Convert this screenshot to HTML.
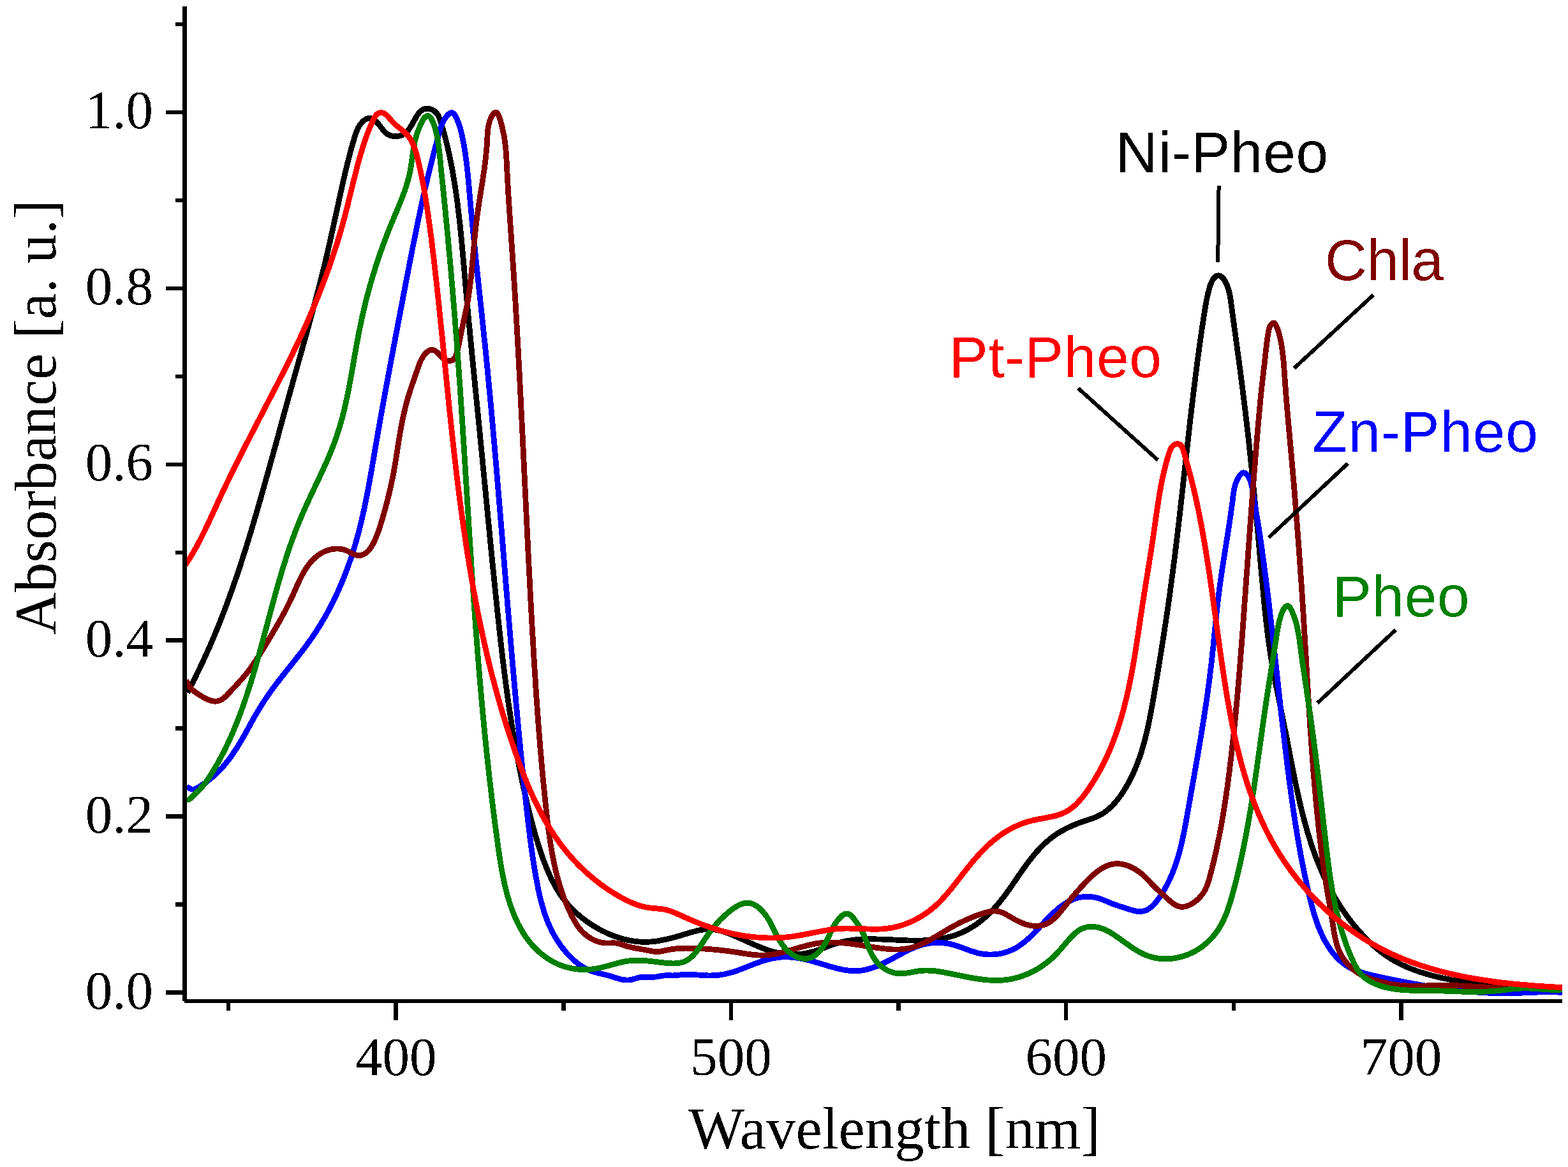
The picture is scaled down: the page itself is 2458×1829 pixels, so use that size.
<!DOCTYPE html>
<html><head><meta charset="utf-8"><title>Absorbance spectra</title>
<style>
html,body{margin:0;padding:0;background:#fff;}
body{width:2458px;height:1829px;overflow:hidden;}
svg{display:block;}
.serif{font-family:"Liberation Serif","Times New Roman",serif;}
.sans{font-family:"Liberation Sans",Arial,sans-serif;}
</style></head>
<body>
<svg xmlns="http://www.w3.org/2000/svg" width="2458" height="1829" viewBox="0 0 2458 1829">
<defs><filter id="bin" x="-5%" y="-20%" width="110%" height="140%"><feComponentTransfer><feFuncA type="discrete" tableValues="0 1"/></feComponentTransfer></filter></defs>
<rect width="2458" height="1829" fill="#fff"/>
<g fill="none" stroke-width="8.8" stroke-linejoin="round" stroke-linecap="butt" shape-rendering="crispEdges">
<path stroke="#000000" d="M293.7 1085.5 295.2 1082.8 296.6 1080.1 298.0 1077.5 299.4 1074.8 300.8 1072.1 302.2 1069.4 303.5 1066.7 304.9 1063.9 306.3 1061.2 307.6 1058.5 308.9 1055.8 310.3 1053.1 311.6 1050.4 312.9 1047.7 314.2 1044.9 315.5 1042.2 316.8 1039.5 318.1 1036.8 319.3 1034.0 320.6 1031.3 321.8 1028.6 323.1 1025.8 324.3 1023.1 325.6 1020.3 326.8 1017.6 328.0 1014.9 329.2 1012.1 330.4 1009.4 331.6 1006.6 332.8 1003.8 333.9 1001.1 335.1 998.3 336.3 995.6 337.4 992.8 338.6 990.0 339.7 987.3 340.8 984.5 342.0 981.7 343.1 979.0 344.2 976.2 345.3 973.4 346.4 970.6 347.5 967.8 348.6 965.1 349.6 962.3 350.7 959.5 351.8 956.7 352.8 953.9 353.9 951.1 354.9 948.3 356.0 945.5 357.0 942.7 358.0 939.9 359.1 937.1 360.1 934.3 361.1 931.5 362.1 928.7 363.1 925.9 364.1 923.1 365.1 920.3 366.1 917.5 367.0 914.7 368.0 911.9 369.0 909.0 370.0 906.2 370.9 903.4 371.9 900.6 372.8 897.7 373.8 894.9 374.7 892.1 375.6 889.3 376.6 886.4 377.5 883.6 378.4 880.8 379.4 877.9 380.3 875.1 381.2 872.3 382.1 869.4 383.0 866.6 383.9 863.7 384.8 860.9 385.7 858.0 386.6 855.2 387.5 852.4 388.3 849.5 389.2 846.7 390.1 843.8 391.0 841.0 391.8 838.1 392.7 835.2 393.6 832.4 394.4 829.5 395.3 826.7 396.1 823.8 397.0 820.9 397.8 818.1 398.7 815.2 399.5 812.4 400.4 809.5 401.2 806.6 402.1 803.8 402.9 800.9 403.7 798.0 404.6 795.1 405.4 792.3 406.2 789.4 407.0 786.5 407.9 783.7 408.7 780.8 409.5 777.9 410.3 775.0 411.1 772.1 412.0 769.3 412.8 766.4 413.6 763.5 414.4 760.6 415.2 757.7 416.0 754.8 416.8 752.0 417.6 749.1 418.4 746.2 419.3 743.3 420.1 740.4 420.9 737.5 421.7 734.6 422.5 731.7 423.3 728.8 424.1 725.9 424.9 723.1 425.7 720.2 426.5 717.3 427.3 714.4 428.1 711.5 428.9 708.6 429.7 705.7 430.5 702.8 431.3 699.9 432.1 697.0 432.9 694.1 433.7 691.2 434.5 688.3 435.3 685.4 436.1 682.5 436.8 679.6 437.6 676.7 438.4 673.8 439.2 670.9 440.0 668.0 440.8 665.1 441.6 662.2 442.4 659.2 443.2 656.3 444.0 653.4 444.8 650.5 445.6 647.6 446.4 644.7 447.2 641.8 448.0 638.9 448.8 636.0 449.6 633.1 450.4 630.2 451.2 627.3 452.0 624.3 452.8 621.4 453.6 618.5 454.5 615.6 455.3 612.7 456.1 609.8 456.9 606.9 457.7 604.0 458.5 601.1 459.3 598.2 460.1 595.2 460.9 592.3 461.8 589.4 462.6 586.5 463.4 583.6 464.2 580.7 465.0 577.8 465.8 574.9 466.7 571.9 467.5 569.0 468.3 566.1 469.1 563.2 469.9 560.3 470.8 557.4 471.6 554.5 472.4 551.6 473.2 548.7 474.0 545.7 474.8 542.8 475.7 539.9 476.5 537.0 477.3 534.1 478.1 531.2 478.9 528.3 479.7 525.4 480.5 522.5 481.3 519.6 482.1 516.6 482.9 513.7 483.7 510.8 484.5 507.9 485.3 505.0 486.1 502.1 486.9 499.2 487.7 496.3 488.5 493.4 489.3 490.5 490.1 487.6 490.9 484.7 491.6 481.8 492.4 478.9 493.2 476.0 494.0 473.1 494.7 470.1 495.5 467.2 496.3 464.3 497.0 461.4 497.8 458.5 498.6 455.6 499.3 452.7 500.1 449.8 500.8 446.9 501.5 444.0 502.3 441.2 503.0 438.3 503.7 435.4 504.5 432.5 505.2 429.6 505.9 426.7 506.6 423.8 507.3 420.9 508.0 418.0 508.7 415.1 509.4 412.2 510.1 409.3 510.8 406.4 511.5 403.6 512.2 400.7 512.8 397.8 513.5 394.9 514.2 392.0 514.8 389.1 515.5 386.2 516.1 383.3 516.8 380.5 517.5 377.6 518.1 374.7 518.7 371.8 519.4 368.9 520.0 366.0 520.7 363.1 521.3 360.3 522.0 357.4 522.6 354.5 523.2 351.6 523.9 348.7 524.5 345.8 525.1 342.9 525.8 340.0 526.4 337.1 527.0 334.2 527.7 331.3 528.3 328.4 528.9 325.6 529.6 322.7 530.2 319.8 530.8 316.9 531.5 313.9 532.1 311.0 532.7 308.1 533.4 305.2 534.0 302.3 534.7 299.4 535.3 296.5 536.0 293.6 536.6 290.7 537.3 287.7 537.9 284.8 538.6 281.9 539.3 279.0 539.9 276.0 540.6 273.1 541.3 270.2 542.0 267.2 542.7 264.3 543.4 261.3 544.1 258.4 544.8 255.4 545.6 252.5 546.3 249.5 547.1 246.6 547.8 243.6 548.6 240.7 549.4 237.7 550.2 234.7 551.0 231.7 551.9 228.8 552.7 225.8 553.6 222.8 554.5 219.8 555.4 216.8 556.3 213.8 557.2 210.8 558.3 207.9 559.4 205.0 560.6 202.2 561.9 199.5 563.5 196.8 565.2 194.4 567.1 192.1 569.2 189.9 571.6 188.1 574.1 186.6 576.6 185.7 579.2 185.3 581.8 185.6 584.3 186.6 586.8 188.0 589.1 190.0 591.4 192.2 593.5 194.7 595.6 197.3 597.6 200.0 599.6 202.6 601.7 205.1 603.9 207.4 606.2 209.4 608.6 211.0 611.2 212.2 613.9 213.1 616.7 213.6 619.5 213.8 622.3 213.7 625.2 213.3 627.9 212.6 630.6 211.6 633.2 210.2 635.6 208.5 637.8 206.5 639.9 204.1 641.9 201.5 643.7 198.7 645.5 195.8 647.2 192.7 648.8 189.7 650.5 186.7 652.1 183.7 653.9 180.9 655.7 178.3 657.6 176.0 659.6 174.0 661.8 172.3 664.1 171.1 666.7 170.3 669.4 170.1 672.3 170.4 675.2 171.1 677.9 172.2 680.5 173.7 682.8 175.5 684.7 177.6 686.3 179.9 687.6 182.4 688.8 185.0 689.8 187.8 690.8 190.7 691.7 193.5 692.5 196.4 693.4 199.3 694.3 202.2 695.1 205.1 695.9 208.0 696.7 210.9 697.5 213.8 698.2 216.8 699.0 219.7 699.7 222.7 700.5 225.6 701.2 228.6 701.8 231.5 702.5 234.5 703.2 237.5 703.8 240.4 704.5 243.4 705.1 246.4 705.7 249.4 706.3 252.3 706.9 255.3 707.5 258.3 708.1 261.3 708.6 264.2 709.2 267.2 709.7 270.2 710.2 273.2 710.7 276.1 711.2 279.1 711.7 282.1 712.2 285.1 712.7 288.1 713.2 291.0 713.6 294.0 714.1 297.0 714.5 300.0 714.9 302.9 715.4 305.9 715.8 308.9 716.2 311.9 716.6 314.9 717.0 317.8 717.4 320.8 717.7 323.8 718.1 326.8 718.5 329.7 718.8 332.7 719.2 335.7 719.5 338.7 719.9 341.7 720.2 344.6 720.5 347.6 720.9 350.6 721.2 353.6 721.5 356.6 721.8 359.5 722.1 362.5 722.4 365.5 722.7 368.5 723.0 371.5 723.3 374.4 723.6 377.4 723.9 380.4 724.1 383.4 724.4 386.4 724.7 389.3 725.0 392.3 725.2 395.3 725.5 398.3 725.8 401.3 726.0 404.2 726.3 407.2 726.6 410.2 726.8 413.2 727.1 416.2 727.3 419.1 727.6 422.1 727.9 425.1 728.1 428.1 728.4 431.1 728.6 434.1 728.9 437.0 729.2 440.0 729.4 443.0 729.7 446.0 729.9 449.0 730.2 452.0 730.5 454.9 730.7 457.9 731.0 460.9 731.3 463.9 731.5 466.9 731.8 469.9 732.1 472.8 732.4 475.8 732.6 478.8 732.9 481.8 733.2 484.8 733.5 487.8 733.7 490.7 734.0 493.7 734.3 496.7 734.6 499.7 734.9 502.7 735.1 505.7 735.4 508.6 735.7 511.6 736.0 514.6 736.3 517.6 736.6 520.6 736.8 523.6 737.1 526.6 737.4 529.5 737.7 532.5 738.0 535.5 738.3 538.5 738.6 541.5 738.9 544.5 739.2 547.4 739.4 550.4 739.7 553.4 740.0 556.4 740.3 559.4 740.6 562.4 740.9 565.4 741.2 568.4 741.5 571.3 741.8 574.3 742.1 577.3 742.4 580.3 742.7 583.3 743.0 586.3 743.3 589.3 743.6 592.2 743.9 595.2 744.2 598.2 744.4 601.2 744.7 604.2 745.0 607.2 745.3 610.2 745.6 613.2 745.9 616.1 746.2 619.1 746.5 622.1 746.8 625.1 747.1 628.1 747.4 631.1 747.7 634.1 748.0 637.1 748.3 640.1 748.6 643.0 748.9 646.0 749.2 649.0 749.5 652.0 749.8 655.0 750.1 658.0 750.4 661.0 750.7 664.0 751.0 667.0 751.3 669.9 751.6 672.9 751.9 675.9 752.2 678.9 752.4 681.9 752.7 684.9 753.0 687.9 753.3 690.9 753.6 693.9 753.9 696.8 754.2 699.8 754.5 702.8 754.8 705.8 755.1 708.8 755.4 711.8 755.7 714.8 756.0 717.8 756.2 720.8 756.5 723.8 756.8 726.8 757.1 729.7 757.4 732.7 757.7 735.7 758.0 738.7 758.3 741.7 758.6 744.7 758.9 747.7 759.1 750.7 759.4 753.7 759.7 756.7 760.0 759.6 760.3 762.6 760.6 765.6 760.9 768.6 761.2 771.6 761.5 774.6 761.7 777.6 762.0 780.6 762.3 783.6 762.6 786.6 762.9 789.6 763.2 792.5 763.5 795.5 763.8 798.5 764.1 801.5 764.3 804.5 764.6 807.5 764.9 810.5 765.2 813.5 765.5 816.5 765.8 819.5 766.1 822.4 766.4 825.4 766.7 828.4 767.0 831.4 767.3 834.4 767.5 837.4 767.8 840.4 768.1 843.4 768.4 846.4 768.7 849.3 769.0 852.3 769.3 855.3 769.6 858.3 769.9 861.3 770.2 864.3 770.5 867.3 770.8 870.3 771.1 873.2 771.4 876.2 771.7 879.2 772.0 882.2 772.3 885.2 772.6 888.2 772.9 891.2 773.2 894.2 773.5 897.1 773.8 900.1 774.1 903.1 774.4 906.1 774.7 909.1 775.0 912.1 775.3 915.1 775.6 918.0 775.9 921.0 776.2 924.0 776.5 927.0 776.8 930.0 777.1 933.0 777.4 935.9 777.8 938.9 778.1 941.9 778.4 944.9 778.7 947.9 779.0 950.8 779.3 953.8 779.6 956.8 779.9 959.8 780.3 962.8 780.6 965.8 780.9 968.7 781.2 971.7 781.5 974.7 781.9 977.7 782.2 980.7 782.5 983.6 782.8 986.6 783.2 989.6 783.5 992.6 783.8 995.5 784.2 998.5 784.5 1001.5 784.8 1004.5 785.2 1007.5 785.5 1010.4 785.8 1013.4 786.2 1016.4 786.5 1019.4 786.9 1022.3 787.2 1025.3 787.6 1028.3 787.9 1031.2 788.3 1034.2 788.6 1037.2 789.0 1040.2 789.4 1043.1 789.7 1046.1 790.1 1049.1 790.5 1052.0 790.8 1055.0 791.2 1058.0 791.6 1061.0 792.0 1063.9 792.3 1066.9 792.7 1069.9 793.1 1072.8 793.5 1075.8 793.9 1078.8 794.3 1081.7 794.7 1084.7 795.1 1087.7 795.5 1090.6 795.9 1093.6 796.4 1096.6 796.8 1099.5 797.2 1102.5 797.6 1105.5 798.1 1108.4 798.5 1111.4 798.9 1114.3 799.4 1117.3 799.8 1120.3 800.3 1123.2 800.7 1126.2 801.2 1129.1 801.7 1132.1 802.1 1135.1 802.6 1138.0 803.1 1141.0 803.5 1143.9 804.0 1146.9 804.5 1149.8 805.0 1152.8 805.5 1155.7 806.0 1158.7 806.5 1161.7 807.0 1164.6 807.6 1167.6 808.1 1170.5 808.6 1173.5 809.1 1176.4 809.7 1179.4 810.2 1182.3 810.8 1185.3 811.3 1188.2 811.9 1191.2 812.4 1194.1 813.0 1197.1 813.6 1200.0 814.2 1202.9 814.8 1205.9 815.3 1208.8 815.9 1211.8 816.5 1214.7 817.2 1217.7 817.8 1220.6 818.4 1223.6 819.0 1226.5 819.6 1229.4 820.3 1232.4 820.9 1235.3 821.6 1238.3 822.2 1241.2 822.9 1244.1 823.6 1247.1 824.2 1250.0 824.9 1253.0 825.6 1255.9 826.3 1258.8 827.0 1261.8 827.7 1264.7 828.4 1267.6 829.1 1270.6 829.9 1273.5 830.6 1276.5 831.3 1279.4 832.1 1282.3 832.8 1285.3 833.6 1288.2 834.4 1291.1 835.2 1294.0 836.0 1296.9 836.8 1299.9 837.6 1302.8 838.4 1305.7 839.2 1308.6 840.1 1311.5 840.9 1314.4 841.8 1317.3 842.7 1320.1 843.6 1323.0 844.5 1325.9 845.4 1328.7 846.3 1331.6 847.3 1334.5 848.3 1337.3 849.2 1340.1 850.2 1342.9 851.2 1345.8 852.2 1348.6 853.3 1351.4 854.3 1354.1 855.4 1356.9 856.5 1359.7 857.6 1362.4 858.8 1365.2 860.0 1367.9 861.1 1370.6 862.4 1373.3 863.6 1375.9 864.9 1378.6 866.2 1381.2 867.6 1383.8 869.0 1386.4 870.4 1389.0 871.8 1391.6 873.3 1394.1 874.9 1396.6 876.5 1399.1 878.1 1401.6 879.7 1404.0 881.5 1406.4 883.2 1408.8 885.0 1411.1 886.9 1413.5 888.8 1415.8 890.7 1418.0 892.8 1420.3 894.8 1422.5 896.9 1424.6 899.1 1426.8 901.3 1428.9 903.5 1431.0 905.8 1433.0 908.1 1435.0 910.5 1437.0 912.9 1438.9 915.3 1440.8 917.8 1442.6 920.3 1444.4 922.8 1446.2 925.3 1447.9 927.9 1449.6 930.5 1451.2 933.2 1452.8 935.8 1454.4 938.5 1455.9 941.2 1457.4 943.9 1458.8 946.6 1460.1 949.4 1461.5 952.1 1462.7 954.9 1464.0 957.7 1465.1 960.5 1466.2 963.3 1467.3 966.1 1468.3 968.9 1469.3 971.8 1470.2 974.6 1471.0 977.5 1471.8 980.3 1472.5 983.2 1473.2 986.1 1473.8 989.0 1474.3 991.9 1474.8 994.8 1475.2 997.7 1475.6 1000.6 1475.9 1003.5 1476.1 1006.5 1476.2 1009.4 1476.3 1012.3 1476.3 1015.3 1476.2 1018.2 1476.1 1021.2 1475.9 1024.1 1475.6 1027.1 1475.3 1030.0 1474.9 1033.0 1474.4 1035.9 1473.9 1038.9 1473.3 1041.9 1472.7 1044.8 1472.1 1047.8 1471.4 1050.7 1470.6 1053.7 1469.9 1056.6 1469.1 1059.6 1468.2 1062.5 1467.4 1065.5 1466.6 1068.4 1465.7 1071.4 1464.8 1074.3 1463.9 1077.3 1463.0 1080.2 1462.1 1083.1 1461.3 1086.0 1460.5 1088.9 1459.7 1091.9 1458.9 1094.8 1458.3 1097.7 1457.7 1100.6 1457.2 1103.4 1456.8 1106.3 1456.5 1109.2 1456.3 1112.1 1456.3 1115.0 1456.3 1117.8 1456.6 1120.7 1456.9 1123.6 1457.4 1126.4 1458.0 1129.2 1458.7 1132.1 1459.5 1134.9 1460.4 1137.8 1461.3 1140.6 1462.3 1143.4 1463.4 1146.2 1464.5 1149.0 1465.7 1151.8 1466.9 1154.6 1468.1 1157.4 1469.3 1160.2 1470.6 1163.0 1471.8 1165.8 1473.1 1168.6 1474.4 1171.3 1475.6 1174.1 1476.9 1176.9 1478.1 1179.7 1479.4 1182.5 1480.6 1185.3 1481.8 1188.1 1483.0 1190.9 1484.2 1193.7 1485.3 1196.5 1486.4 1199.3 1487.5 1202.1 1488.5 1205.0 1489.4 1207.8 1490.4 1210.7 1491.2 1213.5 1492.0 1216.4 1492.7 1219.3 1493.4 1222.2 1494.0 1225.1 1494.5 1228.0 1495.0 1231.0 1495.3 1233.9 1495.6 1236.9 1495.8 1239.9 1495.9 1242.8 1496.0 1245.8 1495.9 1248.8 1495.8 1251.8 1495.6 1254.8 1495.3 1257.8 1495.0 1260.7 1494.5 1263.7 1494.0 1266.6 1493.4 1269.6 1492.7 1272.5 1492.0 1275.4 1491.2 1278.3 1490.3 1281.2 1489.3 1284.1 1488.3 1287.0 1487.3 1289.8 1486.2 1292.7 1485.2 1295.5 1484.1 1298.4 1483.0 1301.2 1481.9 1304.1 1480.9 1306.9 1479.9 1309.8 1479.0 1312.6 1478.2 1315.5 1477.4 1318.4 1476.6 1321.3 1476.0 1324.2 1475.4 1327.1 1474.8 1330.0 1474.3 1332.9 1473.9 1335.8 1473.5 1338.7 1473.1 1341.7 1472.8 1344.6 1472.6 1347.6 1472.3 1350.5 1472.2 1353.5 1472.0 1356.4 1471.9 1359.4 1471.8 1362.4 1471.8 1365.3 1471.8 1368.3 1471.8 1371.3 1471.8 1374.3 1471.9 1377.3 1472.0 1380.3 1472.0 1383.3 1472.2 1386.3 1472.3 1389.3 1472.4 1392.3 1472.5 1395.3 1472.7 1398.3 1472.8 1401.3 1473.0 1404.3 1473.1 1407.4 1473.3 1410.4 1473.4 1413.4 1473.5 1416.4 1473.7 1419.5 1473.8 1422.5 1473.9 1425.5 1473.9 1428.6 1474.0 1431.6 1474.1 1434.6 1474.1 1437.6 1474.1 1440.7 1474.0 1443.7 1474.0 1446.7 1473.9 1449.7 1473.8 1452.7 1473.6 1455.7 1473.4 1458.7 1473.2 1461.6 1472.9 1464.6 1472.6 1467.6 1472.3 1470.5 1471.9 1473.4 1471.4 1476.3 1470.9 1479.2 1470.4 1482.1 1469.8 1485.0 1469.2 1487.9 1468.4 1490.7 1467.7 1493.5 1466.9 1496.3 1466.0 1499.1 1465.0 1501.8 1464.0 1504.6 1462.9 1507.3 1461.7 1510.0 1460.5 1512.7 1459.2 1515.3 1457.9 1517.9 1456.4 1520.5 1455.0 1523.1 1453.4 1525.6 1451.8 1528.1 1450.2 1530.6 1448.5 1533.0 1446.7 1535.4 1444.9 1537.8 1443.1 1540.2 1441.2 1542.5 1439.3 1544.8 1437.3 1547.0 1435.3 1549.2 1433.2 1551.4 1431.1 1553.5 1429.0 1555.6 1426.8 1557.7 1424.6 1559.7 1422.4 1561.7 1420.2 1563.7 1417.9 1565.6 1415.6 1567.5 1413.3 1569.4 1410.9 1571.2 1408.6 1573.1 1406.2 1574.9 1403.8 1576.7 1401.4 1578.4 1398.9 1580.2 1396.5 1581.9 1394.0 1583.7 1391.6 1585.4 1389.1 1587.1 1386.6 1588.8 1384.1 1590.5 1381.6 1592.2 1379.2 1593.9 1376.7 1595.6 1374.2 1597.3 1371.7 1599.0 1369.2 1600.8 1366.7 1602.5 1364.3 1604.2 1361.8 1606.0 1359.4 1607.7 1356.9 1609.5 1354.5 1611.3 1352.1 1613.1 1349.7 1614.9 1347.4 1616.8 1345.0 1618.6 1342.7 1620.5 1340.4 1622.5 1338.1 1624.4 1335.8 1626.4 1333.6 1628.4 1331.4 1630.4 1329.2 1632.5 1327.1 1634.6 1325.0 1636.7 1322.9 1638.9 1320.9 1641.1 1318.9 1643.4 1317.0 1645.7 1315.1 1648.1 1313.2 1650.4 1311.4 1652.9 1309.6 1655.4 1307.9 1657.9 1306.2 1660.5 1304.6 1663.2 1303.0 1665.8 1301.5 1668.6 1300.0 1671.3 1298.6 1674.1 1297.2 1676.9 1295.9 1679.8 1294.6 1682.6 1293.3 1685.5 1292.2 1688.3 1291.0 1691.2 1289.9 1694.1 1288.9 1696.9 1287.8 1699.8 1286.9 1702.6 1285.9 1705.4 1285.0 1708.2 1284.1 1711.0 1283.2 1713.7 1282.2 1716.4 1281.2 1719.0 1280.1 1721.6 1278.9 1724.1 1277.6 1726.6 1276.3 1729.1 1274.8 1731.4 1273.2 1733.8 1271.5 1736.0 1269.7 1738.2 1267.8 1740.4 1265.8 1742.5 1263.8 1744.6 1261.7 1746.6 1259.5 1748.6 1257.3 1750.5 1255.0 1752.4 1252.6 1754.3 1250.2 1756.1 1247.7 1757.8 1245.2 1759.5 1242.7 1761.2 1240.1 1762.8 1237.5 1764.4 1234.9 1766.0 1232.3 1767.5 1229.6 1768.9 1227.0 1770.4 1224.3 1771.8 1221.6 1773.1 1218.9 1774.5 1216.2 1775.7 1213.4 1777.0 1210.7 1778.2 1207.9 1779.4 1205.2 1780.6 1202.4 1781.7 1199.6 1782.8 1196.8 1783.8 1194.0 1784.9 1191.2 1785.9 1188.4 1786.9 1185.6 1787.8 1182.7 1788.8 1179.9 1789.7 1177.0 1790.6 1174.2 1791.4 1171.3 1792.2 1168.4 1793.1 1165.6 1793.9 1162.7 1794.6 1159.8 1795.4 1156.9 1796.1 1154.0 1796.8 1151.1 1797.5 1148.2 1798.2 1145.2 1798.9 1142.3 1799.5 1139.4 1800.2 1136.4 1800.8 1133.5 1801.4 1130.6 1802.0 1127.6 1802.6 1124.7 1803.1 1121.7 1803.7 1118.8 1804.3 1115.8 1804.8 1112.9 1805.3 1109.9 1805.9 1106.9 1806.4 1104.0 1806.9 1101.0 1807.4 1098.0 1808.0 1095.1 1808.5 1092.1 1809.0 1089.1 1809.5 1086.2 1810.0 1083.2 1810.5 1080.2 1811.0 1077.3 1811.5 1074.3 1812.0 1071.4 1812.5 1068.4 1813.0 1065.4 1813.5 1062.5 1814.0 1059.5 1814.5 1056.5 1814.9 1053.6 1815.4 1050.6 1815.9 1047.7 1816.4 1044.7 1816.9 1041.7 1817.4 1038.8 1817.9 1035.8 1818.3 1032.8 1818.8 1029.9 1819.3 1026.9 1819.8 1024.0 1820.2 1021.0 1820.7 1018.0 1821.2 1015.1 1821.7 1012.1 1822.1 1009.2 1822.6 1006.2 1823.0 1003.2 1823.5 1000.3 1824.0 997.3 1824.4 994.4 1824.9 991.4 1825.3 988.4 1825.8 985.5 1826.2 982.5 1826.7 979.6 1827.1 976.6 1827.6 973.6 1828.0 970.7 1828.5 967.7 1828.9 964.7 1829.3 961.8 1829.8 958.8 1830.2 955.9 1830.6 952.9 1831.1 949.9 1831.5 947.0 1831.9 944.0 1832.3 941.0 1832.8 938.1 1833.2 935.1 1833.6 932.1 1834.0 929.2 1834.4 926.2 1834.8 923.2 1835.2 920.3 1835.6 917.3 1836.0 914.3 1836.4 911.3 1836.8 908.4 1837.2 905.4 1837.6 902.4 1838.0 899.4 1838.4 896.5 1838.8 893.5 1839.2 890.5 1839.6 887.5 1839.9 884.6 1840.3 881.6 1840.7 878.6 1841.1 875.6 1841.4 872.7 1841.8 869.7 1842.2 866.7 1842.6 863.7 1842.9 860.7 1843.3 857.8 1843.6 854.8 1844.0 851.8 1844.4 848.8 1844.7 845.8 1845.1 842.9 1845.4 839.9 1845.8 836.9 1846.1 833.9 1846.5 830.9 1846.8 827.9 1847.2 824.9 1847.5 822.0 1847.9 819.0 1848.2 816.0 1848.6 813.0 1848.9 810.0 1849.3 807.0 1849.6 804.1 1849.9 801.1 1850.3 798.1 1850.6 795.1 1850.9 792.1 1851.3 789.1 1851.6 786.1 1852.0 783.1 1852.3 780.2 1852.6 777.2 1853.0 774.2 1853.3 771.2 1853.6 768.2 1854.0 765.2 1854.3 762.2 1854.6 759.2 1854.9 756.3 1855.3 753.3 1855.6 750.3 1855.9 747.3 1856.3 744.3 1856.6 741.3 1856.9 738.3 1857.3 735.3 1857.6 732.4 1857.9 729.4 1858.2 726.4 1858.6 723.4 1858.9 720.4 1859.2 717.4 1859.6 714.4 1859.9 711.4 1860.2 708.5 1860.6 705.5 1860.9 702.5 1861.2 699.5 1861.6 696.5 1861.9 693.5 1862.2 690.5 1862.6 687.6 1862.9 684.6 1863.2 681.6 1863.6 678.6 1863.9 675.6 1864.2 672.6 1864.6 669.7 1864.9 666.7 1865.3 663.7 1865.6 660.7 1865.9 657.7 1866.3 654.7 1866.6 651.8 1867.0 648.8 1867.3 645.8 1867.7 642.8 1868.0 639.8 1868.4 636.9 1868.7 633.9 1869.1 630.9 1869.4 627.9 1869.8 625.0 1870.1 622.0 1870.5 619.0 1870.8 616.0 1871.2 613.1 1871.6 610.1 1871.9 607.1 1872.3 604.1 1872.7 601.2 1873.0 598.2 1873.4 595.2 1873.8 592.2 1874.1 589.3 1874.5 586.3 1874.9 583.3 1875.3 580.4 1875.7 577.4 1876.0 574.4 1876.4 571.5 1876.8 568.5 1877.2 565.5 1877.6 562.6 1878.0 559.6 1878.4 556.6 1878.8 553.7 1879.2 550.7 1879.6 547.8 1880.0 544.8 1880.4 541.8 1880.8 538.9 1881.2 535.9 1881.7 533.0 1882.1 530.0 1882.5 527.1 1882.9 524.1 1883.3 521.2 1883.8 518.2 1884.2 515.3 1884.6 512.3 1885.1 509.4 1885.5 506.4 1886.0 503.5 1886.4 500.5 1886.9 497.6 1887.3 494.6 1887.8 491.7 1888.2 488.7 1888.7 485.8 1889.2 482.9 1889.7 479.9 1890.2 476.9 1890.7 474.0 1891.3 471.0 1891.9 468.0 1892.5 465.0 1893.2 462.0 1893.9 458.9 1894.7 455.9 1895.6 452.8 1896.4 449.6 1897.4 446.5 1898.6 443.5 1899.9 440.6 1901.4 437.9 1903.3 435.5 1905.3 433.5 1907.5 432.2 1909.9 431.8 1912.2 432.2 1914.4 433.4 1916.5 435.3 1918.4 437.6 1920.1 440.2 1921.7 443.1 1923.0 446.0 1924.2 449.0 1925.3 451.9 1926.2 454.9 1926.9 458.0 1927.6 461.0 1928.2 464.0 1928.7 467.0 1929.2 470.1 1929.6 473.1 1930.0 476.1 1930.4 479.1 1930.8 482.1 1931.2 485.1 1931.6 488.1 1932.0 491.1 1932.4 494.1 1932.8 497.0 1933.2 500.0 1933.6 502.9 1934.0 505.9 1934.4 508.8 1934.8 511.8 1935.2 514.7 1935.6 517.6 1936.0 520.6 1936.4 523.5 1936.8 526.4 1937.2 529.4 1937.6 532.3 1938.0 535.2 1938.4 538.2 1938.8 541.1 1939.2 544.0 1939.6 547.0 1940.0 549.9 1940.4 552.9 1940.8 555.8 1941.2 558.8 1941.6 561.7 1942.0 564.7 1942.4 567.6 1942.8 570.6 1943.2 573.6 1943.6 576.5 1944.0 579.5 1944.3 582.5 1944.7 585.5 1945.1 588.4 1945.5 591.4 1945.9 594.4 1946.3 597.4 1946.6 600.4 1947.0 603.4 1947.4 606.4 1947.8 609.4 1948.2 612.4 1948.5 615.4 1948.9 618.4 1949.3 621.4 1949.7 624.4 1950.0 627.4 1950.4 630.4 1950.8 633.4 1951.1 636.4 1951.5 639.4 1951.9 642.5 1952.2 645.5 1952.6 648.5 1952.9 651.5 1953.3 654.5 1953.6 657.5 1954.0 660.5 1954.3 663.5 1954.7 666.5 1955.0 669.5 1955.4 672.5 1955.7 675.5 1956.1 678.5 1956.4 681.5 1956.7 684.5 1957.1 687.5 1957.4 690.5 1957.7 693.5 1958.1 696.5 1958.4 699.5 1958.7 702.5 1959.0 705.5 1959.4 708.5 1959.7 711.5 1960.0 714.5 1960.3 717.5 1960.6 720.5 1960.9 723.5 1961.3 726.5 1961.6 729.5 1961.9 732.5 1962.2 735.4 1962.5 738.4 1962.8 741.4 1963.1 744.4 1963.4 747.4 1963.7 750.4 1964.0 753.4 1964.3 756.4 1964.6 759.3 1964.9 762.3 1965.2 765.3 1965.5 768.3 1965.8 771.3 1966.1 774.3 1966.4 777.2 1966.7 780.2 1966.9 783.2 1967.2 786.2 1967.5 789.2 1967.8 792.1 1968.1 795.1 1968.4 798.1 1968.7 801.1 1968.9 804.0 1969.2 807.0 1969.5 810.0 1969.8 813.0 1970.1 815.9 1970.3 818.9 1970.6 821.9 1970.9 824.9 1971.2 827.8 1971.4 830.8 1971.7 833.8 1972.0 836.8 1972.2 839.7 1972.5 842.7 1972.8 845.7 1973.1 848.6 1973.3 851.6 1973.6 854.6 1973.9 857.6 1974.1 860.5 1974.4 863.5 1974.7 866.5 1974.9 869.4 1975.2 872.4 1975.5 875.4 1975.7 878.3 1976.0 881.3 1976.3 884.3 1976.5 887.2 1976.8 890.2 1977.0 893.2 1977.3 896.1 1977.6 899.1 1977.8 902.1 1978.1 905.0 1978.4 908.0 1978.6 911.0 1978.9 913.9 1979.2 916.9 1979.4 919.9 1979.7 922.8 1980.0 925.8 1980.2 928.7 1980.5 931.7 1980.8 934.7 1981.1 937.6 1981.4 940.6 1981.7 943.6 1981.9 946.5 1982.2 949.5 1982.5 952.5 1982.8 955.4 1983.1 958.4 1983.5 961.4 1983.8 964.3 1984.1 967.3 1984.4 970.2 1984.7 973.2 1985.1 976.2 1985.4 979.1 1985.8 982.1 1986.1 985.1 1986.5 988.0 1986.8 991.0 1987.2 993.9 1987.6 996.9 1988.0 999.9 1988.4 1002.8 1988.8 1005.8 1989.2 1008.8 1989.6 1011.7 1990.0 1014.7 1990.5 1017.7 1990.9 1020.6 1991.4 1023.6 1991.8 1026.6 1992.3 1029.5 1992.8 1032.5 1993.3 1035.5 1993.7 1038.4 1994.3 1041.4 1994.8 1044.3 1995.3 1047.3 1995.8 1050.3 1996.4 1053.2 1996.9 1056.2 1997.5 1059.2 1998.0 1062.1 1998.6 1065.1 1999.2 1068.1 1999.7 1071.1 2000.3 1074.0 2000.9 1077.0 2001.5 1080.0 2002.1 1082.9 2002.7 1085.9 2003.3 1088.9 2003.9 1091.8 2004.5 1094.8 2005.1 1097.8 2005.7 1100.7 2006.3 1103.7 2006.9 1106.7 2007.5 1109.7 2008.1 1112.6 2008.8 1115.6 2009.4 1118.6 2010.0 1121.6 2010.6 1124.5 2011.2 1127.5 2011.8 1130.5 2012.4 1133.5 2013.0 1136.4 2013.6 1139.4 2014.2 1142.4 2014.8 1145.4 2015.4 1148.3 2016.0 1151.3 2016.6 1154.3 2017.2 1157.3 2017.7 1160.2 2018.3 1163.2 2018.9 1166.2 2019.5 1169.2 2020.0 1172.2 2020.6 1175.1 2021.2 1178.1 2021.8 1181.1 2022.3 1184.1 2022.9 1187.0 2023.5 1190.0 2024.1 1193.0 2024.6 1195.9 2025.2 1198.9 2025.8 1201.9 2026.4 1204.8 2027.0 1207.8 2027.6 1210.8 2028.2 1213.7 2028.7 1216.7 2029.3 1219.6 2030.0 1222.6 2030.6 1225.5 2031.2 1228.5 2031.8 1231.4 2032.4 1234.4 2033.0 1237.3 2033.7 1240.2 2034.3 1243.2 2035.0 1246.1 2035.6 1249.0 2036.3 1252.0 2036.9 1254.9 2037.6 1257.8 2038.3 1260.7 2039.0 1263.6 2039.7 1266.5 2040.4 1269.4 2041.1 1272.3 2041.8 1275.2 2042.6 1278.1 2043.3 1281.0 2044.1 1283.9 2044.8 1286.7 2045.6 1289.6 2046.4 1292.5 2047.2 1295.3 2048.0 1298.2 2048.8 1301.1 2049.6 1303.9 2050.5 1306.7 2051.3 1309.6 2052.2 1312.4 2053.1 1315.2 2054.0 1318.1 2054.9 1320.9 2055.8 1323.7 2056.7 1326.5 2057.7 1329.3 2058.7 1332.1 2059.6 1334.8 2060.6 1337.6 2061.7 1340.4 2062.7 1343.2 2063.7 1345.9 2064.8 1348.7 2065.9 1351.4 2067.0 1354.1 2068.1 1356.9 2069.2 1359.6 2070.4 1362.3 2071.5 1365.0 2072.7 1367.7 2073.9 1370.4 2075.1 1373.1 2076.4 1375.8 2077.7 1378.4 2078.9 1381.1 2080.2 1383.8 2081.6 1386.4 2082.9 1389.0 2084.3 1391.7 2085.7 1394.3 2087.1 1396.9 2088.5 1399.5 2090.0 1402.1 2091.4 1404.7 2092.9 1407.2 2094.5 1409.8 2096.0 1412.4 2097.6 1414.9 2099.2 1417.4 2100.8 1420.0 2102.4 1422.5 2104.1 1425.0 2105.8 1427.5 2107.5 1430.0 2109.2 1432.4 2111.0 1434.9 2112.8 1437.4 2114.6 1439.8 2116.5 1442.2 2118.4 1444.7 2120.3 1447.1 2122.2 1449.5 2124.1 1451.9 2126.1 1454.2 2128.1 1456.6 2130.2 1458.9 2132.2 1461.2 2134.3 1463.5 2136.4 1465.8 2138.6 1468.1 2140.7 1470.3 2142.9 1472.5 2145.1 1474.6 2147.3 1476.8 2149.6 1478.9 2151.8 1480.9 2154.1 1483.0 2156.5 1485.0 2158.8 1487.0 2161.2 1488.9 2163.5 1490.8 2165.9 1492.6 2168.3 1494.4 2170.8 1496.2 2173.2 1497.9 2175.7 1499.6 2178.2 1501.2 2180.7 1502.8 2183.3 1504.3 2185.8 1505.8 2188.4 1507.3 2191.0 1508.7 2193.6 1510.0 2196.2 1511.3 2198.8 1512.6 2201.5 1513.8 2204.1 1515.0 2206.8 1516.2 2209.5 1517.3 2212.2 1518.4 2215.0 1519.4 2217.7 1520.5 2220.5 1521.5 2223.2 1522.4 2226.0 1523.4 2228.8 1524.3 2231.6 1525.1 2234.4 1526.0 2237.3 1526.8 2240.1 1527.6 2243.0 1528.4 2245.8 1529.2 2248.7 1529.9 2251.6 1530.6 2254.5 1531.3 2257.4 1532.0 2260.3 1532.7 2263.2 1533.3 2266.2 1533.9 2269.1 1534.5 2272.0 1535.1 2275.0 1535.7 2278.0 1536.3 2280.9 1536.8 2283.9 1537.3 2286.9 1537.8 2289.9 1538.3 2292.9 1538.8 2295.9 1539.2 2298.9 1539.6 2301.9 1540.1 2304.9 1540.5 2307.9 1540.9 2311.0 1541.3 2314.0 1541.6 2317.0 1542.0 2320.1 1542.3 2323.1 1542.6 2326.1 1543.0 2329.2 1543.3 2332.2 1543.5 2335.3 1543.8 2338.3 1544.1 2341.4 1544.3 2344.4 1544.6 2347.5 1544.8 2350.5 1545.1 2353.6 1545.3 2356.6 1545.5 2359.7 1545.7 2362.7 1545.9 2365.7 1546.0 2368.8 1546.2 2371.8 1546.4 2374.9 1546.5 2377.9 1546.7 2380.9 1546.8 2383.9 1547.0 2387.0 1547.1 2390.0 1547.2 2393.0 1547.3 2396.0 1547.5 2399.0 1547.6 2402.0 1547.7 2405.0 1547.8 2408.0 1547.9 2411.0 1548.0 2413.9 1548.1 2416.9 1548.1 2419.9 1548.2 2422.8 1548.3 2425.7 1548.4 2428.7 1548.5 2431.6 1548.5 2434.5 1548.6 2437.4 1548.7 2440.3 1548.8 2443.2 1548.8 2446.1 1548.9 2449.0 1549.0"/>
<path stroke="#0000ff" d="M292.7 1232.3 295.2 1234.3 297.8 1235.8 300.3 1236.9 302.9 1237.2 305.4 1236.7 307.9 1235.6 310.5 1234.2 313.0 1232.7 315.5 1231.1 318.0 1229.4 320.5 1227.7 322.9 1226.0 325.3 1224.2 327.7 1222.3 330.1 1220.4 332.4 1218.5 334.7 1216.5 337.0 1214.5 339.2 1212.4 341.4 1210.3 343.5 1208.2 345.6 1206.0 347.6 1203.8 349.6 1201.6 351.5 1199.4 353.5 1197.1 355.3 1194.7 357.2 1192.4 359.0 1190.0 360.8 1187.6 362.5 1185.2 364.2 1182.8 365.9 1180.3 367.6 1177.8 369.2 1175.3 370.8 1172.8 372.4 1170.3 374.0 1167.7 375.5 1165.1 377.1 1162.6 378.6 1160.0 380.1 1157.4 381.6 1154.8 383.1 1152.1 384.6 1149.5 386.0 1146.9 387.5 1144.2 389.0 1141.6 390.4 1139.0 391.9 1136.3 393.3 1133.7 394.8 1131.1 396.3 1128.4 397.7 1125.8 399.2 1123.2 400.7 1120.6 402.2 1118.0 403.7 1115.4 405.3 1112.8 406.8 1110.2 408.4 1107.6 410.0 1105.1 411.6 1102.5 413.2 1100.0 414.8 1097.5 416.5 1095.0 418.2 1092.6 419.9 1090.1 421.6 1087.6 423.3 1085.2 425.0 1082.8 426.8 1080.4 428.6 1078.0 430.4 1075.6 432.2 1073.2 434.0 1070.8 435.8 1068.4 437.6 1066.1 439.4 1063.7 441.3 1061.3 443.1 1059.0 445.0 1056.6 446.8 1054.3 448.7 1051.9 450.5 1049.6 452.4 1047.3 454.3 1044.9 456.1 1042.6 458.0 1040.3 459.9 1037.9 461.7 1035.6 463.6 1033.2 465.4 1030.9 467.3 1028.5 469.1 1026.2 470.9 1023.8 472.8 1021.5 474.6 1019.1 476.4 1016.7 478.2 1014.3 480.0 1011.9 481.7 1009.5 483.5 1007.1 485.2 1004.7 487.0 1002.2 488.7 999.8 490.4 997.3 492.1 994.9 493.7 992.4 495.4 989.9 497.0 987.4 498.6 984.8 500.2 982.3 501.8 979.8 503.4 977.2 504.9 974.6 506.4 972.0 508.0 969.4 509.5 966.8 510.9 964.2 512.4 961.6 513.8 959.0 515.3 956.3 516.7 953.7 518.1 951.0 519.4 948.3 520.8 945.6 522.2 943.0 523.5 940.3 524.8 937.5 526.1 934.8 527.4 932.1 528.6 929.4 529.9 926.6 531.1 923.9 532.3 921.1 533.5 918.3 534.7 915.6 535.9 912.8 537.0 910.0 538.2 907.2 539.3 904.4 540.4 901.6 541.5 898.8 542.6 896.0 543.6 893.2 544.7 890.4 545.7 887.5 546.7 884.7 547.7 881.9 548.7 879.0 549.7 876.2 550.6 873.3 551.6 870.5 552.5 867.6 553.4 864.7 554.3 861.9 555.2 859.0 556.0 856.1 556.9 853.3 557.7 850.4 558.5 847.5 559.4 844.6 560.1 841.8 560.9 838.9 561.7 836.0 562.5 833.1 563.2 830.2 563.9 827.3 564.7 824.4 565.4 821.5 566.1 818.6 566.8 815.7 567.4 812.8 568.1 809.9 568.8 807.0 569.4 804.1 570.1 801.2 570.7 798.3 571.3 795.3 571.9 792.4 572.5 789.5 573.1 786.6 573.7 783.7 574.3 780.7 574.9 777.8 575.5 774.9 576.0 772.0 576.6 769.0 577.2 766.1 577.7 763.2 578.2 760.2 578.8 757.3 579.3 754.3 579.8 751.4 580.4 748.5 580.9 745.5 581.4 742.6 581.9 739.6 582.4 736.7 583.0 733.7 583.5 730.8 584.0 727.8 584.5 724.9 585.0 721.9 585.5 719.0 586.0 716.0 586.5 713.1 587.0 710.1 587.5 707.2 588.0 704.2 588.5 701.3 589.0 698.3 589.5 695.3 590.0 692.4 590.5 689.4 591.1 686.5 591.6 683.5 592.1 680.5 592.6 677.6 593.1 674.6 593.6 671.6 594.2 668.7 594.7 665.7 595.2 662.8 595.7 659.8 596.3 656.8 596.8 653.9 597.3 650.9 597.9 647.9 598.4 645.0 598.9 642.0 599.5 639.0 600.0 636.1 600.5 633.1 601.1 630.1 601.6 627.2 602.1 624.2 602.7 621.2 603.2 618.3 603.8 615.3 604.3 612.3 604.9 609.4 605.4 606.4 606.0 603.4 606.5 600.5 607.1 597.5 607.6 594.5 608.2 591.6 608.7 588.6 609.3 585.7 609.8 582.7 610.4 579.7 610.9 576.8 611.5 573.8 612.0 570.9 612.6 567.9 613.1 564.9 613.7 562.0 614.2 559.0 614.8 556.1 615.4 553.1 615.9 550.2 616.5 547.2 617.0 544.3 617.6 541.3 618.1 538.4 618.7 535.4 619.3 532.5 619.8 529.5 620.4 526.6 620.9 523.6 621.5 520.7 622.1 517.7 622.6 514.8 623.2 511.9 623.7 508.9 624.3 506.0 624.8 503.1 625.4 500.1 626.0 497.2 626.5 494.3 627.1 491.3 627.6 488.4 628.2 485.5 628.7 482.6 629.3 479.6 629.8 476.7 630.4 473.8 631.0 470.9 631.5 467.9 632.1 465.0 632.6 462.1 633.2 459.2 633.7 456.2 634.3 453.3 634.9 450.4 635.4 447.5 636.0 444.5 636.5 441.6 637.1 438.7 637.7 435.7 638.2 432.8 638.8 429.9 639.4 426.9 639.9 424.0 640.5 421.0 641.1 418.1 641.6 415.2 642.2 412.2 642.8 409.3 643.3 406.3 643.9 403.4 644.5 400.4 645.1 397.4 645.7 394.5 646.2 391.5 646.8 388.6 647.4 385.6 648.0 382.6 648.6 379.7 649.2 376.7 649.8 373.7 650.4 370.8 651.0 367.8 651.6 364.8 652.2 361.9 652.8 358.9 653.4 356.0 654.0 353.0 654.6 350.0 655.2 347.1 655.8 344.1 656.4 341.2 657.1 338.2 657.7 335.3 658.3 332.3 658.9 329.4 659.6 326.4 660.2 323.5 660.8 320.6 661.5 317.6 662.1 314.7 662.8 311.8 663.4 308.9 664.1 306.0 664.7 303.0 665.4 300.1 666.0 297.2 666.7 294.3 667.4 291.4 668.1 288.6 668.7 285.7 669.4 282.8 670.1 279.9 670.8 277.0 671.5 274.1 672.2 271.3 672.9 268.4 673.6 265.5 674.3 262.6 675.0 259.8 675.7 256.9 676.5 254.0 677.2 251.1 677.9 248.2 678.7 245.3 679.4 242.4 680.2 239.5 680.9 236.6 681.7 233.7 682.5 230.7 683.2 227.8 684.0 224.9 684.8 221.9 685.6 219.0 686.4 216.0 687.2 213.0 688.0 210.1 688.8 207.1 689.7 204.1 690.6 201.1 691.5 198.1 692.6 195.2 693.8 192.4 695.1 189.6 696.7 186.9 698.4 184.3 700.3 181.8 702.5 179.5 704.7 177.8 706.9 176.8 709.0 176.8 710.9 177.9 712.7 179.8 714.3 182.4 715.7 185.3 717.0 188.4 718.2 191.4 719.3 194.4 720.3 197.4 721.2 200.4 722.1 203.3 722.8 206.2 723.5 209.1 724.2 212.0 724.8 214.9 725.4 217.8 726.0 220.7 726.6 223.7 727.1 226.6 727.6 229.5 728.1 232.4 728.6 235.4 729.1 238.3 729.5 241.3 729.9 244.2 730.3 247.2 730.7 250.1 731.1 253.1 731.5 256.1 731.8 259.1 732.1 262.0 732.5 265.0 732.8 268.0 733.1 271.0 733.4 274.0 733.7 277.0 734.0 279.9 734.3 282.9 734.5 285.9 734.8 288.9 735.1 291.9 735.3 294.9 735.6 297.9 735.8 300.9 736.1 303.9 736.4 306.9 736.6 309.9 736.9 312.9 737.2 315.9 737.4 318.9 737.7 321.9 738.0 324.9 738.2 327.9 738.5 330.9 738.8 333.9 739.1 336.9 739.4 339.8 739.6 342.8 739.9 345.8 740.2 348.8 740.5 351.8 740.8 354.8 741.1 357.8 741.4 360.8 741.7 363.8 742.0 366.7 742.3 369.7 742.6 372.7 742.9 375.7 743.2 378.7 743.5 381.7 743.8 384.6 744.1 387.6 744.4 390.6 744.7 393.6 745.0 396.6 745.3 399.6 745.6 402.5 745.9 405.5 746.3 408.5 746.6 411.5 746.9 414.5 747.2 417.4 747.5 420.4 747.8 423.4 748.1 426.4 748.5 429.4 748.8 432.3 749.1 435.3 749.4 438.3 749.7 441.3 750.1 444.3 750.4 447.2 750.7 450.2 751.0 453.2 751.3 456.2 751.7 459.2 752.0 462.1 752.3 465.1 752.6 468.1 752.9 471.1 753.2 474.0 753.6 477.0 753.9 480.0 754.2 483.0 754.5 486.0 754.8 488.9 755.2 491.9 755.5 494.9 755.8 497.9 756.1 500.9 756.4 503.8 756.7 506.8 757.1 509.8 757.4 512.8 757.7 515.8 758.0 518.7 758.3 521.7 758.6 524.7 758.9 527.7 759.2 530.7 759.6 533.6 759.9 536.6 760.2 539.6 760.5 542.6 760.8 545.6 761.1 548.5 761.4 551.5 761.7 554.5 762.0 557.5 762.3 560.5 762.6 563.5 762.9 566.4 763.2 569.4 763.5 572.4 763.8 575.4 764.1 578.4 764.3 581.4 764.6 584.3 764.9 587.3 765.2 590.3 765.5 593.3 765.8 596.3 766.1 599.3 766.4 602.3 766.6 605.3 766.9 608.2 767.2 611.2 767.5 614.2 767.8 617.2 768.1 620.2 768.3 623.2 768.6 626.2 768.9 629.2 769.2 632.1 769.4 635.1 769.7 638.1 770.0 641.1 770.3 644.1 770.5 647.1 770.8 650.1 771.1 653.1 771.3 656.1 771.6 659.0 771.9 662.0 772.2 665.0 772.4 668.0 772.7 671.0 773.0 674.0 773.2 677.0 773.5 680.0 773.8 683.0 774.0 686.0 774.3 689.0 774.5 691.9 774.8 694.9 775.1 697.9 775.3 700.9 775.6 703.9 775.8 706.9 776.1 709.9 776.4 712.9 776.6 715.9 776.9 718.9 777.1 721.9 777.4 724.8 777.6 727.8 777.9 730.8 778.2 733.8 778.4 736.8 778.7 739.8 778.9 742.8 779.2 745.8 779.4 748.8 779.7 751.8 779.9 754.8 780.2 757.8 780.4 760.8 780.7 763.8 780.9 766.7 781.2 769.7 781.4 772.7 781.7 775.7 781.9 778.7 782.2 781.7 782.4 784.7 782.7 787.7 782.9 790.7 783.2 793.7 783.4 796.7 783.7 799.7 783.9 802.7 784.2 805.6 784.4 808.6 784.6 811.6 784.9 814.6 785.1 817.6 785.4 820.6 785.6 823.6 785.9 826.6 786.1 829.6 786.4 832.6 786.6 835.6 786.9 838.6 787.1 841.5 787.3 844.5 787.6 847.5 787.8 850.5 788.1 853.5 788.3 856.5 788.6 859.5 788.8 862.5 789.0 865.5 789.3 868.5 789.5 871.5 789.8 874.4 790.0 877.4 790.3 880.4 790.5 883.4 790.7 886.4 791.0 889.4 791.2 892.4 791.5 895.4 791.7 898.4 792.0 901.4 792.2 904.3 792.5 907.3 792.7 910.3 792.9 913.3 793.2 916.3 793.4 919.3 793.7 922.3 793.9 925.3 794.2 928.2 794.4 931.2 794.7 934.2 794.9 937.2 795.1 940.2 795.4 943.2 795.6 946.2 795.9 949.2 796.1 952.1 796.4 955.1 796.6 958.1 796.9 961.1 797.1 964.1 797.4 967.1 797.6 970.1 797.9 973.0 798.1 976.0 798.4 979.0 798.6 982.0 798.9 985.0 799.1 988.0 799.4 990.9 799.6 993.9 799.9 996.9 800.1 999.9 800.4 1002.9 800.6 1005.8 800.9 1008.8 801.1 1011.8 801.4 1014.8 801.6 1017.8 801.9 1020.8 802.1 1023.7 802.4 1026.7 802.7 1029.7 802.9 1032.7 803.2 1035.6 803.4 1038.6 803.7 1041.6 803.9 1044.6 804.2 1047.6 804.5 1050.5 804.7 1053.5 805.0 1056.5 805.2 1059.5 805.5 1062.4 805.8 1065.4 806.0 1068.4 806.3 1071.4 806.6 1074.3 806.8 1077.3 807.1 1080.3 807.4 1083.3 807.6 1086.2 807.9 1089.2 808.2 1092.2 808.4 1095.2 808.7 1098.2 809.0 1101.1 809.2 1104.1 809.5 1107.1 809.8 1110.1 810.1 1113.0 810.3 1116.0 810.6 1119.0 810.9 1122.0 811.2 1125.0 811.5 1127.9 811.7 1130.9 812.0 1133.9 812.3 1136.9 812.6 1139.8 812.9 1142.8 813.1 1145.8 813.4 1148.8 813.7 1151.8 814.0 1154.8 814.3 1157.7 814.6 1160.7 814.9 1163.7 815.2 1166.7 815.4 1169.7 815.7 1172.7 816.0 1175.7 816.3 1178.6 816.6 1181.6 816.9 1184.6 817.2 1187.6 817.5 1190.6 817.8 1193.6 818.1 1196.6 818.4 1199.6 818.7 1202.6 819.0 1205.6 819.3 1208.6 819.6 1211.6 819.9 1214.6 820.2 1217.6 820.6 1220.6 820.9 1223.6 821.2 1226.6 821.5 1229.6 821.8 1232.6 822.1 1235.6 822.4 1238.6 822.8 1241.6 823.1 1244.6 823.4 1247.6 823.7 1250.6 824.0 1253.6 824.4 1256.6 824.7 1259.6 825.0 1262.7 825.3 1265.7 825.7 1268.7 826.0 1271.7 826.3 1274.7 826.7 1277.7 827.0 1280.8 827.4 1283.8 827.7 1286.8 828.1 1289.8 828.4 1292.8 828.8 1295.8 829.1 1298.9 829.5 1301.9 829.9 1304.9 830.2 1307.9 830.6 1310.9 831.0 1313.9 831.4 1316.9 831.8 1319.9 832.2 1322.9 832.6 1325.9 833.0 1328.9 833.4 1331.9 833.8 1334.9 834.3 1337.8 834.7 1340.8 835.1 1343.8 835.6 1346.8 836.0 1349.7 836.5 1352.7 837.0 1355.6 837.4 1358.6 837.9 1361.5 838.4 1364.5 838.9 1367.4 839.4 1370.4 839.9 1373.3 840.5 1376.2 841.0 1379.1 841.5 1382.0 842.1 1384.9 842.7 1387.8 843.2 1390.7 843.8 1393.6 844.4 1396.5 845.0 1399.4 845.7 1402.2 846.3 1405.1 847.0 1407.9 847.7 1410.8 848.4 1413.6 849.2 1416.4 850.0 1419.2 850.8 1422.1 851.6 1424.8 852.5 1427.6 853.4 1430.4 854.3 1433.2 855.3 1436.0 856.3 1438.7 857.3 1441.5 858.4 1444.2 859.5 1446.9 860.7 1449.6 861.9 1452.3 863.2 1455.0 864.5 1457.7 865.8 1460.4 867.2 1463.0 868.7 1465.7 870.2 1468.3 871.8 1471.0 873.4 1473.6 875.1 1476.2 876.8 1478.8 878.6 1481.3 880.5 1483.9 882.4 1486.4 884.4 1488.8 886.4 1491.3 888.4 1493.7 890.5 1496.0 892.7 1498.3 894.9 1500.5 897.1 1502.7 899.4 1504.8 901.7 1506.8 904.1 1508.7 906.5 1510.6 908.9 1512.3 911.4 1514.0 913.9 1515.6 916.5 1517.1 919.1 1518.4 921.7 1519.7 924.3 1520.8 927.0 1521.8 929.7 1522.8 932.4 1523.6 935.2 1524.4 938.0 1525.1 940.8 1525.8 943.6 1526.4 946.4 1527.1 949.3 1527.8 952.1 1528.5 955.0 1529.3 957.9 1530.1 960.8 1531.1 963.7 1532.0 966.7 1532.9 969.6 1533.8 972.6 1534.6 975.5 1535.3 978.5 1535.7 981.4 1536.0 984.4 1536.0 987.3 1535.8 990.3 1535.3 993.3 1534.5 996.2 1533.6 999.2 1532.7 1002.1 1531.9 1005.1 1531.4 1008.1 1531.2 1011.0 1531.2 1014.0 1531.4 1017.0 1531.5 1020.0 1531.5 1022.9 1531.4 1025.9 1531.2 1028.9 1530.9 1031.8 1530.5 1034.8 1529.9 1037.8 1529.4 1040.8 1529.0 1043.8 1528.8 1046.7 1528.7 1049.7 1528.8 1052.7 1528.9 1055.7 1528.9 1058.7 1528.7 1061.7 1528.4 1064.6 1528.1 1067.6 1527.8 1070.6 1527.6 1073.6 1527.4 1076.6 1527.3 1079.6 1527.3 1082.6 1527.3 1085.6 1527.5 1088.6 1527.6 1091.6 1527.8 1094.6 1528.0 1097.5 1528.2 1100.5 1528.4 1103.5 1528.6 1106.5 1528.8 1109.5 1528.9 1112.5 1528.9 1115.5 1528.9 1118.4 1528.8 1121.4 1528.7 1124.4 1528.4 1127.4 1528.1 1130.3 1527.7 1133.3 1527.2 1136.3 1526.7 1139.2 1526.0 1142.2 1525.3 1145.1 1524.5 1148.1 1523.7 1151.0 1522.7 1153.9 1521.8 1156.9 1520.7 1159.8 1519.7 1162.7 1518.6 1165.6 1517.5 1168.5 1516.3 1171.4 1515.2 1174.3 1514.0 1177.2 1512.9 1180.1 1511.7 1183.0 1510.6 1185.8 1509.5 1188.7 1508.5 1191.5 1507.5 1194.4 1506.5 1197.2 1505.6 1200.0 1504.8 1202.8 1504.0 1205.6 1503.3 1208.5 1502.6 1211.3 1502.0 1214.1 1501.5 1216.9 1501.0 1219.8 1500.6 1222.6 1500.3 1225.4 1500.1 1228.3 1500.0 1231.2 1499.9 1234.1 1499.9 1237.0 1500.0 1239.9 1500.2 1242.8 1500.4 1245.7 1500.8 1248.7 1501.1 1251.6 1501.6 1254.6 1502.1 1257.6 1502.7 1260.5 1503.3 1263.5 1503.9 1266.5 1504.7 1269.4 1505.4 1272.4 1506.2 1275.4 1507.0 1278.3 1507.9 1281.3 1508.8 1284.3 1509.6 1287.2 1510.5 1290.2 1511.4 1293.2 1512.4 1296.1 1513.2 1299.1 1514.1 1302.0 1515.0 1305.0 1515.8 1307.9 1516.6 1310.8 1517.4 1313.8 1518.1 1316.7 1518.8 1319.6 1519.4 1322.5 1520.0 1325.5 1520.5 1328.4 1520.9 1331.3 1521.2 1334.2 1521.5 1337.1 1521.6 1340.0 1521.7 1342.9 1521.7 1345.7 1521.5 1348.6 1521.3 1351.5 1520.9 1354.3 1520.4 1357.2 1519.8 1360.1 1519.1 1362.9 1518.3 1365.7 1517.4 1368.6 1516.5 1371.4 1515.4 1374.2 1514.3 1377.0 1513.2 1379.8 1511.9 1382.6 1510.7 1385.4 1509.3 1388.2 1508.0 1391.0 1506.6 1393.7 1505.2 1396.5 1503.7 1399.2 1502.3 1402.0 1500.8 1404.7 1499.3 1407.4 1497.9 1410.1 1496.4 1412.8 1495.0 1415.5 1493.5 1418.2 1492.1 1420.9 1490.8 1423.5 1489.4 1426.2 1488.2 1428.8 1486.9 1431.5 1485.7 1434.2 1484.6 1436.9 1483.6 1439.6 1482.6 1442.3 1481.7 1445.1 1480.8 1447.9 1480.1 1450.7 1479.4 1453.6 1478.9 1456.5 1478.4 1459.5 1478.0 1462.4 1477.7 1465.4 1477.5 1468.4 1477.4 1471.5 1477.5 1474.5 1477.6 1477.5 1477.8 1480.5 1478.1 1483.5 1478.4 1486.5 1478.9 1489.4 1479.5 1492.4 1480.2 1495.3 1481.0 1498.2 1481.9 1501.0 1482.8 1503.9 1483.8 1506.7 1484.8 1509.5 1485.8 1512.4 1486.9 1515.2 1487.9 1518.0 1488.9 1520.8 1490.0 1523.7 1490.9 1526.5 1491.8 1529.4 1492.7 1532.2 1493.5 1535.2 1494.2 1538.1 1494.7 1541.0 1495.2 1544.0 1495.6 1547.0 1495.8 1550.0 1496.0 1553.0 1496.0 1556.0 1495.9 1559.1 1495.8 1562.1 1495.5 1565.0 1495.1 1568.0 1494.6 1570.9 1494.0 1573.8 1493.2 1576.7 1492.4 1579.6 1491.5 1582.3 1490.5 1585.1 1489.3 1587.7 1488.1 1590.4 1486.8 1592.9 1485.4 1595.4 1483.9 1597.9 1482.3 1600.3 1480.6 1602.7 1478.8 1605.0 1477.0 1607.3 1475.1 1609.6 1473.2 1611.9 1471.2 1614.1 1469.2 1616.3 1467.1 1618.4 1464.9 1620.6 1462.8 1622.7 1460.6 1624.8 1458.3 1627.0 1456.1 1629.1 1453.8 1631.2 1451.5 1633.3 1449.3 1635.4 1447.0 1637.5 1444.7 1639.7 1442.4 1641.8 1440.2 1644.0 1437.9 1646.2 1435.7 1648.3 1433.5 1650.6 1431.4 1652.8 1429.3 1655.0 1427.3 1657.3 1425.3 1659.6 1423.3 1662.0 1421.5 1664.4 1419.7 1666.8 1418.0 1669.2 1416.3 1671.7 1414.8 1674.2 1413.3 1676.8 1412.0 1679.4 1410.8 1682.1 1409.6 1684.8 1408.6 1687.6 1407.7 1690.4 1407.0 1693.3 1406.4 1696.2 1405.9 1699.2 1405.5 1702.1 1405.3 1705.1 1405.3 1708.1 1405.4 1711.2 1405.6 1714.2 1406.1 1717.2 1406.6 1720.2 1407.4 1723.2 1408.3 1726.1 1409.3 1729.1 1410.4 1732.0 1411.5 1734.8 1412.7 1737.6 1413.8 1740.4 1415.0 1743.0 1416.1 1745.7 1417.1 1748.2 1418.0 1750.8 1418.9 1753.3 1419.8 1755.8 1420.6 1758.4 1421.4 1761.1 1422.2 1763.8 1423.1 1766.7 1424.0 1769.7 1425.0 1772.8 1425.9 1775.9 1426.9 1779.1 1427.6 1782.3 1428.2 1785.3 1428.6 1788.3 1428.6 1791.1 1428.2 1793.8 1427.6 1796.5 1426.7 1799.0 1425.4 1801.4 1424.0 1803.7 1422.3 1805.9 1420.5 1808.0 1418.4 1810.1 1416.3 1812.0 1413.9 1813.9 1411.5 1815.8 1409.1 1817.6 1406.5 1819.3 1403.9 1821.0 1401.4 1822.6 1398.8 1824.2 1396.1 1825.7 1393.5 1827.2 1390.9 1828.6 1388.2 1830.0 1385.5 1831.4 1382.8 1832.7 1380.1 1834.0 1377.4 1835.2 1374.7 1836.4 1371.9 1837.6 1369.2 1838.7 1366.4 1839.8 1363.6 1840.8 1360.8 1841.8 1358.0 1842.8 1355.2 1843.8 1352.4 1844.7 1349.5 1845.6 1346.7 1846.5 1343.8 1847.3 1341.0 1848.1 1338.1 1848.9 1335.2 1849.7 1332.3 1850.4 1329.4 1851.1 1326.5 1851.8 1323.6 1852.5 1320.7 1853.2 1317.8 1853.8 1314.9 1854.5 1311.9 1855.1 1309.0 1855.7 1306.1 1856.3 1303.1 1856.9 1300.2 1857.4 1297.2 1858.0 1294.3 1858.5 1291.3 1859.1 1288.3 1859.6 1285.4 1860.2 1282.4 1860.7 1279.5 1861.2 1276.5 1861.7 1273.5 1862.2 1270.6 1862.8 1267.6 1863.3 1264.6 1863.8 1261.7 1864.3 1258.7 1864.9 1255.7 1865.4 1252.8 1865.9 1249.8 1866.4 1246.9 1866.9 1243.9 1867.5 1240.9 1868.0 1238.0 1868.5 1235.0 1869.0 1232.1 1869.6 1229.1 1870.1 1226.1 1870.6 1223.2 1871.1 1220.2 1871.7 1217.3 1872.2 1214.3 1872.7 1211.3 1873.2 1208.4 1873.7 1205.4 1874.3 1202.5 1874.8 1199.5 1875.3 1196.6 1875.8 1193.6 1876.3 1190.6 1876.8 1187.7 1877.4 1184.7 1877.9 1181.8 1878.4 1178.8 1878.9 1175.9 1879.4 1172.9 1879.9 1169.9 1880.4 1167.0 1880.9 1164.0 1881.4 1161.1 1881.9 1158.1 1882.4 1155.2 1882.9 1152.2 1883.3 1149.3 1883.8 1146.3 1884.3 1143.3 1884.8 1140.4 1885.3 1137.4 1885.8 1134.5 1886.2 1131.5 1886.7 1128.6 1887.2 1125.6 1887.6 1122.6 1888.1 1119.7 1888.5 1116.7 1889.0 1113.8 1889.4 1110.8 1889.9 1107.8 1890.3 1104.9 1890.8 1101.9 1891.2 1098.9 1891.6 1096.0 1892.1 1093.0 1892.5 1090.1 1892.9 1087.1 1893.3 1084.1 1893.7 1081.2 1894.1 1078.2 1894.5 1075.2 1894.9 1072.3 1895.3 1069.3 1895.7 1066.3 1896.1 1063.4 1896.5 1060.4 1896.8 1057.4 1897.2 1054.5 1897.6 1051.5 1897.9 1048.5 1898.3 1045.5 1898.6 1042.6 1899.0 1039.6 1899.3 1036.6 1899.6 1033.6 1900.0 1030.7 1900.3 1027.7 1900.6 1024.7 1900.9 1021.7 1901.2 1018.7 1901.6 1015.8 1901.9 1012.8 1902.2 1009.8 1902.5 1006.8 1902.8 1003.8 1903.1 1000.9 1903.4 997.9 1903.7 994.9 1904.0 991.9 1904.3 988.9 1904.6 985.9 1904.9 983.0 1905.2 980.0 1905.5 977.0 1905.8 974.0 1906.1 971.0 1906.4 968.0 1906.7 965.0 1907.0 962.1 1907.3 959.1 1907.7 956.1 1908.0 953.1 1908.3 950.1 1908.7 947.1 1909.0 944.1 1909.3 941.2 1909.7 938.2 1910.0 935.2 1910.4 932.2 1910.8 929.2 1911.2 926.2 1911.5 923.3 1911.9 920.3 1912.3 917.3 1912.7 914.3 1913.2 911.3 1913.6 908.3 1914.0 905.4 1914.4 902.4 1914.9 899.4 1915.3 896.4 1915.8 893.4 1916.2 890.5 1916.7 887.5 1917.1 884.5 1917.6 881.5 1918.0 878.5 1918.5 875.6 1919.0 872.6 1919.4 869.6 1919.9 866.6 1920.4 863.7 1920.8 860.7 1921.3 857.7 1921.8 854.8 1922.3 851.8 1922.7 848.8 1923.2 845.9 1923.7 842.9 1924.2 839.9 1924.6 837.0 1925.1 834.0 1925.5 831.0 1926.0 828.1 1926.5 825.1 1926.9 822.2 1927.4 819.2 1927.8 816.2 1928.2 813.3 1928.7 810.3 1929.1 807.4 1929.5 804.5 1929.9 801.5 1930.3 798.6 1930.7 795.7 1931.1 792.7 1931.5 789.8 1931.9 786.9 1932.3 784.0 1932.6 781.1 1932.9 778.2 1933.3 775.3 1933.7 772.4 1934.1 769.5 1934.6 766.6 1935.3 763.7 1936.0 760.8 1937.0 757.8 1938.1 754.8 1939.5 751.8 1941.1 748.7 1943.0 745.8 1945.0 743.2 1947.2 741.5 1949.4 740.8 1951.5 741.3 1953.5 742.7 1955.3 744.6 1956.8 746.8 1958.2 749.3 1959.4 752.0 1960.4 754.9 1961.3 758.0 1962.1 761.2 1962.8 764.5 1963.4 767.8 1963.9 771.1 1964.5 774.5 1965.0 777.7 1965.5 780.9 1966.0 784.0 1966.5 787.1 1967.0 790.1 1967.5 793.0 1968.0 796.0 1968.5 798.9 1969.0 801.7 1969.4 804.6 1969.9 807.4 1970.4 810.2 1970.9 813.0 1971.3 815.8 1971.8 818.7 1972.3 821.5 1972.7 824.4 1973.2 827.2 1973.6 830.1 1974.1 833.1 1974.5 836.0 1975.0 838.9 1975.4 841.9 1975.8 844.9 1976.3 847.8 1976.7 850.8 1977.1 853.8 1977.6 856.8 1978.0 859.8 1978.4 862.9 1978.8 865.9 1979.2 868.9 1979.6 871.9 1980.0 874.9 1980.5 877.9 1980.9 880.9 1981.3 883.9 1981.7 886.9 1982.1 889.9 1982.4 892.9 1982.8 895.9 1983.2 898.8 1983.6 901.8 1984.0 904.8 1984.4 907.8 1984.8 910.8 1985.1 913.7 1985.5 916.7 1985.9 919.7 1986.3 922.7 1986.6 925.6 1987.0 928.6 1987.4 931.6 1987.7 934.6 1988.1 937.5 1988.5 940.5 1988.8 943.5 1989.2 946.4 1989.5 949.4 1989.9 952.4 1990.2 955.3 1990.6 958.3 1990.9 961.3 1991.3 964.2 1991.6 967.2 1992.0 970.2 1992.3 973.2 1992.7 976.1 1993.0 979.1 1993.4 982.1 1993.7 985.0 1994.1 988.0 1994.4 991.0 1994.7 994.0 1995.1 996.9 1995.4 999.9 1995.7 1002.9 1996.1 1005.9 1996.4 1008.8 1996.7 1011.8 1997.1 1014.8 1997.4 1017.8 1997.7 1020.8 1998.1 1023.7 1998.4 1026.7 1998.7 1029.7 1999.1 1032.7 1999.4 1035.7 1999.7 1038.6 2000.0 1041.6 2000.4 1044.6 2000.7 1047.6 2001.0 1050.6 2001.4 1053.5 2001.7 1056.5 2002.0 1059.5 2002.3 1062.5 2002.7 1065.5 2003.0 1068.5 2003.3 1071.4 2003.6 1074.4 2004.0 1077.4 2004.3 1080.4 2004.6 1083.4 2005.0 1086.4 2005.3 1089.3 2005.6 1092.3 2006.0 1095.3 2006.3 1098.3 2006.6 1101.3 2006.9 1104.3 2007.3 1107.2 2007.6 1110.2 2007.9 1113.2 2008.3 1116.2 2008.6 1119.2 2008.9 1122.2 2009.3 1125.2 2009.6 1128.1 2010.0 1131.1 2010.3 1134.1 2010.6 1137.1 2011.0 1140.1 2011.3 1143.1 2011.7 1146.0 2012.0 1149.0 2012.4 1152.0 2012.7 1155.0 2013.0 1158.0 2013.4 1161.0 2013.8 1163.9 2014.1 1166.9 2014.5 1169.9 2014.8 1172.9 2015.2 1175.9 2015.5 1178.9 2015.9 1181.8 2016.2 1184.8 2016.6 1187.8 2017.0 1190.8 2017.3 1193.8 2017.7 1196.7 2018.1 1199.7 2018.5 1202.7 2018.8 1205.7 2019.2 1208.7 2019.6 1211.6 2020.0 1214.6 2020.3 1217.6 2020.7 1220.6 2021.1 1223.5 2021.5 1226.5 2021.9 1229.5 2022.3 1232.5 2022.7 1235.4 2023.1 1238.4 2023.5 1241.4 2023.9 1244.4 2024.3 1247.3 2024.7 1250.3 2025.1 1253.3 2025.5 1256.2 2026.0 1259.2 2026.4 1262.2 2026.8 1265.2 2027.3 1268.1 2027.7 1271.1 2028.1 1274.1 2028.6 1277.0 2029.0 1280.0 2029.5 1282.9 2029.9 1285.9 2030.4 1288.9 2030.8 1291.8 2031.3 1294.8 2031.8 1297.8 2032.3 1300.7 2032.7 1303.7 2033.2 1306.6 2033.7 1309.6 2034.2 1312.5 2034.7 1315.5 2035.2 1318.4 2035.7 1321.4 2036.2 1324.3 2036.8 1327.3 2037.3 1330.2 2037.8 1333.2 2038.4 1336.1 2038.9 1339.1 2039.5 1342.0 2040.0 1345.0 2040.6 1347.9 2041.1 1350.8 2041.7 1353.8 2042.3 1356.7 2042.9 1359.7 2043.5 1362.6 2044.1 1365.5 2044.7 1368.5 2045.3 1371.4 2045.9 1374.3 2046.5 1377.2 2047.2 1380.2 2047.8 1383.1 2048.4 1386.0 2049.1 1388.9 2049.7 1391.9 2050.4 1394.8 2051.1 1397.7 2051.8 1400.6 2052.5 1403.5 2053.2 1406.4 2053.9 1409.3 2054.6 1412.2 2055.3 1415.1 2056.1 1418.1 2056.8 1420.9 2057.6 1423.8 2058.4 1426.7 2059.2 1429.6 2060.1 1432.5 2060.9 1435.3 2061.8 1438.2 2062.8 1441.1 2063.7 1443.9 2064.7 1446.7 2065.7 1449.5 2066.8 1452.4 2067.9 1455.2 2069.1 1457.9 2070.3 1460.7 2071.5 1463.5 2072.8 1466.2 2074.1 1469.0 2075.5 1471.7 2076.9 1474.4 2078.4 1477.1 2080.0 1479.7 2081.6 1482.3 2083.2 1484.9 2084.9 1487.4 2086.7 1489.8 2088.5 1492.3 2090.3 1494.6 2092.3 1496.9 2094.2 1499.2 2096.3 1501.3 2098.4 1503.4 2100.5 1505.4 2102.7 1507.4 2105.0 1509.2 2107.3 1511.0 2109.7 1512.7 2112.2 1514.2 2114.7 1515.7 2117.3 1517.1 2119.9 1518.4 2122.5 1519.6 2125.3 1520.8 2128.0 1521.8 2130.8 1522.8 2133.6 1523.8 2136.5 1524.7 2139.4 1525.6 2142.3 1526.4 2145.2 1527.1 2148.2 1527.9 2151.1 1528.6 2154.1 1529.3 2157.1 1529.9 2160.0 1530.6 2163.0 1531.2 2166.0 1531.8 2169.0 1532.5 2171.9 1533.1 2174.9 1533.7 2177.9 1534.3 2180.8 1534.9 2183.8 1535.5 2186.7 1536.1 2189.7 1536.7 2192.6 1537.3 2195.6 1537.9 2198.5 1538.5 2201.5 1539.0 2204.4 1539.6 2207.4 1540.2 2210.3 1540.7 2213.3 1541.3 2216.2 1541.8 2219.2 1542.3 2222.1 1542.9 2225.1 1543.4 2228.0 1543.9 2230.9 1544.4 2233.9 1544.9 2236.8 1545.4 2239.8 1545.9 2242.7 1546.4 2245.7 1546.8 2248.7 1547.3 2251.6 1547.7 2254.6 1548.2 2257.5 1548.6 2260.5 1549.0 2263.5 1549.5 2266.4 1549.9 2269.4 1550.3 2272.4 1550.7 2275.3 1551.0 2278.3 1551.4 2281.3 1551.8 2284.3 1552.1 2287.2 1552.5 2290.2 1552.8 2293.2 1553.1 2296.2 1553.4 2299.2 1553.7 2302.2 1554.0 2305.1 1554.3 2308.1 1554.5 2311.1 1554.8 2314.1 1555.0 2317.1 1555.2 2320.1 1555.4 2323.1 1555.6 2326.1 1555.8 2329.1 1555.9 2332.1 1556.1 2335.1 1556.2 2338.1 1556.3 2341.1 1556.4 2344.1 1556.5 2347.0 1556.6 2350.0 1556.7 2353.0 1556.7 2356.0 1556.7 2359.0 1556.7 2362.0 1556.7 2365.0 1556.7 2368.0 1556.7 2371.0 1556.6 2374.1 1556.5 2377.1 1556.4 2380.1 1556.3 2383.1 1556.2 2386.1 1556.1 2389.1 1556.0 2392.1 1555.8 2395.1 1555.7 2398.1 1555.6 2401.1 1555.5 2404.1 1555.3 2407.1 1555.2 2410.1 1555.1 2413.1 1555.0 2416.0 1554.9 2419.0 1554.9 2422.0 1554.8 2425.0 1554.8 2428.0 1554.8 2431.0 1554.8 2434.0 1554.9 2437.0 1554.9 2440.0 1555.0 2443.0 1555.2 2446.0 1555.3 2449.0 1555.5"/>
<path stroke="#800000" d="M291.7 1066.0 292.9 1068.9 294.2 1071.6 295.7 1074.1 297.4 1076.4 299.2 1078.6 301.1 1080.6 303.2 1082.5 305.4 1084.2 307.7 1085.9 310.1 1087.6 312.6 1089.1 315.2 1090.7 317.8 1092.2 320.5 1093.7 323.2 1095.1 325.9 1096.4 328.7 1097.5 331.4 1098.3 334.2 1098.9 336.9 1099.2 339.7 1099.1 342.3 1098.6 345.0 1097.7 347.6 1096.4 350.1 1094.6 352.5 1092.6 355.0 1090.3 357.3 1087.9 359.7 1085.4 361.9 1082.9 364.2 1080.5 366.4 1078.1 368.5 1075.8 370.6 1073.6 372.7 1071.3 374.7 1069.1 376.7 1066.9 378.7 1064.8 380.6 1062.6 382.5 1060.3 384.3 1058.1 386.2 1055.8 388.0 1053.5 389.8 1051.2 391.5 1048.9 393.2 1046.5 394.9 1044.1 396.6 1041.7 398.3 1039.3 399.9 1036.8 401.6 1034.4 403.2 1031.9 404.8 1029.4 406.4 1026.9 407.9 1024.4 409.5 1021.9 411.1 1019.4 412.6 1016.9 414.2 1014.3 415.7 1011.8 417.2 1009.3 418.8 1006.7 420.3 1004.2 421.8 1001.6 423.4 999.1 424.9 996.5 426.4 994.0 427.9 991.4 429.4 988.8 430.9 986.3 432.4 983.7 433.9 981.1 435.4 978.5 436.8 975.9 438.3 973.4 439.8 970.8 441.2 968.1 442.6 965.5 444.1 962.9 445.5 960.3 446.9 957.6 448.3 955.0 449.7 952.3 451.0 949.6 452.4 946.9 453.7 944.2 455.0 941.4 456.3 938.7 457.6 935.9 458.9 933.1 460.2 930.3 461.4 927.4 462.7 924.6 464.0 921.8 465.2 918.9 466.5 916.1 467.8 913.3 469.1 910.5 470.4 907.7 471.8 905.0 473.2 902.2 474.6 899.6 476.1 896.9 477.6 894.3 479.2 891.8 480.8 889.3 482.5 886.9 484.2 884.5 486.1 882.2 488.0 880.0 489.9 877.9 492.0 875.8 494.2 873.9 496.4 872.0 498.7 870.2 501.2 868.6 503.7 867.0 506.4 865.6 509.1 864.3 511.9 863.2 514.7 862.2 517.6 861.4 520.5 860.7 523.5 860.3 526.5 860.0 529.5 860.0 532.5 860.2 535.4 860.6 538.4 861.3 541.3 862.2 544.2 863.4 547.0 864.8 549.8 866.3 552.5 867.8 555.3 869.0 558.1 870.0 560.8 870.5 563.6 870.5 566.3 870.1 569.0 869.3 571.5 868.0 573.9 866.4 576.2 864.5 578.2 862.3 580.2 859.8 582.0 857.1 583.7 854.3 585.2 851.4 586.7 848.4 588.1 845.5 589.3 842.5 590.5 839.6 591.6 836.8 592.7 834.0 593.7 831.2 594.6 828.4 595.5 825.6 596.4 822.9 597.3 820.1 598.1 817.4 598.9 814.6 599.8 811.8 600.6 809.0 601.4 806.2 602.2 803.4 603.0 800.6 603.8 797.7 604.6 794.9 605.3 792.0 606.1 789.1 606.8 786.3 607.6 783.4 608.3 780.5 609.0 777.6 609.7 774.7 610.4 771.8 611.1 768.8 611.8 765.9 612.4 763.0 613.1 760.0 613.7 757.1 614.3 754.1 615.0 751.2 615.6 748.2 616.1 745.2 616.7 742.3 617.3 739.3 617.8 736.3 618.4 733.4 618.9 730.4 619.4 727.4 619.9 724.4 620.4 721.4 620.9 718.4 621.3 715.5 621.8 712.5 622.3 709.5 622.7 706.5 623.2 703.5 623.6 700.5 624.1 697.5 624.6 694.5 625.0 691.6 625.5 688.6 626.0 685.6 626.5 682.6 627.0 679.6 627.5 676.7 628.0 673.7 628.6 670.7 629.1 667.8 629.7 664.8 630.3 661.8 630.9 658.9 631.5 655.9 632.1 653.0 632.7 650.1 633.4 647.1 634.1 644.2 634.8 641.3 635.5 638.3 636.2 635.4 637.0 632.5 637.7 629.6 638.5 626.7 639.4 623.9 640.2 621.0 641.1 618.1 642.0 615.3 642.9 612.4 643.8 609.6 644.8 606.7 645.7 603.9 646.7 601.1 647.7 598.3 648.6 595.5 649.6 592.7 650.6 589.9 651.6 587.1 652.5 584.4 653.5 581.7 654.4 578.9 655.4 576.2 656.3 573.5 657.3 570.8 658.4 568.1 659.5 565.4 660.9 562.8 662.4 560.1 664.2 557.5 666.2 554.9 668.5 552.5 670.9 550.4 673.5 548.9 676.2 548.1 679.0 548.4 681.7 549.6 684.4 551.4 686.9 553.7 689.4 556.2 691.6 558.6 693.6 560.7 695.6 562.5 697.8 564.0 700.4 565.1 703.2 565.8 706.1 565.7 708.8 564.7 711.2 563.1 713.0 561.0 714.4 558.4 715.4 555.6 716.2 552.6 717.0 549.6 717.7 546.6 718.4 543.6 719.0 540.6 719.7 537.6 720.3 534.6 720.9 531.6 721.5 528.6 722.1 525.6 722.7 522.6 723.3 519.6 723.9 516.6 724.6 513.6 725.2 510.7 725.9 507.7 726.5 504.7 727.2 501.7 727.8 498.7 728.5 495.8 729.1 492.8 729.7 489.8 730.4 486.9 731.0 483.9 731.6 480.9 732.1 478.0 732.7 475.0 733.2 472.0 733.7 469.1 734.2 466.1 734.6 463.2 735.1 460.2 735.5 457.3 735.9 454.3 736.3 451.3 736.7 448.4 737.1 445.4 737.4 442.5 737.8 439.5 738.1 436.6 738.4 433.6 738.8 430.6 739.1 427.7 739.4 424.7 739.7 421.8 739.9 418.8 740.2 415.9 740.5 412.9 740.8 410.0 741.0 407.0 741.3 404.0 741.6 401.1 741.8 398.1 742.1 395.2 742.3 392.2 742.6 389.2 742.9 386.3 743.1 383.3 743.4 380.3 743.7 377.4 744.0 374.4 744.2 371.4 744.5 368.5 744.8 365.5 745.1 362.5 745.5 359.5 745.8 356.5 746.1 353.6 746.5 350.6 746.8 347.6 747.2 344.6 747.6 341.6 748.0 338.6 748.4 335.6 748.8 332.6 749.3 329.6 749.7 326.7 750.1 323.7 750.6 320.7 751.0 317.7 751.5 314.7 752.0 311.7 752.4 308.7 752.9 305.7 753.4 302.7 753.9 299.7 754.3 296.7 754.8 293.7 755.3 290.7 755.8 287.7 756.2 284.7 756.7 281.8 757.1 278.8 757.6 275.8 758.0 272.8 758.5 269.9 758.9 266.9 759.3 263.9 759.7 261.0 760.1 258.0 760.5 255.0 760.8 252.1 761.2 249.1 761.5 246.2 761.8 243.2 762.1 240.2 762.4 237.3 762.7 234.3 762.9 231.4 763.2 228.4 763.4 225.4 763.5 222.5 763.7 219.5 763.8 216.5 764.0 213.6 764.2 210.6 764.4 207.6 764.6 204.6 765.0 201.7 765.5 198.7 766.1 195.7 766.8 192.8 767.7 189.8 768.8 186.9 770.1 183.9 771.6 181.0 773.5 178.3 775.9 176.4 778.2 175.9 779.8 177.1 781.0 179.3 782.2 181.9 783.2 184.9 784.2 188.1 785.1 191.4 786.0 194.6 786.8 197.7 787.5 200.7 788.2 203.7 788.8 206.6 789.4 209.4 790.0 212.3 790.5 215.1 790.9 218.0 791.4 220.9 791.7 223.8 792.1 226.7 792.4 229.7 792.7 232.6 793.0 235.6 793.2 238.6 793.4 241.5 793.6 244.5 793.8 247.5 794.0 250.5 794.2 253.5 794.3 256.5 794.5 259.5 794.6 262.6 794.8 265.6 794.9 268.6 795.1 271.6 795.2 274.6 795.4 277.6 795.5 280.6 795.7 283.6 795.9 286.6 796.0 289.6 796.2 292.7 796.4 295.7 796.6 298.7 796.7 301.7 796.9 304.7 797.1 307.7 797.3 310.7 797.5 313.6 797.7 316.6 797.9 319.6 798.1 322.6 798.3 325.6 798.5 328.6 798.7 331.6 798.9 334.6 799.1 337.6 799.3 340.6 799.5 343.6 799.7 346.6 799.9 349.6 800.1 352.6 800.3 355.5 800.5 358.5 800.7 361.5 800.9 364.5 801.1 367.5 801.3 370.5 801.5 373.5 801.7 376.5 801.9 379.5 802.1 382.4 802.3 385.4 802.5 388.4 802.7 391.4 802.9 394.4 803.1 397.4 803.3 400.4 803.5 403.4 803.7 406.4 803.9 409.3 804.1 412.3 804.3 415.3 804.5 418.3 804.7 421.3 804.9 424.3 805.1 427.3 805.3 430.3 805.5 433.3 805.7 436.3 805.9 439.3 806.1 442.3 806.2 445.2 806.4 448.2 806.6 451.2 806.8 454.2 807.0 457.2 807.2 460.2 807.3 463.2 807.5 466.2 807.7 469.2 807.9 472.2 808.1 475.2 808.2 478.2 808.4 481.2 808.6 484.2 808.8 487.2 808.9 490.2 809.1 493.2 809.3 496.1 809.5 499.1 809.6 502.1 809.8 505.1 810.0 508.1 810.2 511.1 810.3 514.1 810.5 517.1 810.7 520.1 810.8 523.1 811.0 526.1 811.2 529.1 811.3 532.1 811.5 535.1 811.7 538.1 811.8 541.1 812.0 544.1 812.2 547.1 812.3 550.1 812.5 553.1 812.6 556.1 812.8 559.1 813.0 562.1 813.1 565.1 813.3 568.1 813.4 571.1 813.6 574.1 813.8 577.1 813.9 580.1 814.1 583.1 814.2 586.1 814.4 589.1 814.5 592.1 814.7 595.1 814.9 598.1 815.0 601.1 815.2 604.1 815.3 607.1 815.5 610.1 815.6 613.1 815.8 616.1 815.9 619.1 816.1 622.1 816.2 625.1 816.4 628.1 816.5 631.1 816.7 634.1 816.8 637.1 817.0 640.1 817.1 643.1 817.3 646.1 817.4 649.1 817.6 652.1 817.7 655.1 817.9 658.1 818.0 661.1 818.2 664.1 818.3 667.1 818.5 670.1 818.6 673.1 818.8 676.1 818.9 679.1 819.1 682.1 819.2 685.1 819.4 688.1 819.5 691.1 819.7 694.1 819.8 697.1 819.9 700.1 820.1 703.1 820.2 706.1 820.4 709.1 820.5 712.1 820.7 715.1 820.8 718.1 821.0 721.1 821.1 724.1 821.2 727.1 821.4 730.1 821.5 733.1 821.7 736.1 821.8 739.1 822.0 742.1 822.1 745.1 822.3 748.1 822.4 751.1 822.6 754.1 822.7 757.1 822.8 760.1 823.0 763.1 823.1 766.1 823.3 769.1 823.4 772.1 823.6 775.1 823.7 778.1 823.9 781.1 824.0 784.1 824.1 787.1 824.3 790.1 824.4 793.1 824.6 796.1 824.7 799.1 824.9 802.1 825.0 805.1 825.2 808.1 825.3 811.1 825.5 814.1 825.6 817.1 825.7 820.1 825.9 823.1 826.0 826.1 826.2 829.1 826.3 832.1 826.5 835.0 826.6 838.0 826.8 841.0 826.9 844.0 827.1 847.0 827.2 850.0 827.4 853.0 827.5 856.0 827.7 859.0 827.8 862.0 828.0 865.0 828.1 868.0 828.3 871.0 828.4 874.0 828.6 877.0 828.7 880.0 828.9 883.0 829.0 886.0 829.2 889.0 829.3 892.0 829.5 895.0 829.6 898.0 829.8 901.0 830.0 904.0 830.1 907.0 830.3 910.0 830.4 913.0 830.6 916.0 830.7 919.0 830.9 921.9 831.0 924.9 831.2 927.9 831.4 930.9 831.5 933.9 831.7 936.9 831.8 939.9 832.0 942.9 832.2 945.9 832.3 948.9 832.5 951.9 832.7 954.9 832.8 957.9 833.0 960.9 833.1 963.9 833.3 966.8 833.5 969.8 833.6 972.8 833.8 975.8 834.0 978.8 834.1 981.8 834.3 984.8 834.5 987.8 834.6 990.8 834.8 993.8 835.0 996.8 835.2 999.7 835.3 1002.7 835.5 1005.7 835.7 1008.7 835.9 1011.7 836.0 1014.7 836.2 1017.7 836.4 1020.7 836.6 1023.7 836.7 1026.6 836.9 1029.6 837.1 1032.6 837.3 1035.6 837.5 1038.6 837.6 1041.6 837.8 1044.6 838.0 1047.6 838.2 1050.5 838.4 1053.5 838.6 1056.5 838.8 1059.5 839.0 1062.5 839.2 1065.5 839.3 1068.5 839.5 1071.5 839.7 1074.4 839.9 1077.4 840.1 1080.4 840.3 1083.4 840.5 1086.4 840.7 1089.4 840.9 1092.4 841.1 1095.4 841.3 1098.3 841.6 1101.3 841.8 1104.3 842.0 1107.3 842.2 1110.3 842.4 1113.3 842.6 1116.3 842.8 1119.3 843.1 1122.3 843.3 1125.2 843.5 1128.2 843.7 1131.2 843.9 1134.2 844.2 1137.2 844.4 1140.2 844.6 1143.2 844.9 1146.2 845.1 1149.2 845.3 1152.2 845.6 1155.1 845.8 1158.1 846.1 1161.1 846.3 1164.1 846.5 1167.1 846.8 1170.1 847.0 1173.1 847.3 1176.1 847.5 1179.1 847.8 1182.1 848.1 1185.1 848.3 1188.1 848.6 1191.1 848.8 1194.1 849.1 1197.0 849.4 1200.0 849.6 1203.0 849.9 1206.0 850.2 1209.0 850.5 1212.0 850.7 1215.0 851.0 1218.0 851.3 1221.0 851.6 1224.0 851.9 1227.0 852.2 1230.0 852.5 1233.0 852.8 1236.0 853.1 1239.0 853.4 1242.0 853.7 1245.0 854.0 1248.0 854.3 1251.0 854.6 1254.0 854.9 1257.0 855.2 1260.0 855.5 1263.1 855.9 1266.1 856.2 1269.1 856.5 1272.1 856.9 1275.1 857.2 1278.1 857.5 1281.1 857.9 1284.1 858.2 1287.1 858.6 1290.1 859.0 1293.1 859.3 1296.1 859.7 1299.1 860.1 1302.1 860.5 1305.1 860.9 1308.1 861.3 1311.1 861.8 1314.1 862.2 1317.0 862.7 1320.0 863.1 1323.0 863.6 1326.0 864.1 1328.9 864.6 1331.9 865.1 1334.9 865.6 1337.8 866.2 1340.8 866.7 1343.7 867.3 1346.6 867.9 1349.6 868.5 1352.5 869.2 1355.4 869.8 1358.3 870.5 1361.2 871.1 1364.1 871.8 1367.0 872.6 1369.9 873.3 1372.8 874.0 1375.7 874.8 1378.5 875.6 1381.4 876.5 1384.2 877.3 1387.1 878.2 1389.9 879.1 1392.7 880.0 1395.6 880.9 1398.4 881.9 1401.2 882.9 1403.9 883.9 1406.7 884.9 1409.5 886.0 1412.2 887.1 1415.0 888.2 1417.7 889.4 1420.4 890.5 1423.1 891.8 1425.8 893.0 1428.5 894.3 1431.2 895.6 1433.9 896.9 1436.5 898.3 1439.2 899.7 1441.8 901.1 1444.3 902.7 1446.9 904.3 1449.4 905.9 1451.8 907.7 1454.2 909.6 1456.6 911.5 1458.8 913.6 1461.0 915.8 1463.1 918.1 1465.1 920.5 1467.0 923.1 1468.8 925.7 1470.5 928.4 1472.0 931.2 1473.4 934.0 1474.6 936.9 1475.7 939.9 1476.5 942.8 1477.2 945.8 1477.7 948.8 1478.0 951.7 1478.0 954.7 1478.0 957.7 1477.9 960.6 1477.8 963.6 1477.9 966.5 1478.3 969.5 1478.9 972.4 1479.7 975.3 1480.6 978.3 1481.6 981.2 1482.5 984.1 1483.4 987.1 1484.1 990.0 1484.8 992.9 1485.4 995.8 1486.0 998.8 1486.5 1001.7 1487.0 1004.6 1487.5 1007.5 1488.0 1010.5 1488.5 1013.4 1489.1 1016.3 1489.6 1019.3 1490.2 1022.2 1490.8 1025.2 1491.2 1028.1 1491.5 1031.1 1491.5 1034.0 1491.3 1037.0 1490.9 1039.9 1490.3 1042.9 1489.6 1045.8 1489.0 1048.8 1488.4 1051.8 1487.9 1054.7 1487.5 1057.7 1487.1 1060.7 1486.8 1063.7 1486.6 1066.6 1486.4 1069.6 1486.3 1072.6 1486.2 1075.6 1486.1 1078.6 1486.1 1081.5 1486.1 1084.5 1486.2 1087.5 1486.3 1090.5 1486.4 1093.5 1486.5 1096.5 1486.6 1099.5 1486.8 1102.5 1486.9 1105.4 1487.1 1108.4 1487.3 1111.4 1487.5 1114.4 1487.8 1117.4 1488.0 1120.4 1488.3 1123.4 1488.6 1126.4 1488.9 1129.4 1489.2 1132.4 1489.5 1135.4 1489.9 1138.4 1490.2 1141.3 1490.6 1144.3 1491.0 1147.3 1491.4 1150.3 1491.8 1153.3 1492.3 1156.3 1492.7 1159.3 1493.2 1162.3 1493.7 1165.2 1494.2 1168.2 1494.7 1171.2 1495.1 1174.2 1495.5 1177.2 1495.9 1180.1 1496.3 1183.1 1496.6 1186.1 1496.8 1189.1 1497.0 1192.0 1497.1 1195.0 1497.2 1198.0 1497.1 1200.9 1497.0 1203.9 1496.7 1206.8 1496.4 1209.8 1496.0 1212.7 1495.6 1215.7 1495.0 1218.6 1494.4 1221.6 1493.8 1224.5 1493.1 1227.5 1492.4 1230.4 1491.6 1233.4 1490.8 1236.3 1490.0 1239.3 1489.2 1242.2 1488.3 1245.1 1487.5 1248.1 1486.6 1251.0 1485.7 1253.9 1484.9 1256.9 1484.1 1259.8 1483.3 1262.8 1482.5 1265.7 1481.7 1268.6 1481.0 1271.6 1480.3 1274.5 1479.7 1277.4 1479.1 1280.4 1478.6 1283.3 1478.2 1286.2 1477.8 1289.2 1477.5 1292.1 1477.3 1295.1 1477.1 1298.0 1477.0 1300.9 1476.9 1303.9 1476.9 1306.8 1477.0 1309.8 1477.0 1312.7 1477.2 1315.6 1477.4 1318.6 1477.6 1321.5 1477.8 1324.5 1478.1 1327.4 1478.4 1330.4 1478.8 1333.3 1479.1 1336.3 1479.5 1339.2 1479.9 1342.2 1480.4 1345.2 1480.8 1348.1 1481.3 1351.1 1481.7 1354.1 1482.2 1357.0 1482.7 1360.0 1483.1 1363.0 1483.6 1366.0 1484.1 1368.9 1484.5 1371.9 1485.0 1374.9 1485.4 1377.9 1485.8 1380.9 1486.2 1383.9 1486.6 1386.9 1486.9 1389.9 1487.2 1392.9 1487.5 1395.9 1487.7 1398.9 1487.9 1401.9 1488.0 1404.9 1488.0 1407.9 1488.0 1410.8 1487.9 1413.8 1487.7 1416.8 1487.4 1419.8 1487.0 1422.7 1486.6 1425.7 1486.0 1428.6 1485.3 1431.5 1484.5 1434.4 1483.6 1437.3 1482.6 1440.2 1481.5 1443.1 1480.3 1445.9 1479.0 1448.8 1477.7 1451.6 1476.3 1454.4 1474.8 1457.2 1473.3 1460.0 1471.8 1462.7 1470.2 1465.5 1468.7 1468.2 1467.1 1470.8 1465.5 1473.5 1463.9 1476.1 1462.3 1478.8 1460.7 1481.3 1459.2 1483.9 1457.7 1486.4 1456.2 1489.0 1454.7 1491.5 1453.3 1494.0 1451.9 1496.4 1450.6 1498.9 1449.3 1501.4 1448.0 1503.9 1446.7 1506.5 1445.4 1509.0 1444.2 1511.5 1443.0 1514.1 1441.8 1516.7 1440.6 1519.4 1439.5 1522.1 1438.4 1524.8 1437.3 1527.5 1436.2 1530.4 1435.1 1533.3 1434.0 1536.2 1433.0 1539.2 1432.0 1542.2 1431.0 1545.3 1430.1 1548.3 1429.4 1551.4 1428.8 1554.4 1428.3 1557.4 1428.1 1560.3 1428.0 1563.2 1428.2 1566.0 1428.7 1568.7 1429.4 1571.3 1430.3 1573.9 1431.5 1576.5 1432.8 1579.1 1434.2 1581.6 1435.7 1584.2 1437.2 1586.9 1438.8 1589.6 1440.4 1592.3 1441.9 1595.1 1443.3 1598.0 1444.7 1600.9 1446.0 1603.8 1447.2 1606.8 1448.3 1609.7 1449.2 1612.7 1450.0 1615.7 1450.6 1618.7 1451.0 1621.6 1451.3 1624.6 1451.3 1627.5 1451.2 1630.4 1450.8 1633.2 1450.3 1636.0 1449.5 1638.7 1448.5 1641.3 1447.4 1643.9 1446.0 1646.4 1444.4 1648.8 1442.6 1651.2 1440.7 1653.5 1438.6 1655.7 1436.4 1657.9 1434.2 1660.0 1431.8 1662.1 1429.3 1664.1 1426.9 1666.1 1424.4 1668.1 1421.9 1670.0 1419.4 1671.9 1417.0 1673.8 1414.7 1675.7 1412.3 1677.6 1410.1 1679.5 1407.8 1681.3 1405.6 1683.2 1403.4 1685.1 1401.2 1686.9 1399.0 1688.8 1396.9 1690.8 1394.7 1692.7 1392.6 1694.7 1390.4 1696.7 1388.2 1698.8 1386.0 1700.9 1383.7 1703.0 1381.5 1705.2 1379.3 1707.4 1377.1 1709.7 1374.9 1712.0 1372.7 1714.3 1370.7 1716.7 1368.6 1719.1 1366.7 1721.6 1364.8 1724.1 1363.1 1726.6 1361.4 1729.2 1359.9 1731.8 1358.5 1734.5 1357.3 1737.2 1356.2 1739.9 1355.3 1742.7 1354.6 1745.5 1354.1 1748.3 1353.7 1751.2 1353.6 1754.1 1353.7 1757.0 1354.0 1759.9 1354.5 1762.9 1355.2 1765.8 1356.1 1768.7 1357.1 1771.6 1358.3 1774.4 1359.6 1777.2 1361.0 1780.0 1362.6 1782.6 1364.3 1785.2 1366.1 1787.8 1368.0 1790.2 1369.9 1792.5 1372.0 1794.7 1374.0 1796.8 1376.2 1798.9 1378.3 1800.9 1380.4 1802.9 1382.5 1804.8 1384.6 1806.7 1386.7 1808.6 1388.6 1810.5 1390.5 1812.4 1392.4 1814.4 1394.2 1816.3 1396.0 1818.4 1397.8 1820.4 1399.7 1822.6 1401.6 1824.8 1403.6 1827.1 1405.7 1829.5 1408.0 1832.0 1410.2 1834.6 1412.5 1837.3 1414.7 1840.0 1416.6 1842.8 1418.4 1845.6 1419.8 1848.4 1420.7 1851.2 1421.2 1854.0 1421.3 1856.8 1421.0 1859.6 1420.4 1862.4 1419.5 1865.1 1418.3 1867.7 1416.9 1870.3 1415.3 1872.7 1413.6 1875.1 1411.7 1877.4 1409.8 1879.6 1407.7 1881.7 1405.4 1883.6 1403.1 1885.4 1400.7 1887.1 1398.2 1888.6 1395.6 1889.9 1392.9 1891.2 1390.2 1892.3 1387.4 1893.3 1384.6 1894.3 1381.7 1895.2 1378.8 1896.0 1375.9 1896.8 1372.9 1897.6 1370.0 1898.4 1367.1 1899.1 1364.1 1899.9 1361.2 1900.6 1358.2 1901.3 1355.3 1902.1 1352.3 1902.8 1349.4 1903.5 1346.4 1904.2 1343.5 1904.8 1340.6 1905.5 1337.6 1906.2 1334.7 1906.8 1331.7 1907.4 1328.8 1908.1 1325.8 1908.7 1322.9 1909.3 1319.9 1909.9 1316.9 1910.5 1314.0 1911.1 1311.0 1911.7 1308.1 1912.3 1305.1 1912.8 1302.2 1913.4 1299.2 1913.9 1296.3 1914.5 1293.3 1915.0 1290.3 1915.5 1287.4 1916.0 1284.4 1916.5 1281.5 1917.1 1278.5 1917.5 1275.5 1918.0 1272.6 1918.5 1269.6 1919.0 1266.6 1919.5 1263.7 1919.9 1260.7 1920.4 1257.8 1920.8 1254.8 1921.3 1251.8 1921.7 1248.9 1922.2 1245.9 1922.6 1242.9 1923.0 1239.9 1923.4 1237.0 1923.9 1234.0 1924.3 1231.0 1924.7 1228.1 1925.1 1225.1 1925.5 1222.1 1925.8 1219.2 1926.2 1216.2 1926.6 1213.2 1927.0 1210.2 1927.4 1207.3 1927.7 1204.3 1928.1 1201.3 1928.5 1198.3 1928.8 1195.4 1929.2 1192.4 1929.5 1189.4 1929.9 1186.4 1930.2 1183.5 1930.6 1180.5 1930.9 1177.5 1931.3 1174.5 1931.6 1171.6 1931.9 1168.6 1932.3 1165.6 1932.6 1162.6 1932.9 1159.6 1933.2 1156.7 1933.5 1153.7 1933.9 1150.7 1934.2 1147.7 1934.5 1144.7 1934.8 1141.7 1935.1 1138.8 1935.4 1135.8 1935.7 1132.8 1936.0 1129.8 1936.3 1126.8 1936.6 1123.8 1936.9 1120.9 1937.2 1117.9 1937.4 1114.9 1937.7 1111.9 1938.0 1108.9 1938.3 1105.9 1938.6 1103.0 1938.8 1100.0 1939.1 1097.0 1939.4 1094.0 1939.7 1091.0 1939.9 1088.0 1940.2 1085.0 1940.4 1082.0 1940.7 1079.1 1941.0 1076.1 1941.2 1073.1 1941.5 1070.1 1941.7 1067.1 1942.0 1064.1 1942.2 1061.1 1942.5 1058.1 1942.7 1055.1 1943.0 1052.2 1943.2 1049.2 1943.5 1046.2 1943.7 1043.2 1944.0 1040.2 1944.2 1037.2 1944.4 1034.2 1944.7 1031.2 1944.9 1028.2 1945.1 1025.2 1945.4 1022.2 1945.6 1019.3 1945.8 1016.3 1946.1 1013.3 1946.3 1010.3 1946.5 1007.3 1946.7 1004.3 1947.0 1001.3 1947.2 998.3 1947.4 995.3 1947.6 992.3 1947.9 989.3 1948.1 986.3 1948.3 983.3 1948.5 980.4 1948.7 977.4 1949.0 974.4 1949.2 971.4 1949.4 968.4 1949.6 965.4 1949.8 962.4 1950.1 959.4 1950.3 956.4 1950.5 953.4 1950.7 950.4 1950.9 947.4 1951.1 944.4 1951.3 941.4 1951.6 938.5 1951.8 935.5 1952.0 932.5 1952.2 929.5 1952.4 926.5 1952.6 923.5 1952.8 920.5 1953.1 917.5 1953.3 914.5 1953.5 911.5 1953.7 908.5 1953.9 905.5 1954.1 902.5 1954.3 899.5 1954.6 896.6 1954.8 893.6 1955.0 890.6 1955.2 887.6 1955.4 884.6 1955.6 881.6 1955.8 878.6 1956.1 875.6 1956.3 872.6 1956.5 869.6 1956.7 866.6 1956.9 863.6 1957.1 860.6 1957.4 857.6 1957.6 854.7 1957.8 851.7 1958.0 848.7 1958.2 845.7 1958.4 842.7 1958.7 839.7 1958.9 836.7 1959.1 833.7 1959.3 830.7 1959.5 827.7 1959.7 824.7 1960.0 821.7 1960.2 818.7 1960.4 815.7 1960.6 812.8 1960.9 809.8 1961.1 806.8 1961.3 803.8 1961.5 800.8 1961.7 797.8 1962.0 794.8 1962.2 791.8 1962.4 788.8 1962.6 785.8 1962.9 782.8 1963.1 779.8 1963.3 776.8 1963.6 773.8 1963.8 770.9 1964.0 767.9 1964.2 764.9 1964.5 761.9 1964.7 758.9 1964.9 755.9 1965.2 752.9 1965.4 749.9 1965.6 746.9 1965.9 743.9 1966.1 740.9 1966.3 737.9 1966.6 734.9 1966.8 731.9 1967.1 728.9 1967.3 725.9 1967.5 723.0 1967.8 720.0 1968.0 717.0 1968.3 714.0 1968.5 711.0 1968.8 708.0 1969.0 705.0 1969.3 702.0 1969.5 699.0 1969.7 696.0 1970.0 693.0 1970.3 690.0 1970.5 687.0 1970.8 684.0 1971.0 681.0 1971.3 678.0 1971.5 675.0 1971.8 672.1 1972.0 669.1 1972.3 666.1 1972.6 663.1 1972.8 660.1 1973.1 657.1 1973.3 654.1 1973.6 651.1 1973.9 648.1 1974.2 645.1 1974.4 642.1 1974.7 639.1 1975.0 636.1 1975.3 633.1 1975.6 630.1 1975.8 627.2 1976.1 624.2 1976.4 621.2 1976.7 618.2 1977.0 615.2 1977.3 612.2 1977.7 609.2 1978.0 606.3 1978.3 603.3 1978.6 600.3 1979.0 597.3 1979.3 594.4 1979.7 591.4 1980.0 588.4 1980.3 585.5 1980.7 582.5 1981.0 579.5 1981.4 576.6 1981.7 573.6 1982.1 570.7 1982.4 567.7 1982.7 564.8 1983.1 561.8 1983.4 558.9 1983.7 556.0 1984.0 553.0 1984.4 550.1 1984.7 547.2 1985.0 544.2 1985.4 541.3 1985.7 538.3 1986.1 535.4 1986.5 532.4 1986.9 529.4 1987.4 526.4 1987.9 523.3 1988.4 520.3 1988.9 517.2 1989.6 514.2 1990.8 511.2 1992.7 508.4 1995.2 506.4 1997.4 506.1 1998.9 507.4 2000.2 509.7 2001.3 512.2 2002.4 514.8 2003.3 517.5 2004.3 520.4 2005.1 523.3 2005.9 526.4 2006.7 529.4 2007.3 532.6 2008.0 535.7 2008.6 538.9 2009.1 542.1 2009.6 545.2 2010.0 548.3 2010.5 551.4 2010.8 554.4 2011.2 557.5 2011.5 560.4 2011.8 563.4 2012.1 566.4 2012.3 569.3 2012.6 572.2 2012.8 575.1 2013.0 578.0 2013.2 580.9 2013.4 583.9 2013.6 586.8 2013.8 589.7 2014.0 592.6 2014.2 595.6 2014.4 598.5 2014.6 601.5 2014.8 604.4 2015.1 607.4 2015.3 610.4 2015.5 613.4 2015.7 616.4 2016.0 619.4 2016.2 622.4 2016.5 625.4 2016.7 628.4 2017.0 631.5 2017.2 634.5 2017.5 637.5 2017.7 640.5 2018.0 643.5 2018.2 646.5 2018.5 649.5 2018.8 652.5 2019.0 655.5 2019.3 658.5 2019.6 661.5 2019.8 664.5 2020.1 667.5 2020.4 670.5 2020.6 673.5 2020.9 676.5 2021.2 679.5 2021.5 682.5 2021.7 685.5 2022.0 688.5 2022.3 691.5 2022.5 694.5 2022.8 697.4 2023.1 700.4 2023.4 703.4 2023.6 706.4 2023.9 709.4 2024.2 712.4 2024.4 715.4 2024.7 718.4 2025.0 721.3 2025.2 724.3 2025.5 727.3 2025.7 730.3 2026.0 733.3 2026.3 736.3 2026.5 739.3 2026.8 742.3 2027.0 745.2 2027.3 748.2 2027.5 751.2 2027.8 754.2 2028.1 757.2 2028.3 760.2 2028.6 763.2 2028.8 766.2 2029.1 769.2 2029.3 772.2 2029.5 775.1 2029.8 778.1 2030.0 781.1 2030.3 784.1 2030.5 787.1 2030.8 790.1 2031.0 793.1 2031.2 796.1 2031.5 799.1 2031.7 802.1 2032.0 805.0 2032.2 808.0 2032.4 811.0 2032.7 814.0 2032.9 817.0 2033.1 820.0 2033.4 823.0 2033.6 826.0 2033.8 829.0 2034.0 832.0 2034.3 835.0 2034.5 838.0 2034.7 840.9 2034.9 843.9 2035.2 846.9 2035.4 849.9 2035.6 852.9 2035.8 855.9 2036.1 858.9 2036.3 861.9 2036.5 864.9 2036.7 867.9 2036.9 870.9 2037.1 873.9 2037.4 876.9 2037.6 879.9 2037.8 882.8 2038.0 885.8 2038.2 888.8 2038.4 891.8 2038.6 894.8 2038.8 897.8 2039.0 900.8 2039.2 903.8 2039.4 906.8 2039.7 909.8 2039.9 912.8 2040.1 915.8 2040.3 918.8 2040.5 921.8 2040.7 924.8 2040.9 927.8 2041.1 930.8 2041.3 933.7 2041.4 936.7 2041.6 939.7 2041.8 942.7 2042.0 945.7 2042.2 948.7 2042.4 951.7 2042.6 954.7 2042.8 957.7 2043.0 960.7 2043.2 963.7 2043.4 966.7 2043.5 969.7 2043.7 972.7 2043.9 975.7 2044.1 978.7 2044.3 981.7 2044.5 984.7 2044.7 987.7 2044.8 990.7 2045.0 993.7 2045.2 996.7 2045.4 999.7 2045.6 1002.7 2045.7 1005.6 2045.9 1008.6 2046.1 1011.6 2046.3 1014.6 2046.4 1017.6 2046.6 1020.6 2046.8 1023.6 2047.0 1026.6 2047.2 1029.6 2047.3 1032.6 2047.5 1035.6 2047.7 1038.6 2047.9 1041.6 2048.0 1044.6 2048.2 1047.6 2048.4 1050.6 2048.6 1053.6 2048.7 1056.6 2048.9 1059.6 2049.1 1062.6 2049.3 1065.6 2049.5 1068.6 2049.6 1071.6 2049.8 1074.6 2050.0 1077.6 2050.2 1080.6 2050.4 1083.6 2050.5 1086.5 2050.7 1089.5 2050.9 1092.5 2051.1 1095.5 2051.3 1098.5 2051.5 1101.5 2051.6 1104.5 2051.8 1107.5 2052.0 1110.5 2052.2 1113.5 2052.4 1116.5 2052.6 1119.5 2052.8 1122.5 2053.0 1125.5 2053.2 1128.5 2053.4 1131.5 2053.6 1134.5 2053.7 1137.5 2053.9 1140.5 2054.1 1143.4 2054.3 1146.4 2054.5 1149.4 2054.8 1152.4 2055.0 1155.4 2055.2 1158.4 2055.4 1161.4 2055.6 1164.4 2055.8 1167.4 2056.0 1170.4 2056.2 1173.4 2056.4 1176.4 2056.7 1179.4 2056.9 1182.4 2057.1 1185.3 2057.3 1188.3 2057.5 1191.3 2057.8 1194.3 2058.0 1197.3 2058.2 1200.3 2058.5 1203.3 2058.7 1206.3 2058.9 1209.3 2059.2 1212.3 2059.4 1215.3 2059.7 1218.2 2059.9 1221.2 2060.1 1224.2 2060.4 1227.2 2060.7 1230.2 2060.9 1233.2 2061.2 1236.2 2061.4 1239.2 2061.7 1242.1 2062.0 1245.1 2062.2 1248.1 2062.5 1251.1 2062.8 1254.1 2063.0 1257.1 2063.3 1260.1 2063.6 1263.0 2063.9 1266.0 2064.2 1269.0 2064.5 1272.0 2064.8 1275.0 2065.1 1278.0 2065.4 1281.0 2065.7 1283.9 2066.0 1286.9 2066.3 1289.9 2066.6 1292.9 2066.9 1295.9 2067.3 1298.9 2067.6 1301.8 2067.9 1304.8 2068.3 1307.8 2068.6 1310.8 2068.9 1313.8 2069.3 1316.7 2069.6 1319.7 2070.0 1322.7 2070.4 1325.7 2070.7 1328.7 2071.1 1331.6 2071.5 1334.6 2071.9 1337.6 2072.2 1340.6 2072.6 1343.5 2073.0 1346.5 2073.4 1349.5 2073.8 1352.5 2074.3 1355.4 2074.7 1358.4 2075.1 1361.4 2075.5 1364.4 2076.0 1367.3 2076.4 1370.3 2076.9 1373.3 2077.3 1376.3 2077.8 1379.2 2078.2 1382.2 2078.7 1385.2 2079.2 1388.1 2079.6 1391.1 2080.1 1394.1 2080.6 1397.1 2081.1 1400.0 2081.6 1403.0 2082.1 1406.0 2082.7 1408.9 2083.2 1411.9 2083.7 1414.9 2084.2 1417.8 2084.7 1420.8 2085.2 1423.8 2085.8 1426.7 2086.3 1429.7 2086.8 1432.7 2087.3 1435.6 2087.8 1438.6 2088.3 1441.5 2088.7 1444.5 2089.2 1447.5 2089.6 1450.4 2090.1 1453.4 2090.5 1456.3 2091.0 1459.3 2091.5 1462.2 2092.0 1465.2 2092.6 1468.1 2093.2 1471.0 2093.9 1473.9 2094.6 1476.7 2095.4 1479.6 2096.3 1482.4 2097.3 1485.2 2098.3 1488.0 2099.5 1490.8 2100.8 1493.5 2102.2 1496.2 2103.7 1498.9 2105.4 1501.5 2107.1 1504.1 2108.9 1506.5 2110.9 1509.0 2112.9 1511.3 2115.0 1513.6 2117.1 1515.8 2119.4 1517.8 2121.6 1519.8 2124.0 1521.6 2126.4 1523.3 2128.8 1524.9 2131.3 1526.4 2133.9 1527.8 2136.4 1529.1 2139.1 1530.3 2141.7 1531.4 2144.4 1532.5 2147.1 1533.5 2149.9 1534.4 2152.7 1535.3 2155.5 1536.1 2158.3 1536.9 2161.2 1537.7 2164.1 1538.4 2167.0 1539.2 2169.9 1539.8 2172.9 1540.5 2175.9 1541.1 2178.8 1541.7 2181.8 1542.2 2184.8 1542.7 2187.8 1543.2 2190.8 1543.6 2193.9 1544.0 2196.9 1544.3 2199.9 1544.6 2202.9 1544.8 2205.9 1544.9 2209.0 1545.1 2212.0 1545.2 2215.0 1545.2 2218.0 1545.2 2221.0 1545.2 2224.0 1545.2 2227.0 1545.1 2230.0 1545.0 2233.0 1545.0 2236.0 1544.9 2239.0 1544.8 2242.1 1544.7 2245.1 1544.6 2248.1 1544.5 2251.1 1544.4 2254.1 1544.4 2257.1 1544.4 2260.0 1544.3 2263.0 1544.3 2266.0 1544.4 2269.0 1544.4 2272.0 1544.5 2275.0 1544.5 2278.0 1544.6 2281.0 1544.7 2284.0 1544.8 2287.0 1544.9 2290.0 1545.0 2293.0 1545.2 2296.0 1545.3 2299.0 1545.4 2302.0 1545.6 2304.9 1545.7 2307.9 1545.9 2310.9 1546.0 2313.9 1546.2 2316.9 1546.3 2319.9 1546.5 2322.9 1546.6 2325.9 1546.7 2328.9 1546.9 2331.9 1547.0 2334.8 1547.1 2337.8 1547.3 2340.8 1547.4 2343.8 1547.5 2346.8 1547.6 2349.8 1547.7 2352.8 1547.9 2355.8 1548.0 2358.8 1548.0 2361.8 1548.1 2364.8 1548.2 2367.8 1548.3 2370.8 1548.4 2373.8 1548.4 2376.8 1548.5 2379.8 1548.5 2382.8 1548.5 2385.8 1548.6 2388.8 1548.6 2391.8 1548.6 2394.8 1548.6 2397.8 1548.6 2400.8 1548.6 2403.8 1548.6 2406.8 1548.6 2409.8 1548.6 2412.8 1548.6 2415.8 1548.6 2418.8 1548.6 2421.8 1548.6 2424.8 1548.6 2427.9 1548.6 2430.9 1548.7 2433.9 1548.7 2436.9 1548.7 2439.9 1548.8 2443.0 1548.8 2446.0 1548.9 2449.0 1549.0"/>
<path stroke="#008000" d="M292.6 1251.5 295.1 1253.3 297.5 1252.3 299.8 1250.0 302.1 1247.7 304.3 1245.6 306.5 1243.6 308.6 1241.6 310.6 1239.6 312.7 1237.6 314.6 1235.6 316.5 1233.5 318.4 1231.2 320.2 1229.0 322.0 1226.6 323.7 1224.2 325.5 1221.8 327.1 1219.3 328.8 1216.8 330.4 1214.2 332.0 1211.7 333.6 1209.1 335.2 1206.5 336.7 1203.9 338.3 1201.3 339.8 1198.7 341.3 1196.1 342.7 1193.4 344.2 1190.8 345.6 1188.1 347.0 1185.5 348.4 1182.8 349.8 1180.1 351.2 1177.5 352.5 1174.8 353.8 1172.1 355.1 1169.4 356.4 1166.6 357.7 1163.9 359.0 1161.2 360.2 1158.5 361.5 1155.7 362.7 1153.0 363.9 1150.2 365.1 1147.5 366.2 1144.7 367.4 1141.9 368.5 1139.2 369.7 1136.4 370.8 1133.6 371.9 1130.8 373.0 1128.0 374.1 1125.2 375.2 1122.4 376.2 1119.6 377.3 1116.8 378.3 1114.0 379.3 1111.2 380.3 1108.3 381.3 1105.5 382.3 1102.7 383.3 1099.8 384.3 1097.0 385.3 1094.2 386.2 1091.3 387.2 1088.5 388.1 1085.6 389.0 1082.8 390.0 1079.9 390.9 1077.1 391.8 1074.2 392.7 1071.3 393.6 1068.5 394.4 1065.6 395.3 1062.7 396.2 1059.9 397.0 1057.0 397.9 1054.1 398.8 1051.2 399.6 1048.4 400.4 1045.5 401.3 1042.6 402.1 1039.7 402.9 1036.8 403.7 1033.9 404.6 1031.0 405.4 1028.1 406.2 1025.2 407.0 1022.4 407.8 1019.5 408.6 1016.6 409.4 1013.7 410.2 1010.8 410.9 1007.9 411.7 1005.0 412.5 1002.1 413.3 999.2 414.1 996.3 414.8 993.4 415.6 990.5 416.4 987.6 417.2 984.7 417.9 981.8 418.7 978.9 419.5 976.0 420.3 973.1 421.0 970.2 421.8 967.3 422.6 964.4 423.4 961.5 424.1 958.6 424.9 955.7 425.7 952.8 426.5 949.9 427.3 947.0 428.1 944.1 428.8 941.2 429.6 938.3 430.4 935.4 431.2 932.5 432.0 929.6 432.8 926.7 433.7 923.8 434.5 920.9 435.3 918.1 436.1 915.2 436.9 912.3 437.8 909.4 438.6 906.5 439.5 903.7 440.3 900.8 441.2 897.9 442.0 895.1 442.9 892.2 443.8 889.3 444.7 886.5 445.6 883.6 446.5 880.8 447.4 877.9 448.3 875.0 449.2 872.2 450.1 869.4 451.1 866.5 452.0 863.7 453.0 860.8 454.0 858.0 454.9 855.2 455.9 852.4 456.9 849.5 457.9 846.7 458.9 843.9 460.0 841.1 461.0 838.3 462.1 835.5 463.1 832.7 464.2 829.9 465.3 827.1 466.4 824.3 467.5 821.5 468.6 818.8 469.7 816.0 470.9 813.2 472.0 810.5 473.2 807.7 474.4 804.9 475.6 802.2 476.8 799.4 478.0 796.7 479.3 794.0 480.5 791.2 481.8 788.5 483.0 785.8 484.3 783.0 485.6 780.3 486.8 777.6 488.1 774.9 489.4 772.1 490.7 769.4 492.0 766.7 493.3 764.0 494.5 761.3 495.8 758.6 497.1 755.8 498.4 753.1 499.7 750.4 501.0 747.7 502.2 745.0 503.5 742.2 504.8 739.5 506.0 736.8 507.3 734.1 508.5 731.3 509.8 728.6 511.0 725.9 512.2 723.1 513.4 720.4 514.6 717.6 515.7 714.9 516.9 712.1 518.1 709.3 519.2 706.6 520.3 703.8 521.4 701.0 522.5 698.2 523.5 695.5 524.6 692.7 525.6 689.9 526.6 687.0 527.6 684.2 528.5 681.4 529.4 678.6 530.4 675.7 531.2 672.9 532.1 670.0 533.0 667.2 533.8 664.3 534.6 661.4 535.4 658.6 536.2 655.7 537.0 652.8 537.7 649.9 538.4 647.0 539.2 644.1 539.9 641.2 540.5 638.3 541.2 635.4 541.9 632.5 542.5 629.5 543.2 626.6 543.8 623.7 544.4 620.7 545.0 617.8 545.6 614.8 546.2 611.9 546.8 609.0 547.4 606.0 547.9 603.0 548.5 600.1 549.0 597.1 549.6 594.2 550.1 591.2 550.6 588.2 551.2 585.3 551.7 582.3 552.2 579.3 552.7 576.4 553.3 573.4 553.8 570.4 554.3 567.5 554.8 564.5 555.3 561.5 555.8 558.5 556.4 555.6 556.9 552.6 557.4 549.6 557.9 546.7 558.5 543.7 559.0 540.7 559.5 537.8 560.1 534.8 560.6 531.8 561.2 528.9 561.7 525.9 562.3 522.9 562.9 520.0 563.5 517.0 564.1 514.1 564.7 511.1 565.3 508.2 565.9 505.2 566.5 502.3 567.2 499.4 567.8 496.4 568.5 493.5 569.1 490.6 569.8 487.6 570.5 484.7 571.2 481.8 571.9 478.9 572.6 476.0 573.3 473.1 574.0 470.2 574.8 467.3 575.5 464.4 576.3 461.5 577.1 458.6 577.8 455.7 578.6 452.8 579.4 449.9 580.2 447.0 581.0 444.2 581.9 441.3 582.7 438.4 583.5 435.6 584.4 432.7 585.3 429.9 586.1 427.0 587.0 424.2 587.9 421.3 588.8 418.5 589.7 415.6 590.6 412.8 591.6 410.0 592.5 407.2 593.4 404.3 594.4 401.5 595.4 398.7 596.3 395.9 597.3 393.1 598.3 390.3 599.3 387.5 600.3 384.7 601.4 381.9 602.4 379.1 603.4 376.3 604.5 373.6 605.5 370.8 606.6 368.0 607.7 365.2 608.8 362.4 609.9 359.7 611.0 356.9 612.1 354.1 613.2 351.3 614.4 348.6 615.5 345.8 616.7 343.1 617.8 340.3 619.0 337.5 620.2 334.8 621.4 332.0 622.5 329.2 623.7 326.4 624.8 323.7 626.0 320.9 627.1 318.1 628.2 315.3 629.3 312.5 630.4 309.7 631.5 306.9 632.5 304.1 633.6 301.2 634.6 298.4 635.5 295.5 636.5 292.7 637.4 289.8 638.3 286.9 639.1 284.0 639.9 281.1 640.7 278.2 641.4 275.2 642.1 272.3 642.7 269.3 643.3 266.3 643.8 263.3 644.3 260.3 644.8 257.2 645.2 254.2 645.7 251.2 646.1 248.2 646.5 245.2 646.9 242.2 647.3 239.2 647.7 236.3 648.2 233.4 648.7 230.5 649.2 227.6 649.7 224.8 650.3 222.0 650.9 219.3 651.6 216.6 652.4 213.9 653.2 211.1 654.1 208.4 655.1 205.6 656.2 202.8 657.4 199.9 658.6 197.0 660.0 194.0 661.5 190.9 663.2 187.8 665.0 185.0 667.1 182.9 669.4 181.7 671.7 181.6 673.8 183.0 675.6 185.2 677.1 188.0 678.5 190.8 679.6 193.7 680.7 196.6 681.6 199.5 682.4 202.5 683.2 205.4 683.9 208.4 684.6 211.3 685.2 214.3 685.8 217.3 686.3 220.2 686.8 223.2 687.2 226.2 687.7 229.1 688.0 232.1 688.4 235.1 688.7 238.0 689.1 241.0 689.4 244.0 689.7 246.9 690.0 249.9 690.3 252.9 690.6 255.9 690.9 258.8 691.1 261.8 691.4 264.8 691.7 267.8 692.0 270.7 692.3 273.7 692.6 276.7 693.0 279.7 693.3 282.7 693.6 285.6 693.9 288.6 694.2 291.6 694.5 294.6 694.8 297.6 695.1 300.6 695.4 303.5 695.7 306.5 696.0 309.5 696.3 312.5 696.6 315.5 696.9 318.5 697.2 321.5 697.5 324.4 697.8 327.4 698.1 330.4 698.4 333.4 698.6 336.4 698.9 339.4 699.2 342.4 699.5 345.3 699.8 348.3 700.1 351.3 700.4 354.3 700.7 357.3 701.0 360.3 701.2 363.3 701.5 366.3 701.8 369.2 702.1 372.2 702.4 375.2 702.6 378.2 702.9 381.2 703.2 384.2 703.5 387.2 703.7 390.2 704.0 393.2 704.3 396.1 704.6 399.1 704.8 402.1 705.1 405.1 705.4 408.1 705.6 411.1 705.9 414.1 706.2 417.1 706.4 420.1 706.7 423.0 707.0 426.0 707.2 429.0 707.5 432.0 707.7 435.0 708.0 438.0 708.2 441.0 708.5 444.0 708.8 447.0 709.0 450.0 709.3 453.0 709.5 455.9 709.8 458.9 710.0 461.9 710.3 464.9 710.5 467.9 710.8 470.9 711.0 473.9 711.3 476.9 711.5 479.9 711.8 482.9 712.0 485.9 712.2 488.9 712.5 491.8 712.7 494.8 713.0 497.8 713.2 500.8 713.4 503.8 713.7 506.8 713.9 509.8 714.1 512.8 714.4 515.8 714.6 518.8 714.8 521.8 715.1 524.8 715.3 527.8 715.5 530.8 715.8 533.7 716.0 536.7 716.2 539.7 716.4 542.7 716.7 545.7 716.9 548.7 717.1 551.7 717.3 554.7 717.5 557.7 717.8 560.7 718.0 563.7 718.2 566.7 718.4 569.7 718.6 572.7 718.9 575.6 719.1 578.6 719.3 581.6 719.5 584.6 719.7 587.6 719.9 590.6 720.1 593.6 720.3 596.6 720.5 599.6 720.8 602.6 721.0 605.6 721.2 608.6 721.4 611.6 721.6 614.6 721.8 617.6 722.0 620.5 722.2 623.5 722.4 626.5 722.6 629.5 722.8 632.5 723.0 635.5 723.2 638.5 723.4 641.5 723.6 644.5 723.8 647.5 724.0 650.5 724.2 653.5 724.4 656.5 724.6 659.5 724.8 662.5 725.0 665.5 725.2 668.4 725.4 671.4 725.6 674.4 725.8 677.4 725.9 680.4 726.1 683.4 726.3 686.4 726.5 689.4 726.7 692.4 726.9 695.4 727.1 698.4 727.3 701.4 727.5 704.4 727.7 707.4 727.9 710.4 728.0 713.4 728.2 716.3 728.4 719.3 728.6 722.3 728.8 725.3 729.0 728.3 729.2 731.3 729.4 734.3 729.6 737.3 729.7 740.3 729.9 743.3 730.1 746.3 730.3 749.3 730.5 752.3 730.7 755.3 730.9 758.3 731.1 761.3 731.2 764.3 731.4 767.2 731.6 770.2 731.8 773.2 732.0 776.2 732.2 779.2 732.4 782.2 732.6 785.2 732.7 788.2 732.9 791.2 733.1 794.2 733.3 797.2 733.5 800.2 733.7 803.2 733.9 806.2 734.1 809.2 734.2 812.2 734.4 815.1 734.6 818.1 734.8 821.1 735.0 824.1 735.2 827.1 735.4 830.1 735.6 833.1 735.8 836.1 735.9 839.1 736.1 842.1 736.3 845.1 736.5 848.1 736.7 851.1 736.9 854.1 737.1 857.1 737.3 860.1 737.5 863.0 737.7 866.0 737.9 869.0 738.1 872.0 738.3 875.0 738.5 878.0 738.7 881.0 738.9 884.0 739.0 887.0 739.2 890.0 739.4 893.0 739.6 896.0 739.8 899.0 740.0 902.0 740.2 905.0 740.4 908.0 740.6 910.9 740.8 913.9 741.1 916.9 741.3 919.9 741.5 922.9 741.7 925.9 741.9 928.9 742.1 931.9 742.3 934.9 742.5 937.9 742.7 940.9 742.9 943.9 743.1 946.9 743.3 949.9 743.5 952.9 743.8 955.9 744.0 958.8 744.2 961.8 744.4 964.8 744.6 967.8 744.8 970.8 745.1 973.8 745.3 976.8 745.5 979.8 745.7 982.8 745.9 985.8 746.2 988.8 746.4 991.8 746.6 994.8 746.8 997.8 747.1 1000.8 747.3 1003.8 747.5 1006.7 747.7 1009.7 748.0 1012.7 748.2 1015.7 748.4 1018.7 748.7 1021.7 748.9 1024.7 749.1 1027.7 749.4 1030.7 749.6 1033.7 749.9 1036.7 750.1 1039.7 750.3 1042.7 750.6 1045.7 750.8 1048.7 751.1 1051.6 751.3 1054.6 751.6 1057.6 751.8 1060.6 752.1 1063.6 752.3 1066.6 752.6 1069.6 752.8 1072.6 753.1 1075.6 753.4 1078.6 753.6 1081.6 753.9 1084.6 754.1 1087.6 754.4 1090.6 754.7 1093.5 754.9 1096.5 755.2 1099.5 755.5 1102.5 755.7 1105.5 756.0 1108.5 756.3 1111.5 756.6 1114.5 756.8 1117.5 757.1 1120.5 757.4 1123.5 757.7 1126.4 758.0 1129.4 758.2 1132.4 758.5 1135.4 758.8 1138.4 759.1 1141.4 759.4 1144.4 759.7 1147.4 760.0 1150.4 760.3 1153.3 760.6 1156.3 760.9 1159.3 761.2 1162.3 761.5 1165.3 761.8 1168.3 762.1 1171.3 762.4 1174.2 762.7 1177.2 763.0 1180.2 763.3 1183.2 763.7 1186.2 764.0 1189.2 764.3 1192.1 764.6 1195.1 764.9 1198.1 765.3 1201.1 765.6 1204.1 765.9 1207.0 766.2 1210.0 766.6 1213.0 766.9 1216.0 767.2 1218.9 767.6 1221.9 767.9 1224.9 768.3 1227.9 768.6 1230.8 769.0 1233.8 769.3 1236.8 769.7 1239.8 770.0 1242.7 770.4 1245.7 770.7 1248.7 771.1 1251.7 771.4 1254.6 771.8 1257.6 772.2 1260.6 772.5 1263.5 772.9 1266.5 773.3 1269.5 773.6 1272.5 774.0 1275.4 774.4 1278.4 774.8 1281.4 775.1 1284.3 775.5 1287.3 775.9 1290.3 776.3 1293.2 776.7 1296.2 777.1 1299.2 777.5 1302.2 777.9 1305.1 778.3 1308.1 778.7 1311.1 779.1 1314.0 779.5 1317.0 779.9 1320.0 780.3 1322.9 780.7 1325.9 781.1 1328.9 781.6 1331.9 782.0 1334.8 782.4 1337.8 782.8 1340.8 783.3 1343.7 783.7 1346.7 784.2 1349.7 784.7 1352.6 785.2 1355.6 785.7 1358.5 786.2 1361.5 786.7 1364.4 787.2 1367.4 787.8 1370.3 788.4 1373.3 789.0 1376.2 789.6 1379.2 790.2 1382.1 790.8 1385.0 791.5 1388.0 792.2 1390.9 792.9 1393.8 793.7 1396.7 794.4 1399.6 795.2 1402.5 796.0 1405.4 796.9 1408.3 797.8 1411.2 798.7 1414.1 799.6 1416.9 800.6 1419.8 801.6 1422.7 802.6 1425.5 803.7 1428.3 804.8 1431.2 805.9 1434.0 807.1 1436.8 808.3 1439.6 809.6 1442.3 810.9 1445.1 812.2 1447.8 813.6 1450.5 815.0 1453.2 816.5 1455.8 818.0 1458.4 819.5 1461.0 821.1 1463.6 822.8 1466.1 824.5 1468.6 826.2 1471.0 828.0 1473.5 829.9 1475.8 831.8 1478.2 833.7 1480.5 835.7 1482.7 837.8 1484.9 839.9 1487.0 842.1 1489.2 844.3 1491.2 846.5 1493.2 848.9 1495.1 851.2 1497.0 853.6 1498.8 856.1 1500.6 858.6 1502.3 861.1 1503.9 863.7 1505.4 866.3 1506.9 868.9 1508.3 871.6 1509.6 874.3 1510.9 877.0 1512.1 879.8 1513.2 882.6 1514.2 885.4 1515.1 888.2 1515.9 891.1 1516.6 893.9 1517.3 896.8 1517.9 899.7 1518.4 902.6 1518.8 905.6 1519.1 908.5 1519.3 911.5 1519.5 914.4 1519.6 917.4 1519.6 920.4 1519.5 923.4 1519.3 926.4 1519.1 929.3 1518.8 932.3 1518.4 935.3 1517.9 938.2 1517.3 941.2 1516.7 944.2 1516.0 947.1 1515.3 950.1 1514.5 953.0 1513.7 956.0 1512.9 958.9 1512.1 961.8 1511.3 964.8 1510.5 967.7 1509.7 970.6 1508.9 973.6 1508.2 976.5 1507.5 979.4 1507.0 982.3 1506.4 985.3 1506.0 988.2 1505.7 991.1 1505.4 994.1 1505.2 997.0 1505.2 1000.0 1505.1 1002.9 1505.2 1005.8 1505.3 1008.8 1505.5 1011.8 1505.7 1014.7 1505.9 1017.7 1506.2 1020.7 1506.5 1023.6 1506.9 1026.6 1507.2 1029.6 1507.6 1032.6 1508.0 1035.6 1508.3 1038.6 1508.7 1041.7 1509.0 1044.7 1509.4 1047.7 1509.6 1050.7 1509.8 1053.7 1509.9 1056.7 1509.9 1059.6 1509.8 1062.5 1509.6 1065.3 1509.2 1068.1 1508.6 1070.8 1507.8 1073.4 1506.9 1076.0 1505.6 1078.5 1504.2 1080.8 1502.5 1083.1 1500.6 1085.4 1498.5 1087.5 1496.3 1089.6 1493.9 1091.6 1491.5 1093.6 1488.9 1095.5 1486.3 1097.3 1483.6 1099.1 1480.9 1100.9 1478.2 1102.6 1475.6 1104.2 1473.0 1105.9 1470.5 1107.5 1468.1 1109.1 1465.7 1110.7 1463.5 1112.3 1461.3 1113.9 1459.1 1115.5 1457.0 1117.2 1454.9 1118.8 1452.9 1120.5 1450.9 1122.3 1448.9 1124.1 1446.9 1126.0 1444.9 1127.9 1442.9 1129.9 1440.8 1132.1 1438.8 1134.3 1436.7 1136.6 1434.5 1139.0 1432.3 1141.5 1430.2 1144.0 1428.0 1146.7 1425.9 1149.4 1423.9 1152.2 1422.1 1155.0 1420.4 1157.8 1418.9 1160.6 1417.6 1163.5 1416.5 1166.4 1415.7 1169.2 1415.3 1172.0 1415.2 1174.8 1415.4 1177.6 1416.0 1180.3 1417.0 1183.0 1418.3 1185.6 1419.8 1188.1 1421.6 1190.5 1423.5 1192.8 1425.7 1195.0 1427.9 1197.1 1430.3 1199.1 1432.8 1200.9 1435.3 1202.7 1437.8 1204.3 1440.3 1205.8 1442.9 1207.3 1445.5 1208.7 1448.1 1210.0 1450.7 1211.3 1453.3 1212.6 1456.0 1213.9 1458.6 1215.2 1461.3 1216.5 1463.9 1217.9 1466.6 1219.3 1469.2 1220.8 1471.8 1222.3 1474.4 1224.0 1477.0 1225.7 1479.6 1227.6 1482.1 1229.5 1484.5 1231.5 1486.9 1233.7 1489.1 1235.9 1491.2 1238.2 1493.2 1240.7 1495.1 1243.2 1496.8 1245.8 1498.3 1248.5 1499.6 1251.3 1500.6 1254.2 1501.5 1257.1 1502.1 1260.0 1502.4 1263.0 1502.4 1265.9 1502.2 1268.8 1501.6 1271.6 1500.7 1274.3 1499.4 1276.9 1497.9 1279.3 1496.0 1281.7 1493.9 1284.0 1491.7 1286.1 1489.2 1288.2 1486.7 1290.1 1484.0 1291.9 1481.3 1293.6 1478.6 1295.1 1475.9 1296.5 1473.2 1297.8 1470.7 1299.0 1468.1 1300.1 1465.7 1301.2 1463.3 1302.2 1460.9 1303.3 1458.5 1304.4 1456.2 1305.7 1453.8 1307.0 1451.4 1308.5 1448.9 1310.2 1446.4 1312.0 1443.8 1314.1 1441.1 1316.5 1438.4 1319.0 1435.9 1321.6 1433.9 1324.3 1432.5 1327.0 1432.0 1329.6 1432.2 1332.2 1433.3 1334.5 1435.2 1336.8 1437.6 1338.9 1440.3 1340.9 1443.1 1342.8 1445.7 1344.5 1448.2 1346.2 1450.7 1347.7 1453.1 1349.2 1455.6 1350.6 1458.0 1351.9 1460.4 1353.1 1462.9 1354.2 1465.5 1355.3 1468.2 1356.4 1470.9 1357.5 1473.6 1358.5 1476.4 1359.5 1479.2 1360.6 1482.0 1361.7 1484.8 1362.8 1487.7 1364.0 1490.4 1365.3 1493.2 1366.7 1495.9 1368.1 1498.6 1369.7 1501.2 1371.4 1503.7 1373.2 1506.1 1375.2 1508.5 1377.3 1510.7 1379.6 1512.9 1382.0 1514.9 1384.5 1516.8 1387.1 1518.5 1389.8 1520.1 1392.6 1521.5 1395.4 1522.7 1398.3 1523.7 1401.2 1524.6 1404.2 1525.2 1407.1 1525.6 1410.1 1525.8 1413.0 1525.8 1416.0 1525.7 1419.0 1525.4 1421.9 1525.0 1424.9 1524.5 1427.9 1524.0 1430.8 1523.5 1433.8 1522.9 1436.8 1522.4 1439.7 1521.9 1442.7 1521.5 1445.7 1521.3 1448.6 1521.1 1451.6 1521.0 1454.6 1521.1 1457.6 1521.2 1460.5 1521.3 1463.5 1521.6 1466.5 1521.9 1469.5 1522.3 1472.5 1522.7 1475.4 1523.2 1478.4 1523.7 1481.4 1524.2 1484.4 1524.8 1487.3 1525.4 1490.3 1526.0 1493.3 1526.6 1496.3 1527.2 1499.2 1527.8 1502.2 1528.4 1505.2 1529.0 1508.2 1529.6 1511.1 1530.2 1514.1 1530.8 1517.1 1531.4 1520.0 1532.0 1523.0 1532.5 1526.0 1533.0 1528.9 1533.5 1531.9 1534.0 1534.8 1534.4 1537.8 1534.8 1540.8 1535.2 1543.7 1535.5 1546.7 1535.8 1549.6 1536.0 1552.5 1536.2 1555.5 1536.4 1558.4 1536.5 1561.4 1536.5 1564.3 1536.5 1567.2 1536.4 1570.2 1536.3 1573.1 1536.0 1576.0 1535.8 1578.9 1535.4 1581.8 1535.0 1584.8 1534.5 1587.7 1533.9 1590.6 1533.2 1593.4 1532.5 1596.3 1531.7 1599.2 1530.8 1602.0 1529.8 1604.9 1528.8 1607.7 1527.7 1610.5 1526.6 1613.2 1525.4 1616.0 1524.1 1618.7 1522.8 1621.4 1521.4 1624.0 1519.9 1626.6 1518.4 1629.2 1516.8 1631.7 1515.2 1634.3 1513.5 1636.7 1511.8 1639.1 1510.0 1641.5 1508.2 1643.8 1506.3 1646.1 1504.4 1648.4 1502.5 1650.5 1500.4 1652.7 1498.4 1654.7 1496.3 1656.8 1494.2 1658.8 1492.0 1660.8 1489.8 1662.7 1487.6 1664.7 1485.3 1666.6 1483.1 1668.6 1480.8 1670.6 1478.4 1672.6 1476.1 1674.6 1473.7 1676.7 1471.4 1678.8 1469.1 1681.0 1466.8 1683.2 1464.6 1685.5 1462.5 1687.9 1460.5 1690.3 1458.7 1692.9 1457.1 1695.5 1455.7 1698.3 1454.6 1701.2 1453.7 1704.1 1453.0 1707.1 1452.6 1710.2 1452.4 1713.2 1452.4 1716.2 1452.7 1719.2 1453.1 1722.2 1453.6 1725.0 1454.4 1727.8 1455.3 1730.4 1456.3 1733.1 1457.4 1735.7 1458.7 1738.2 1460.1 1740.7 1461.5 1743.2 1463.0 1745.6 1464.6 1748.1 1466.3 1750.6 1468.0 1753.0 1469.7 1755.5 1471.4 1758.0 1473.2 1760.4 1475.0 1762.9 1476.8 1765.4 1478.6 1767.9 1480.4 1770.5 1482.1 1773.0 1483.9 1775.5 1485.6 1778.1 1487.2 1780.7 1488.9 1783.3 1490.4 1786.0 1491.9 1788.6 1493.4 1791.3 1494.7 1794.1 1496.0 1796.8 1497.1 1799.6 1498.2 1802.5 1499.2 1805.3 1500.0 1808.2 1500.7 1811.1 1501.4 1814.1 1501.9 1817.0 1502.3 1820.0 1502.6 1823.0 1502.8 1826.0 1502.8 1829.0 1502.8 1832.1 1502.7 1835.1 1502.5 1838.1 1502.2 1841.1 1501.8 1844.1 1501.2 1847.0 1500.6 1850.0 1499.9 1852.9 1499.2 1855.8 1498.3 1858.7 1497.3 1861.5 1496.3 1864.3 1495.1 1867.0 1493.9 1869.7 1492.6 1872.4 1491.2 1875.0 1489.8 1877.6 1488.2 1880.1 1486.6 1882.6 1484.9 1885.0 1483.2 1887.3 1481.4 1889.6 1479.5 1891.9 1477.5 1894.1 1475.5 1896.2 1473.5 1898.3 1471.3 1900.3 1469.2 1902.2 1466.9 1904.1 1464.6 1905.9 1462.3 1907.6 1459.9 1909.3 1457.5 1910.9 1455.0 1912.4 1452.5 1913.8 1450.0 1915.2 1447.4 1916.6 1444.8 1917.9 1442.1 1919.1 1439.4 1920.3 1436.7 1921.5 1433.9 1922.6 1431.2 1923.6 1428.4 1924.6 1425.6 1925.6 1422.7 1926.6 1419.9 1927.5 1417.0 1928.4 1414.1 1929.3 1411.2 1930.1 1408.3 1931.0 1405.4 1931.8 1402.5 1932.6 1399.6 1933.4 1396.7 1934.2 1393.7 1934.9 1390.8 1935.7 1387.9 1936.5 1385.0 1937.2 1382.0 1937.9 1379.1 1938.7 1376.2 1939.4 1373.3 1940.1 1370.3 1940.8 1367.4 1941.5 1364.5 1942.2 1361.5 1942.9 1358.6 1943.5 1355.7 1944.2 1352.7 1944.8 1349.8 1945.5 1346.9 1946.1 1343.9 1946.8 1341.0 1947.4 1338.1 1948.0 1335.1 1948.6 1332.2 1949.2 1329.2 1949.8 1326.3 1950.4 1323.4 1951.0 1320.4 1951.6 1317.5 1952.1 1314.5 1952.7 1311.6 1953.3 1308.6 1953.8 1305.7 1954.4 1302.8 1954.9 1299.8 1955.4 1296.9 1956.0 1293.9 1956.5 1291.0 1957.0 1288.0 1957.5 1285.1 1958.0 1282.1 1958.5 1279.2 1959.0 1276.2 1959.5 1273.3 1960.0 1270.3 1960.5 1267.3 1961.0 1264.4 1961.5 1261.4 1962.0 1258.5 1962.4 1255.5 1962.9 1252.6 1963.4 1249.6 1963.8 1246.7 1964.3 1243.7 1964.7 1240.7 1965.2 1237.8 1965.6 1234.8 1966.1 1231.9 1966.5 1228.9 1967.0 1225.9 1967.4 1223.0 1967.8 1220.0 1968.3 1217.0 1968.7 1214.1 1969.1 1211.1 1969.6 1208.1 1970.0 1205.2 1970.4 1202.2 1970.8 1199.2 1971.2 1196.3 1971.7 1193.3 1972.1 1190.3 1972.5 1187.4 1972.9 1184.4 1973.3 1181.4 1973.7 1178.5 1974.2 1175.5 1974.6 1172.5 1975.0 1169.6 1975.4 1166.6 1975.8 1163.6 1976.2 1160.6 1976.6 1157.7 1977.1 1154.7 1977.5 1151.7 1977.9 1148.7 1978.3 1145.8 1978.7 1142.8 1979.1 1139.8 1979.6 1136.8 1980.0 1133.9 1980.4 1130.9 1980.8 1127.9 1981.2 1124.9 1981.7 1121.9 1982.1 1119.0 1982.5 1116.0 1983.0 1113.0 1983.4 1110.0 1983.8 1107.1 1984.3 1104.1 1984.7 1101.1 1985.2 1098.1 1985.6 1095.1 1986.1 1092.2 1986.5 1089.2 1987.0 1086.2 1987.4 1083.2 1987.9 1080.2 1988.4 1077.2 1988.8 1074.3 1989.3 1071.3 1989.8 1068.3 1990.2 1065.3 1990.7 1062.3 1991.2 1059.4 1991.7 1056.4 1992.1 1053.4 1992.6 1050.5 1993.1 1047.5 1993.6 1044.5 1994.1 1041.6 1994.5 1038.6 1995.0 1035.7 1995.5 1032.7 1996.0 1029.8 1996.4 1026.8 1996.9 1023.9 1997.4 1021.0 1997.8 1018.1 1998.3 1015.1 1998.8 1012.2 1999.2 1009.3 1999.7 1006.4 2000.1 1003.5 2000.6 1000.6 2001.0 997.8 2001.5 994.9 2001.9 992.0 2002.4 989.1 2002.8 986.3 2003.4 983.4 2003.9 980.5 2004.5 977.6 2005.2 974.6 2006.0 971.6 2006.8 968.6 2007.7 965.5 2008.8 962.4 2010.0 959.3 2011.3 956.3 2012.9 953.6 2014.7 951.3 2016.8 949.7 2018.9 949.5 2021.1 950.9 2022.9 953.3 2024.6 956.4 2026.1 959.8 2027.4 963.2 2028.5 966.3 2029.5 969.2 2030.4 971.8 2031.2 974.3 2031.9 976.8 2032.6 979.3 2033.2 981.9 2033.8 984.6 2034.4 987.4 2034.9 990.2 2035.5 993.1 2036.0 996.0 2036.4 999.0 2036.9 1002.0 2037.3 1005.1 2037.7 1008.1 2038.2 1011.2 2038.6 1014.3 2039.0 1017.4 2039.4 1020.5 2039.8 1023.5 2040.2 1026.6 2040.6 1029.6 2041.0 1032.6 2041.4 1035.6 2041.8 1038.6 2042.3 1041.5 2042.7 1044.5 2043.1 1047.4 2043.6 1050.4 2044.0 1053.3 2044.4 1056.2 2044.9 1059.1 2045.3 1062.0 2045.7 1065.0 2046.2 1067.9 2046.6 1070.8 2047.1 1073.7 2047.5 1076.7 2048.0 1079.6 2048.4 1082.6 2048.8 1085.6 2049.3 1088.5 2049.7 1091.5 2050.2 1094.5 2050.6 1097.5 2051.0 1100.5 2051.5 1103.5 2051.9 1106.5 2052.4 1109.5 2052.8 1112.4 2053.2 1115.4 2053.6 1118.4 2054.1 1121.4 2054.5 1124.4 2054.9 1127.4 2055.3 1130.4 2055.7 1133.4 2056.1 1136.3 2056.5 1139.3 2056.9 1142.3 2057.3 1145.3 2057.7 1148.2 2058.1 1151.2 2058.5 1154.2 2058.9 1157.2 2059.3 1160.1 2059.7 1163.1 2060.1 1166.1 2060.5 1169.0 2060.9 1172.0 2061.2 1175.0 2061.6 1177.9 2062.0 1180.9 2062.4 1183.9 2062.7 1186.8 2063.1 1189.8 2063.5 1192.8 2063.8 1195.7 2064.2 1198.7 2064.6 1201.7 2064.9 1204.7 2065.3 1207.6 2065.6 1210.6 2066.0 1213.6 2066.3 1216.6 2066.7 1219.5 2067.0 1222.5 2067.4 1225.5 2067.7 1228.5 2068.1 1231.4 2068.4 1234.4 2068.8 1237.4 2069.1 1240.4 2069.5 1243.4 2069.8 1246.4 2070.2 1249.4 2070.5 1252.3 2070.9 1255.3 2071.2 1258.3 2071.5 1261.3 2071.9 1264.3 2072.2 1267.3 2072.6 1270.3 2072.9 1273.3 2073.2 1276.3 2073.6 1279.2 2073.9 1282.2 2074.2 1285.2 2074.6 1288.2 2074.9 1291.2 2075.3 1294.2 2075.6 1297.2 2075.9 1300.2 2076.3 1303.1 2076.6 1306.1 2076.9 1309.1 2077.3 1312.1 2077.6 1315.1 2078.0 1318.0 2078.3 1321.0 2078.7 1324.0 2079.0 1327.0 2079.4 1330.0 2079.7 1332.9 2080.1 1335.9 2080.4 1338.9 2080.8 1341.9 2081.2 1344.8 2081.5 1347.8 2081.9 1350.8 2082.3 1353.7 2082.7 1356.7 2083.1 1359.7 2083.5 1362.6 2083.9 1365.6 2084.4 1368.6 2084.8 1371.5 2085.2 1374.5 2085.7 1377.5 2086.1 1380.4 2086.6 1383.4 2087.1 1386.3 2087.6 1389.3 2088.1 1392.2 2088.6 1395.2 2089.1 1398.2 2089.6 1401.1 2090.2 1404.1 2090.8 1407.0 2091.3 1410.0 2091.9 1412.9 2092.5 1415.9 2093.1 1418.8 2093.8 1421.7 2094.4 1424.7 2095.1 1427.6 2095.8 1430.6 2096.4 1433.5 2097.2 1436.4 2097.9 1439.3 2098.6 1442.3 2099.4 1445.2 2100.2 1448.1 2101.0 1451.0 2101.8 1453.8 2102.6 1456.7 2103.5 1459.6 2104.4 1462.5 2105.3 1465.3 2106.2 1468.2 2107.1 1471.0 2108.1 1473.8 2109.1 1476.6 2110.1 1479.5 2111.1 1482.3 2112.1 1485.1 2113.2 1487.9 2114.3 1490.7 2115.4 1493.5 2116.6 1496.3 2117.8 1499.1 2119.0 1501.8 2120.2 1504.6 2121.4 1507.4 2122.8 1510.1 2124.1 1512.8 2125.6 1515.5 2127.1 1518.1 2128.7 1520.6 2130.4 1523.0 2132.2 1525.4 2134.1 1527.6 2136.1 1529.7 2138.3 1531.7 2140.6 1533.5 2143.1 1535.3 2145.6 1536.9 2148.2 1538.4 2150.9 1539.8 2153.6 1541.1 2156.4 1542.3 2159.2 1543.4 2162.0 1544.4 2164.9 1545.4 2167.8 1546.3 2170.7 1547.1 2173.6 1547.8 2176.5 1548.4 2179.4 1549.0 2182.4 1549.6 2185.3 1550.0 2188.3 1550.4 2191.3 1550.8 2194.2 1551.1 2197.2 1551.4 2200.2 1551.6 2203.2 1551.8 2206.2 1552.0 2209.2 1552.1 2212.2 1552.2 2215.2 1552.3 2218.2 1552.4 2221.2 1552.4 2224.2 1552.5 2227.2 1552.5 2230.2 1552.5 2233.3 1552.5 2236.3 1552.5 2239.3 1552.6 2242.3 1552.6 2245.3 1552.6 2248.3 1552.7 2251.3 1552.7 2254.3 1552.8 2257.3 1552.9 2260.3 1553.0 2263.3 1553.1 2266.3 1553.2 2269.3 1553.3 2272.3 1553.5 2275.3 1553.6 2278.3 1553.7 2281.3 1553.8 2284.3 1553.9 2287.3 1554.0 2290.3 1554.1 2293.3 1554.2 2296.3 1554.3 2299.3 1554.4 2302.3 1554.4 2305.3 1554.5 2308.3 1554.5 2311.3 1554.5 2314.3 1554.5 2317.3 1554.5 2320.3 1554.4 2323.2 1554.3 2326.2 1554.2 2329.2 1554.1 2332.2 1554.0 2335.2 1553.8 2338.2 1553.6 2341.2 1553.4 2344.2 1553.1 2347.2 1552.9 2350.1 1552.5 2353.1 1552.2 2356.1 1551.9 2359.1 1551.5 2362.1 1551.1 2365.1 1550.8 2368.1 1550.4 2371.1 1550.1 2374.1 1549.8 2377.1 1549.6 2380.0 1549.4 2383.0 1549.2 2386.0 1549.0 2389.0 1549.0 2392.0 1549.0 2395.0 1549.0 2398.0 1549.1 2401.0 1549.3 2404.0 1549.4 2407.0 1549.6 2410.0 1549.8 2413.0 1550.0 2416.0 1550.3 2419.0 1550.5 2422.0 1550.7 2425.0 1550.9 2428.0 1551.0 2431.0 1551.2 2434.0 1551.3 2437.0 1551.3 2440.0 1551.3 2443.0 1551.2 2446.0 1551.1 2449.0 1550.9"/>
<path stroke="#ff0000" d="M290.8 885.2 292.5 882.6 294.2 880.0 295.9 877.4 297.5 874.8 299.1 872.2 300.7 869.6 302.2 867.0 303.7 864.3 305.2 861.7 306.7 859.1 308.2 856.5 309.6 853.8 311.0 851.2 312.4 848.5 313.8 845.9 315.1 843.2 316.5 840.6 317.8 837.9 319.1 835.3 320.4 832.6 321.7 830.0 323.0 827.3 324.3 824.6 325.5 821.9 326.8 819.3 328.0 816.6 329.3 813.9 330.5 811.2 331.8 808.5 333.0 805.9 334.2 803.2 335.5 800.5 336.7 797.8 337.9 795.1 339.2 792.4 340.4 789.7 341.6 787.0 342.9 784.3 344.1 781.6 345.4 778.9 346.7 776.2 347.9 773.5 349.2 770.8 350.5 768.1 351.8 765.3 353.1 762.6 354.4 759.9 355.7 757.2 357.0 754.5 358.3 751.8 359.6 749.1 360.9 746.4 362.3 743.7 363.6 740.9 364.9 738.2 366.3 735.5 367.6 732.8 368.9 730.1 370.3 727.4 371.6 724.7 373.0 722.0 374.4 719.2 375.7 716.5 377.1 713.8 378.4 711.1 379.8 708.4 381.2 705.7 382.6 703.0 383.9 700.3 385.3 697.6 386.7 694.9 388.1 692.2 389.5 689.5 390.8 686.8 392.2 684.1 393.6 681.4 395.0 678.7 396.4 676.0 397.8 673.3 399.1 670.6 400.5 668.0 401.9 665.3 403.3 662.6 404.7 659.9 406.1 657.3 407.5 654.6 408.9 651.9 410.2 649.3 411.6 646.6 413.0 643.9 414.4 641.3 415.8 638.6 417.1 636.0 418.5 633.3 419.9 630.7 421.3 628.0 422.6 625.4 424.0 622.7 425.4 620.1 426.8 617.4 428.1 614.8 429.5 612.1 430.9 609.5 432.2 606.9 433.6 604.2 434.9 601.6 436.3 598.9 437.6 596.3 439.0 593.7 440.3 591.0 441.7 588.4 443.0 585.7 444.4 583.1 445.7 580.4 447.0 577.8 448.3 575.1 449.7 572.5 451.0 569.8 452.3 567.2 453.6 564.5 454.9 561.9 456.2 559.2 457.6 556.5 458.9 553.9 460.1 551.2 461.4 548.5 462.7 545.8 464.0 543.1 465.3 540.5 466.6 537.8 467.8 535.1 469.1 532.4 470.4 529.7 471.6 527.0 472.9 524.2 474.1 521.5 475.4 518.8 476.6 516.1 477.8 513.4 479.1 510.6 480.3 507.9 481.5 505.1 482.7 502.4 483.9 499.6 485.1 496.8 486.3 494.1 487.5 491.3 488.7 488.5 489.9 485.7 491.1 482.9 492.2 480.1 493.4 477.3 494.5 474.5 495.7 471.7 496.8 468.9 498.0 466.1 499.1 463.3 500.2 460.5 501.3 457.6 502.4 454.8 503.5 452.0 504.6 449.1 505.7 446.3 506.8 443.5 507.9 440.6 508.9 437.8 510.0 434.9 511.0 432.1 512.1 429.2 513.1 426.4 514.1 423.5 515.2 420.7 516.2 417.8 517.2 414.9 518.2 412.1 519.2 409.2 520.1 406.3 521.1 403.5 522.1 400.6 523.0 397.7 524.0 394.8 524.9 392.0 525.8 389.1 526.7 386.2 527.7 383.4 528.6 380.5 529.5 377.6 530.3 374.7 531.2 371.9 532.1 369.0 532.9 366.1 533.8 363.2 534.6 360.4 535.4 357.5 536.2 354.6 537.1 351.8 537.8 348.9 538.6 346.0 539.4 343.2 540.2 340.3 540.9 337.5 541.7 334.6 542.4 331.7 543.1 328.9 543.9 326.0 544.6 323.2 545.3 320.3 546.0 317.4 546.7 314.6 547.4 311.7 548.1 308.9 548.8 306.0 549.5 303.1 550.2 300.3 550.9 297.4 551.6 294.5 552.3 291.7 553.0 288.8 553.7 285.9 554.4 283.0 555.1 280.2 555.9 277.3 556.6 274.4 557.3 271.5 558.1 268.6 558.8 265.7 559.6 262.8 560.4 259.8 561.1 256.9 561.9 254.0 562.7 251.0 563.6 248.1 564.4 245.2 565.3 242.2 566.1 239.2 567.0 236.3 567.9 233.3 568.8 230.3 569.8 227.4 570.7 224.4 571.7 221.5 572.7 218.5 573.7 215.6 574.8 212.7 575.8 209.8 576.9 207.0 578.1 204.1 579.2 201.3 580.4 198.5 581.6 195.7 582.8 193.0 584.0 190.3 585.3 187.6 586.7 185.0 588.1 182.6 589.7 180.4 591.5 178.6 593.7 177.3 596.2 176.7 599.0 176.7 601.8 177.5 604.5 179.2 606.9 181.5 609.2 183.9 611.3 186.4 613.4 188.7 615.5 191.1 617.6 193.2 619.8 195.3 622.1 197.3 624.5 199.2 626.8 201.0 629.2 202.9 631.5 204.8 633.7 206.7 635.8 208.6 637.8 210.7 639.7 212.9 641.4 215.2 643.0 217.5 644.5 220.0 645.8 222.6 647.1 225.2 648.3 227.9 649.3 230.7 650.4 233.5 651.3 236.3 652.2 239.2 653.0 242.2 653.8 245.1 654.6 248.1 655.3 251.0 656.0 254.0 656.7 257.0 657.4 260.0 658.1 262.9 658.7 265.9 659.4 268.9 660.0 271.8 660.6 274.8 661.2 277.8 661.8 280.7 662.4 283.7 662.9 286.7 663.5 289.7 664.0 292.6 664.5 295.6 665.1 298.6 665.6 301.5 666.1 304.5 666.6 307.5 667.1 310.4 667.5 313.4 668.0 316.4 668.5 319.3 668.9 322.3 669.4 325.3 669.8 328.2 670.3 331.2 670.7 334.2 671.2 337.1 671.6 340.1 672.0 343.1 672.4 346.0 672.8 349.0 673.2 352.0 673.7 354.9 674.1 357.9 674.4 360.9 674.8 363.8 675.2 366.8 675.6 369.8 676.0 372.7 676.4 375.7 676.7 378.7 677.1 381.7 677.5 384.6 677.8 387.6 678.2 390.6 678.6 393.5 678.9 396.5 679.3 399.5 679.6 402.4 680.0 405.4 680.3 408.4 680.7 411.4 681.0 414.3 681.3 417.3 681.7 420.3 682.0 423.3 682.4 426.2 682.7 429.2 683.0 432.2 683.4 435.2 683.7 438.1 684.0 441.1 684.3 444.1 684.7 447.1 685.0 450.0 685.3 453.0 685.6 456.0 685.9 459.0 686.3 462.0 686.6 464.9 686.9 467.9 687.2 470.9 687.5 473.9 687.8 476.9 688.2 479.8 688.5 482.8 688.8 485.8 689.1 488.8 689.4 491.8 689.7 494.8 690.0 497.7 690.3 500.7 690.6 503.7 690.9 506.7 691.2 509.7 691.5 512.7 691.9 515.7 692.2 518.6 692.5 521.6 692.8 524.6 693.1 527.6 693.4 530.6 693.7 533.6 694.0 536.6 694.3 539.5 694.6 542.5 694.9 545.5 695.2 548.5 695.5 551.5 695.8 554.5 696.1 557.5 696.4 560.5 696.7 563.4 697.0 566.4 697.3 569.4 697.6 572.4 697.9 575.4 698.2 578.4 698.5 581.4 698.8 584.4 699.1 587.4 699.4 590.3 699.7 593.3 700.0 596.3 700.3 599.3 700.6 602.3 700.9 605.3 701.2 608.3 701.5 611.3 701.8 614.3 702.1 617.3 702.4 620.2 702.7 623.2 703.0 626.2 703.3 629.2 703.6 632.2 703.9 635.2 704.2 638.2 704.5 641.2 704.8 644.2 705.1 647.1 705.5 650.1 705.8 653.1 706.1 656.1 706.4 659.1 706.7 662.1 707.0 665.1 707.3 668.1 707.7 671.1 708.0 674.0 708.3 677.0 708.6 680.0 709.0 683.0 709.3 686.0 709.6 689.0 709.9 692.0 710.3 695.0 710.6 697.9 710.9 700.9 711.3 703.9 711.6 706.9 711.9 709.9 712.3 712.9 712.6 715.9 712.9 718.8 713.3 721.8 713.6 724.8 714.0 727.8 714.3 730.8 714.7 733.8 715.0 736.7 715.4 739.7 715.7 742.7 716.1 745.7 716.4 748.7 716.8 751.6 717.2 754.6 717.5 757.6 717.9 760.6 718.3 763.6 718.6 766.5 719.0 769.5 719.4 772.5 719.8 775.5 720.2 778.5 720.5 781.4 720.9 784.4 721.3 787.4 721.7 790.4 722.1 793.3 722.5 796.3 722.9 799.3 723.3 802.3 723.7 805.2 724.1 808.2 724.5 811.2 724.9 814.2 725.3 817.1 725.7 820.1 726.2 823.1 726.6 826.0 727.0 829.0 727.4 832.0 727.9 834.9 728.3 837.9 728.7 840.9 729.2 843.8 729.6 846.8 730.0 849.8 730.5 852.7 730.9 855.7 731.4 858.7 731.9 861.6 732.3 864.6 732.8 867.6 733.2 870.5 733.7 873.5 734.2 876.4 734.7 879.4 735.1 882.3 735.6 885.3 736.1 888.3 736.6 891.2 737.1 894.2 737.6 897.1 738.1 900.1 738.6 903.0 739.1 906.0 739.6 908.9 740.1 911.9 740.7 914.8 741.2 917.8 741.7 920.7 742.2 923.7 742.8 926.6 743.3 929.6 743.9 932.5 744.4 935.5 745.0 938.4 745.5 941.3 746.1 944.3 746.6 947.2 747.2 950.2 747.8 953.1 748.3 956.0 748.9 959.0 749.5 961.9 750.1 964.9 750.7 967.8 751.3 970.7 751.9 973.7 752.5 976.6 753.1 979.5 753.7 982.4 754.3 985.4 755.0 988.3 755.6 991.2 756.2 994.2 756.9 997.1 757.5 1000.0 758.2 1002.9 758.8 1005.8 759.5 1008.8 760.1 1011.7 760.8 1014.6 761.5 1017.5 762.1 1020.4 762.8 1023.4 763.5 1026.3 764.2 1029.2 764.9 1032.1 765.6 1035.0 766.3 1037.9 767.0 1040.8 767.7 1043.7 768.5 1046.6 769.2 1049.5 769.9 1052.4 770.6 1055.3 771.4 1058.3 772.1 1061.2 772.9 1064.1 773.7 1066.9 774.4 1069.8 775.2 1072.7 776.0 1075.6 776.7 1078.5 777.5 1081.4 778.3 1084.3 779.1 1087.2 779.9 1090.1 780.7 1093.0 781.6 1095.9 782.4 1098.7 783.2 1101.6 784.0 1104.5 784.9 1107.4 785.7 1110.3 786.6 1113.2 787.4 1116.0 788.3 1118.9 789.2 1121.8 790.0 1124.7 790.9 1127.5 791.8 1130.4 792.7 1133.3 793.6 1136.1 794.5 1139.0 795.4 1141.9 796.3 1144.7 797.3 1147.6 798.2 1150.5 799.1 1153.3 800.1 1156.2 801.0 1159.0 802.0 1161.9 802.9 1164.7 803.9 1167.6 804.9 1170.4 805.9 1173.3 806.9 1176.1 807.9 1179.0 808.9 1181.8 809.9 1184.7 810.9 1187.5 811.9 1190.3 812.9 1193.2 814.0 1196.0 815.0 1198.8 816.1 1201.7 817.2 1204.5 818.2 1207.3 819.3 1210.1 820.4 1213.0 821.5 1215.8 822.6 1218.6 823.8 1221.4 824.9 1224.2 826.1 1226.9 827.2 1229.7 828.4 1232.5 829.6 1235.3 830.8 1238.0 832.0 1240.8 833.2 1243.5 834.4 1246.3 835.7 1249.0 837.0 1251.7 838.2 1254.4 839.5 1257.2 840.8 1259.8 842.2 1262.5 843.5 1265.2 844.9 1267.9 846.2 1270.6 847.6 1273.2 849.0 1275.8 850.4 1278.5 851.9 1281.1 853.3 1283.7 854.8 1286.3 856.3 1288.9 857.8 1291.4 859.3 1294.0 860.9 1296.6 862.5 1299.1 864.1 1301.6 865.7 1304.1 867.3 1306.6 868.9 1309.1 870.6 1311.6 872.3 1314.0 874.0 1316.4 875.8 1318.9 877.5 1321.3 879.3 1323.7 881.1 1326.0 882.9 1328.4 884.8 1330.7 886.6 1333.1 888.5 1335.4 890.4 1337.7 892.4 1339.9 894.3 1342.2 896.3 1344.4 898.3 1346.6 900.3 1348.8 902.4 1351.0 904.4 1353.2 906.5 1355.3 908.6 1357.4 910.8 1359.6 912.9 1361.6 915.1 1363.7 917.3 1365.7 919.5 1367.8 921.7 1369.8 924.0 1371.7 926.3 1373.7 928.6 1375.6 930.9 1377.5 933.2 1379.4 935.6 1381.3 938.0 1383.1 940.4 1385.0 942.8 1386.8 945.2 1388.5 947.7 1390.3 950.2 1392.0 952.7 1393.7 955.2 1395.4 957.7 1397.0 960.3 1398.7 962.9 1400.3 965.5 1401.8 968.1 1403.4 970.7 1404.9 973.4 1406.4 976.1 1407.8 978.8 1409.3 981.5 1410.6 984.2 1412.0 987.0 1413.2 989.7 1414.5 992.5 1415.6 995.3 1416.7 998.1 1417.8 1000.9 1418.7 1003.7 1419.6 1006.5 1420.4 1009.4 1421.1 1012.2 1421.8 1015.1 1422.3 1018.0 1422.8 1020.8 1423.1 1023.7 1423.4 1026.6 1423.7 1029.5 1423.9 1032.4 1424.2 1035.3 1424.5 1038.2 1424.8 1041.1 1425.3 1044.0 1425.9 1046.9 1426.7 1049.8 1427.6 1052.7 1428.6 1055.6 1429.7 1058.5 1430.9 1061.4 1432.1 1064.3 1433.4 1067.1 1434.7 1070.0 1436.1 1072.9 1437.4 1075.7 1438.6 1078.6 1439.9 1081.4 1441.1 1084.3 1442.3 1087.1 1443.5 1090.0 1444.7 1092.8 1445.9 1095.7 1447.0 1098.5 1448.1 1101.3 1449.2 1104.1 1450.2 1107.0 1451.2 1109.8 1452.2 1112.6 1453.2 1115.5 1454.2 1118.3 1455.1 1121.1 1456.0 1124.0 1456.9 1126.8 1457.7 1129.7 1458.6 1132.5 1459.4 1135.4 1460.1 1138.2 1460.9 1141.1 1461.6 1144.0 1462.3 1146.9 1463.0 1149.8 1463.6 1152.7 1464.2 1155.6 1464.8 1158.5 1465.3 1161.4 1465.8 1164.3 1466.3 1167.3 1466.8 1170.2 1467.2 1173.1 1467.6 1176.1 1468.0 1179.1 1468.3 1182.0 1468.6 1185.0 1468.9 1188.0 1469.1 1190.9 1469.4 1193.9 1469.5 1196.9 1469.7 1199.9 1469.8 1202.9 1469.9 1205.9 1469.9 1208.8 1469.9 1211.8 1469.9 1214.8 1469.9 1217.8 1469.8 1220.8 1469.6 1223.8 1469.5 1226.8 1469.3 1229.8 1469.1 1232.8 1468.8 1235.8 1468.5 1238.8 1468.1 1241.8 1467.8 1244.8 1467.4 1247.8 1466.9 1250.8 1466.4 1253.8 1465.9 1256.8 1465.4 1259.7 1464.9 1262.7 1464.3 1265.7 1463.7 1268.7 1463.1 1271.7 1462.5 1274.6 1461.9 1277.6 1461.3 1280.6 1460.8 1283.5 1460.2 1286.5 1459.6 1289.5 1459.1 1292.4 1458.5 1295.4 1458.0 1298.4 1457.6 1301.3 1457.1 1304.3 1456.7 1307.3 1456.3 1310.2 1456.0 1313.2 1455.7 1316.2 1455.5 1319.1 1455.3 1322.1 1455.2 1325.0 1455.1 1328.0 1455.0 1331.0 1455.1 1333.9 1455.1 1336.9 1455.1 1339.8 1455.2 1342.8 1455.3 1345.7 1455.5 1348.7 1455.6 1351.7 1455.7 1354.6 1455.8 1357.6 1455.9 1360.5 1456.0 1363.5 1456.1 1366.4 1456.2 1369.4 1456.2 1372.4 1456.2 1375.3 1456.2 1378.3 1456.1 1381.2 1456.0 1384.2 1455.8 1387.2 1455.5 1390.1 1455.2 1393.1 1454.8 1396.1 1454.4 1399.0 1453.9 1402.0 1453.3 1405.0 1452.6 1407.9 1451.8 1410.8 1451.0 1413.8 1450.1 1416.7 1449.1 1419.6 1448.1 1422.5 1447.0 1425.3 1445.8 1428.2 1444.6 1431.0 1443.3 1433.8 1441.9 1436.5 1440.5 1439.3 1439.0 1441.9 1437.5 1444.6 1435.9 1447.2 1434.3 1449.7 1432.6 1452.3 1430.9 1454.7 1429.2 1457.1 1427.4 1459.5 1425.5 1461.8 1423.6 1464.1 1421.7 1466.3 1419.7 1468.5 1417.7 1470.6 1415.7 1472.7 1413.6 1474.8 1411.5 1476.9 1409.4 1478.9 1407.2 1480.8 1405.0 1482.8 1402.8 1484.7 1400.6 1486.6 1398.3 1488.5 1396.1 1490.4 1393.8 1492.3 1391.5 1494.1 1389.2 1495.9 1386.8 1497.8 1384.5 1499.6 1382.1 1501.4 1379.8 1503.3 1377.4 1505.1 1375.1 1506.9 1372.7 1508.8 1370.3 1510.6 1367.9 1512.5 1365.6 1514.3 1363.2 1516.2 1360.9 1518.1 1358.5 1520.0 1356.2 1521.9 1353.8 1523.8 1351.5 1525.8 1349.2 1527.7 1346.9 1529.7 1344.7 1531.7 1342.4 1533.7 1340.2 1535.7 1337.9 1537.8 1335.8 1539.9 1333.6 1542.0 1331.4 1544.1 1329.3 1546.2 1327.2 1548.4 1325.2 1550.6 1323.1 1552.8 1321.2 1555.1 1319.2 1557.4 1317.3 1559.7 1315.4 1562.1 1313.5 1564.4 1311.7 1566.8 1310.0 1569.3 1308.2 1571.8 1306.6 1574.3 1304.9 1576.8 1303.3 1579.3 1301.8 1581.9 1300.3 1584.5 1298.9 1587.2 1297.5 1589.9 1296.1 1592.6 1294.9 1595.3 1293.6 1598.1 1292.5 1600.9 1291.4 1603.7 1290.3 1606.5 1289.3 1609.4 1288.4 1612.3 1287.5 1615.3 1286.7 1618.2 1286.0 1621.2 1285.3 1624.2 1284.6 1627.2 1284.0 1630.3 1283.5 1633.3 1282.9 1636.3 1282.3 1639.4 1281.8 1642.4 1281.2 1645.4 1280.6 1648.4 1280.0 1651.3 1279.3 1654.2 1278.6 1657.1 1277.8 1659.9 1276.9 1662.7 1275.9 1665.4 1274.9 1668.1 1273.7 1670.7 1272.4 1673.2 1271.0 1675.7 1269.5 1678.1 1267.8 1680.4 1266.1 1682.7 1264.2 1684.9 1262.3 1687.1 1260.3 1689.2 1258.1 1691.2 1256.0 1693.2 1253.7 1695.2 1251.4 1697.1 1249.1 1699.0 1246.6 1700.8 1244.2 1702.7 1241.7 1704.4 1239.3 1706.2 1236.7 1707.9 1234.2 1709.6 1231.7 1711.3 1229.2 1712.9 1226.6 1714.5 1224.0 1716.1 1221.5 1717.6 1218.9 1719.2 1216.3 1720.7 1213.7 1722.2 1211.1 1723.6 1208.5 1725.1 1205.8 1726.5 1203.2 1727.9 1200.5 1729.2 1197.9 1730.6 1195.2 1731.9 1192.5 1733.2 1189.9 1734.4 1187.2 1735.7 1184.5 1736.9 1181.7 1738.1 1179.0 1739.3 1176.3 1740.5 1173.6 1741.6 1170.8 1742.7 1168.1 1743.8 1165.3 1744.9 1162.6 1746.0 1159.8 1747.0 1157.0 1748.0 1154.2 1749.0 1151.4 1750.0 1148.6 1751.0 1145.8 1751.9 1143.0 1752.9 1140.2 1753.8 1137.4 1754.7 1134.5 1755.6 1131.7 1756.4 1128.8 1757.3 1126.0 1758.1 1123.1 1759.0 1120.3 1759.8 1117.4 1760.6 1114.5 1761.3 1111.6 1762.1 1108.8 1762.8 1105.9 1763.6 1103.0 1764.3 1100.1 1765.0 1097.2 1765.7 1094.3 1766.4 1091.3 1767.1 1088.4 1767.7 1085.5 1768.4 1082.6 1769.0 1079.6 1769.7 1076.7 1770.3 1073.8 1770.9 1070.8 1771.5 1067.9 1772.1 1064.9 1772.7 1062.0 1773.2 1059.0 1773.8 1056.1 1774.3 1053.1 1774.9 1050.2 1775.4 1047.2 1776.0 1044.2 1776.5 1041.2 1777.0 1038.3 1777.5 1035.3 1778.0 1032.3 1778.5 1029.3 1779.0 1026.4 1779.5 1023.4 1780.0 1020.4 1780.5 1017.4 1780.9 1014.4 1781.4 1011.4 1781.9 1008.4 1782.3 1005.4 1782.8 1002.4 1783.2 999.5 1783.7 996.5 1784.2 993.5 1784.6 990.5 1785.1 987.5 1785.5 984.5 1785.9 981.5 1786.4 978.5 1786.8 975.5 1787.3 972.5 1787.7 969.5 1788.2 966.5 1788.6 963.5 1789.1 960.5 1789.5 957.5 1790.0 954.6 1790.4 951.6 1790.9 948.6 1791.3 945.6 1791.8 942.6 1792.2 939.6 1792.7 936.6 1793.2 933.7 1793.6 930.7 1794.1 927.7 1794.6 924.7 1795.1 921.8 1795.5 918.8 1796.0 915.8 1796.5 912.9 1797.0 909.9 1797.4 906.9 1797.9 904.0 1798.4 901.0 1798.9 898.0 1799.4 895.1 1799.8 892.1 1800.3 889.2 1800.8 886.2 1801.3 883.2 1801.8 880.3 1802.2 877.3 1802.7 874.4 1803.2 871.4 1803.6 868.5 1804.1 865.5 1804.5 862.6 1805.0 859.6 1805.5 856.7 1805.9 853.7 1806.3 850.8 1806.8 847.9 1807.2 844.9 1807.7 842.0 1808.1 839.0 1808.5 836.1 1808.9 833.2 1809.3 830.2 1809.8 827.3 1810.2 824.4 1810.6 821.4 1811.0 818.5 1811.4 815.6 1811.8 812.6 1812.2 809.7 1812.7 806.8 1813.1 803.8 1813.5 800.9 1813.9 798.0 1814.4 795.0 1814.8 792.1 1815.3 789.2 1815.7 786.2 1816.2 783.3 1816.7 780.4 1817.2 777.5 1817.6 774.5 1818.1 771.6 1818.7 768.7 1819.2 765.8 1819.7 762.8 1820.3 759.9 1820.8 757.0 1821.4 754.1 1822.0 751.1 1822.6 748.2 1823.3 745.3 1823.9 742.3 1824.6 739.3 1825.3 736.4 1826.1 733.4 1826.8 730.4 1827.6 727.4 1828.4 724.3 1829.3 721.3 1830.1 718.2 1831.1 715.1 1832.0 712.0 1833.0 708.9 1834.2 705.8 1835.5 703.0 1837.1 700.5 1839.1 698.4 1841.3 696.8 1843.8 695.8 1846.4 695.5 1848.8 696.2 1851.0 697.7 1852.6 699.9 1853.9 702.6 1854.9 705.6 1855.7 708.7 1856.6 711.7 1857.5 714.7 1858.3 717.6 1859.2 720.6 1860.0 723.4 1860.8 726.3 1861.6 729.2 1862.4 732.0 1863.2 734.9 1864.0 737.7 1864.8 740.6 1865.5 743.4 1866.3 746.3 1867.0 749.2 1867.8 752.1 1868.5 755.0 1869.2 757.9 1869.9 760.8 1870.6 763.7 1871.3 766.6 1872.0 769.5 1872.7 772.5 1873.4 775.4 1874.0 778.3 1874.7 781.3 1875.3 784.2 1876.0 787.2 1876.6 790.1 1877.2 793.1 1877.9 796.0 1878.5 799.0 1879.1 802.0 1879.7 804.9 1880.3 807.9 1880.8 810.9 1881.4 813.8 1882.0 816.8 1882.6 819.8 1883.1 822.8 1883.7 825.7 1884.2 828.7 1884.8 831.7 1885.3 834.7 1885.8 837.6 1886.3 840.6 1886.9 843.6 1887.4 846.6 1887.9 849.6 1888.4 852.5 1888.9 855.5 1889.4 858.5 1889.9 861.5 1890.4 864.4 1890.8 867.4 1891.3 870.4 1891.8 873.4 1892.3 876.3 1892.7 879.3 1893.2 882.3 1893.7 885.2 1894.1 888.2 1894.6 891.2 1895.0 894.1 1895.5 897.1 1895.9 900.0 1896.3 903.0 1896.8 906.0 1897.2 908.9 1897.6 911.9 1898.1 914.8 1898.5 917.8 1898.9 920.7 1899.3 923.7 1899.8 926.6 1900.2 929.6 1900.6 932.5 1901.0 935.5 1901.4 938.4 1901.8 941.4 1902.2 944.3 1902.6 947.3 1903.1 950.3 1903.5 953.2 1903.9 956.2 1904.3 959.1 1904.7 962.1 1905.1 965.0 1905.5 968.0 1905.9 970.9 1906.3 973.9 1906.7 976.8 1907.1 979.8 1907.5 982.7 1907.9 985.7 1908.3 988.6 1908.7 991.6 1909.1 994.5 1909.5 997.5 1909.9 1000.4 1910.4 1003.4 1910.8 1006.3 1911.2 1009.3 1911.6 1012.3 1912.0 1015.2 1912.4 1018.2 1912.8 1021.1 1913.3 1024.1 1913.7 1027.1 1914.1 1030.0 1914.5 1033.0 1915.0 1036.0 1915.4 1038.9 1915.8 1041.9 1916.3 1044.9 1916.7 1047.8 1917.1 1050.8 1917.6 1053.8 1918.0 1056.7 1918.5 1059.7 1918.9 1062.7 1919.4 1065.7 1919.9 1068.7 1920.3 1071.6 1920.8 1074.6 1921.3 1077.6 1921.7 1080.6 1922.2 1083.6 1922.7 1086.5 1923.2 1089.5 1923.7 1092.5 1924.2 1095.5 1924.7 1098.5 1925.2 1101.4 1925.8 1104.4 1926.3 1107.4 1926.8 1110.4 1927.4 1113.4 1927.9 1116.3 1928.5 1119.3 1929.0 1122.3 1929.6 1125.3 1930.2 1128.2 1930.8 1131.2 1931.3 1134.2 1931.9 1137.1 1932.5 1140.1 1933.2 1143.0 1933.8 1146.0 1934.4 1149.0 1935.0 1151.9 1935.7 1154.9 1936.3 1157.8 1937.0 1160.8 1937.7 1163.7 1938.4 1166.7 1939.1 1169.6 1939.8 1172.5 1940.5 1175.5 1941.2 1178.4 1941.9 1181.3 1942.7 1184.2 1943.4 1187.1 1944.2 1190.1 1945.0 1193.0 1945.7 1195.9 1946.5 1198.8 1947.3 1201.7 1948.2 1204.6 1949.0 1207.5 1949.8 1210.3 1950.7 1213.2 1951.6 1216.1 1952.4 1219.0 1953.3 1221.8 1954.2 1224.7 1955.1 1227.5 1956.1 1230.4 1957.0 1233.2 1958.0 1236.1 1958.9 1238.9 1959.9 1241.7 1960.9 1244.5 1961.9 1247.3 1962.9 1250.1 1964.0 1252.9 1965.0 1255.7 1966.1 1258.5 1967.2 1261.3 1968.3 1264.1 1969.4 1266.8 1970.5 1269.6 1971.7 1272.3 1972.8 1275.1 1974.0 1277.8 1975.2 1280.5 1976.4 1283.3 1977.6 1286.0 1978.9 1288.7 1980.1 1291.4 1981.4 1294.1 1982.7 1296.8 1984.0 1299.4 1985.3 1302.1 1986.6 1304.7 1988.0 1307.4 1989.4 1310.0 1990.8 1312.7 1992.2 1315.3 1993.6 1317.9 1995.1 1320.5 1996.5 1323.1 1998.0 1325.7 1999.5 1328.2 2001.0 1330.8 2002.6 1333.4 2004.1 1335.9 2005.7 1338.4 2007.3 1341.0 2008.9 1343.5 2010.6 1346.0 2012.2 1348.5 2013.9 1350.9 2015.6 1353.4 2017.3 1355.9 2019.0 1358.3 2020.8 1360.7 2022.5 1363.2 2024.3 1365.6 2026.1 1368.0 2027.9 1370.4 2029.7 1372.7 2031.6 1375.1 2033.4 1377.5 2035.3 1379.8 2037.2 1382.1 2039.1 1384.4 2041.1 1386.7 2043.0 1389.0 2045.0 1391.3 2046.9 1393.6 2048.9 1395.8 2050.9 1398.0 2053.0 1400.3 2055.0 1402.5 2057.1 1404.7 2059.1 1406.8 2061.2 1409.0 2063.3 1411.1 2065.5 1413.3 2067.6 1415.4 2069.7 1417.5 2071.9 1419.6 2074.1 1421.7 2076.3 1423.7 2078.5 1425.8 2080.7 1427.8 2082.9 1429.8 2085.2 1431.8 2087.4 1433.8 2089.7 1435.7 2092.0 1437.7 2094.3 1439.6 2096.6 1441.5 2099.0 1443.4 2101.3 1445.3 2103.7 1447.1 2106.0 1449.0 2108.4 1450.8 2110.8 1452.6 2113.2 1454.4 2115.7 1456.2 2118.1 1457.9 2120.5 1459.7 2123.0 1461.4 2125.5 1463.1 2128.0 1464.8 2130.4 1466.4 2133.0 1468.1 2135.5 1469.7 2138.0 1471.3 2140.5 1472.9 2143.1 1474.5 2145.7 1476.0 2148.2 1477.6 2150.8 1479.1 2153.4 1480.6 2156.0 1482.0 2158.6 1483.5 2161.3 1484.9 2163.9 1486.3 2166.6 1487.7 2169.2 1489.1 2171.9 1490.4 2174.6 1491.7 2177.3 1493.0 2179.9 1494.3 2182.7 1495.6 2185.4 1496.8 2188.1 1498.0 2190.8 1499.2 2193.6 1500.4 2196.3 1501.6 2199.1 1502.7 2201.9 1503.8 2204.6 1504.9 2207.4 1506.0 2210.2 1507.1 2213.0 1508.1 2215.8 1509.1 2218.6 1510.1 2221.4 1511.1 2224.3 1512.1 2227.1 1513.1 2230.0 1514.0 2232.8 1514.9 2235.7 1515.8 2238.5 1516.7 2241.4 1517.6 2244.3 1518.4 2247.2 1519.2 2250.0 1520.1 2252.9 1520.9 2255.8 1521.7 2258.7 1522.4 2261.6 1523.2 2264.6 1523.9 2267.5 1524.6 2270.4 1525.3 2273.3 1526.0 2276.3 1526.7 2279.2 1527.4 2282.1 1528.0 2285.1 1528.7 2288.0 1529.3 2291.0 1529.9 2293.9 1530.5 2296.9 1531.1 2299.9 1531.7 2302.8 1532.2 2305.8 1532.8 2308.8 1533.3 2311.8 1533.8 2314.7 1534.3 2317.7 1534.8 2320.7 1535.3 2323.7 1535.8 2326.7 1536.2 2329.7 1536.7 2332.6 1537.1 2335.6 1537.5 2338.6 1537.9 2341.6 1538.4 2344.6 1538.8 2347.6 1539.1 2350.6 1539.5 2353.6 1539.9 2356.6 1540.2 2359.6 1540.6 2362.6 1540.9 2365.6 1541.2 2368.6 1541.6 2371.6 1541.9 2374.6 1542.2 2377.6 1542.5 2380.6 1542.8 2383.6 1543.0 2386.6 1543.3 2389.6 1543.6 2392.6 1543.8 2395.6 1544.1 2398.5 1544.3 2401.5 1544.6 2404.5 1544.8 2407.5 1545.0 2410.5 1545.2 2413.5 1545.4 2416.4 1545.6 2419.4 1545.8 2422.4 1546.0 2425.4 1546.2 2428.3 1546.4 2431.3 1546.6 2434.2 1546.8 2437.2 1546.9 2440.1 1547.1 2443.1 1547.3 2446.0 1547.4 2449.0 1547.6"/>
</g>
<g stroke="#000" stroke-width="6" fill="none" shape-rendering="crispEdges">
<line x1="1910.6" y1="291" x2="1909.2" y2="411"/>
<line x1="1690.2" y1="608.5" x2="1815" y2="721"/>
<line x1="2028.8" y1="577" x2="2152.7" y2="462.4"/>
<line x1="1988.8" y1="842.5" x2="2112.8" y2="726.5"/>
<line x1="2065.1" y1="1102" x2="2187.8" y2="987.2"/>
</g>
<g stroke="#000" stroke-width="6.5" fill="none" shape-rendering="crispEdges">
<line x1="289.6" y1="10" x2="289.6" y2="1569" stroke-width="6.8"/>
<line x1="288.9" y1="1569.0" x2="2449" y2="1569.0" stroke-width="6.0"/>
<line x1="259.9" y1="1555.5" x2="289.6" y2="1555.5"/><line x1="275.0" y1="1417.5" x2="289.6" y2="1417.5"/><line x1="259.9" y1="1279.6" x2="289.6" y2="1279.6"/><line x1="275.0" y1="1141.7" x2="289.6" y2="1141.7"/><line x1="259.9" y1="1003.7" x2="289.6" y2="1003.7"/><line x1="275.0" y1="865.8" x2="289.6" y2="865.8"/><line x1="259.9" y1="727.8" x2="289.6" y2="727.8"/><line x1="275.0" y1="589.9" x2="289.6" y2="589.9"/><line x1="259.9" y1="451.9" x2="289.6" y2="451.9"/><line x1="275.0" y1="314.0" x2="289.6" y2="314.0"/><line x1="259.9" y1="176.0" x2="289.6" y2="176.0"/><line x1="275.0" y1="38.0" x2="289.6" y2="38.0"/><line x1="358.1" y1="1569.0" x2="358.1" y2="1584.0"/><line x1="620.7" y1="1569.0" x2="620.7" y2="1599.0"/><line x1="883.3" y1="1569.0" x2="883.3" y2="1584.0"/><line x1="1145.9" y1="1569.0" x2="1145.9" y2="1599.0"/><line x1="1408.5" y1="1569.0" x2="1408.5" y2="1584.0"/><line x1="1671.2" y1="1569.0" x2="1671.2" y2="1599.0"/><line x1="1933.8" y1="1569.0" x2="1933.8" y2="1584.0"/><line x1="2196.4" y1="1569.0" x2="2196.4" y2="1599.0"/>
</g>
<g class="serif" font-size="85" fill="#000" text-anchor="end" filter="url(#bin)">
<text x="240" y="1580.8">0.0</text><text x="240" y="1304.9">0.2</text><text x="240" y="1029.0">0.4</text><text x="240" y="753.1">0.6</text><text x="240" y="477.2">0.8</text><text x="240" y="201.3">1.0</text>
</g>
<g class="serif" font-size="85" fill="#000" text-anchor="middle" filter="url(#bin)">
<text x="620.7" y="1685">400</text><text x="1145.9" y="1685">500</text><text x="1671.2" y="1685">600</text><text x="2196.4" y="1685">700</text>
</g>
<text class="serif" font-size="93" x="1402.3" y="1800" text-anchor="middle" filter="url(#bin)">Wavelength [nm]</text>
<g filter="url(#bin)"><text class="serif" font-size="92.3" transform="translate(86.6,653.9) rotate(-90)" text-anchor="middle">Absorbance [a. u.]</text></g>
<g class="sans" font-size="91" filter="url(#bin)">
<text x="1749" y="269.5" fill="#000" letter-spacing="0.73">Ni-Pheo</text>
<text x="2077" y="439" fill="#800000" letter-spacing="-0.43">Chla</text>
<text x="1488" y="591" fill="#ff0000" letter-spacing="0.68">Pt-Pheo</text>
<text x="2056.8" y="708" fill="#0000ff" letter-spacing="0.82">Zn-Pheo</text>
<text x="2089" y="966" fill="#008000" letter-spacing="0.67">Pheo</text>
</g>
</svg>
</body></html>
